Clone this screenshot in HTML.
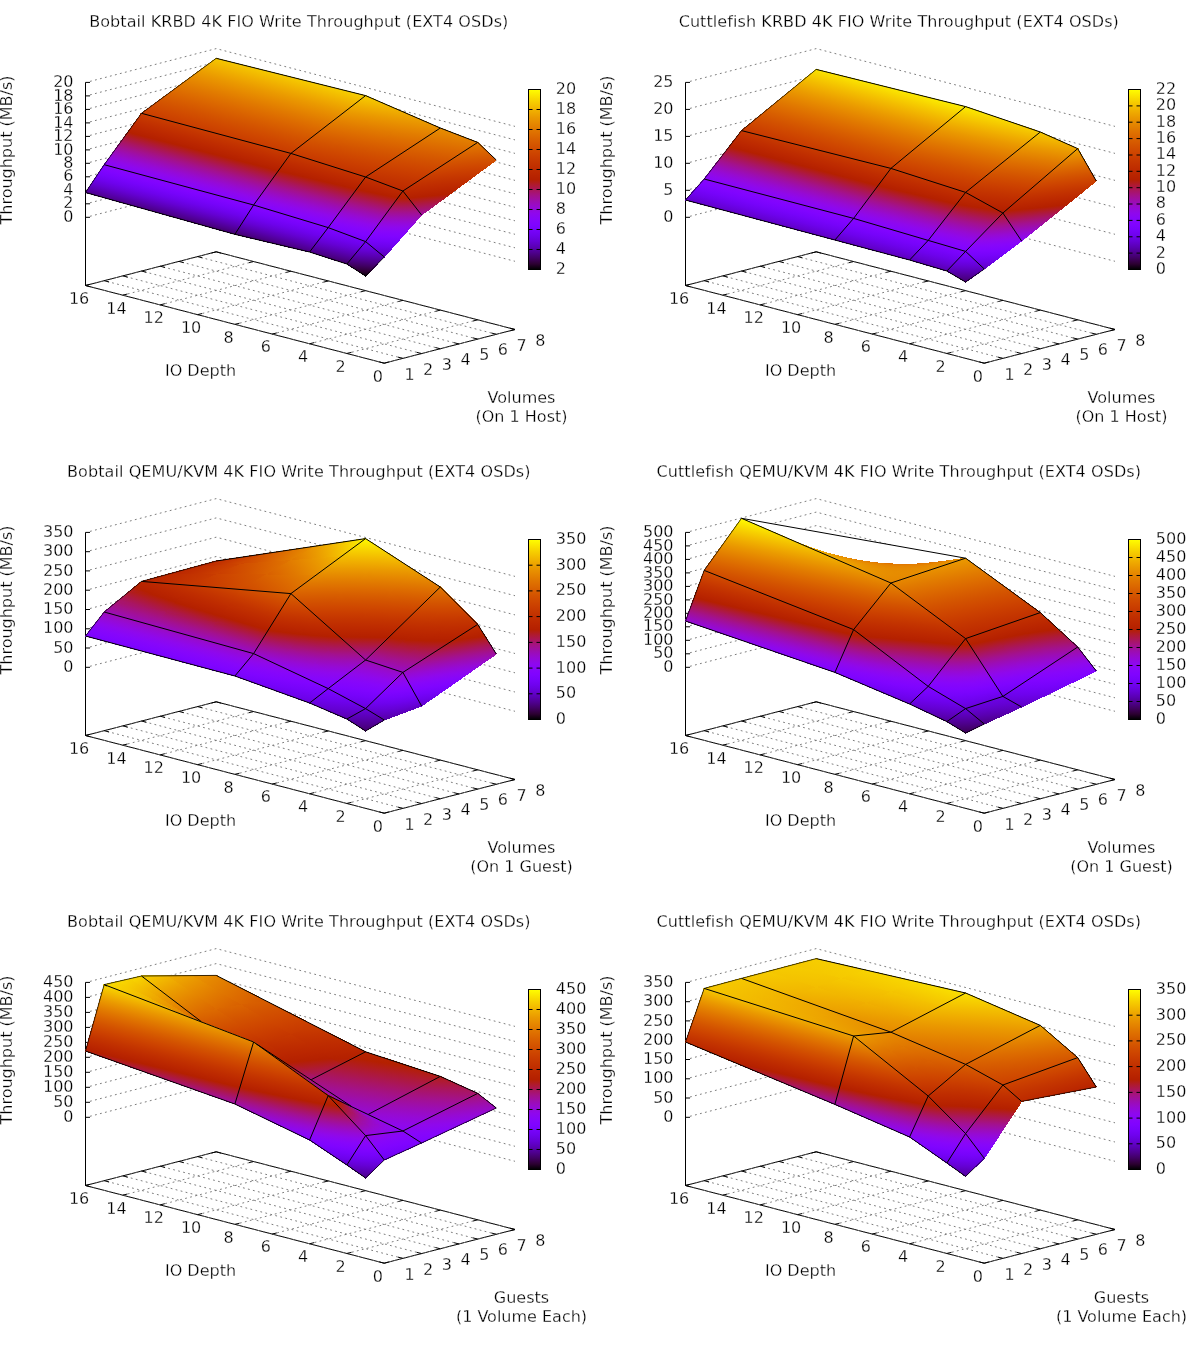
<!DOCTYPE html>
<html><head><meta charset="utf-8"><title>4K FIO Write Throughput</title>
<style>
html,body{margin:0;padding:0;background:#fff}
svg{display:block}
text{font-family:'DejaVu Sans','Liberation Sans',sans-serif;font-size:16px;fill:#000;stroke:#fff;stroke-width:.26px;paint-order:fill stroke}
.t{letter-spacing:.08px}
.s polygon{shape-rendering:crispEdges;stroke-width:1}
.m{fill:none;stroke:#000;stroke-width:1}
.n{stroke-width:.75}
.b{fill:none;stroke:#000;stroke-width:1}
.g{fill:none;stroke:#6e6e6e;stroke-width:.9;stroke-dasharray:1.8 3.35}
</style></head><body>
<svg width="1200" height="1350" viewBox="0 0 1200 1350">
<defs>
<linearGradient id="pal"><stop offset="0" stop-color="#000000"/><stop offset="0.03125" stop-color="#2d0032"/><stop offset="0.0625" stop-color="#400062"/><stop offset="0.09375" stop-color="#4e008e"/><stop offset="0.125" stop-color="#5a00b4"/><stop offset="0.1562" stop-color="#6501d4"/><stop offset="0.1875" stop-color="#6e02ec"/><stop offset="0.2188" stop-color="#7703fa"/><stop offset="0.25" stop-color="#8004ff"/><stop offset="0.2812" stop-color="#8706fa"/><stop offset="0.3125" stop-color="#8f08ec"/><stop offset="0.3438" stop-color="#960ad4"/><stop offset="0.375" stop-color="#9c0db4"/><stop offset="0.4062" stop-color="#a3118e"/><stop offset="0.4375" stop-color="#a91562"/><stop offset="0.4688" stop-color="#af1a32"/><stop offset="0.5" stop-color="#b42000"/><stop offset="0.5312" stop-color="#ba2600"/><stop offset="0.5625" stop-color="#bf2d00"/><stop offset="0.5938" stop-color="#c43500"/><stop offset="0.625" stop-color="#ca3e00"/><stop offset="0.6562" stop-color="#cf4800"/><stop offset="0.6875" stop-color="#d35300"/><stop offset="0.7188" stop-color="#d85f00"/><stop offset="0.75" stop-color="#dd6c00"/><stop offset="0.7812" stop-color="#e17a00"/><stop offset="0.8125" stop-color="#e68900"/><stop offset="0.8438" stop-color="#ea9900"/><stop offset="0.875" stop-color="#efab00"/><stop offset="0.9062" stop-color="#f3be00"/><stop offset="0.9375" stop-color="#f7d200"/><stop offset="0.9688" stop-color="#fbe800"/><stop offset="1" stop-color="#ffff00"/></linearGradient>
<linearGradient id="cbar" href="#pal" x1="0" y1="1" x2="0" y2="0"/>
<linearGradient id="g1" href="#pal" gradientUnits="userSpaceOnUse" x1="173.3" y1="280.1" x2="236.7" y2="43.7"/>
<linearGradient id="g2" href="#pal" gradientUnits="userSpaceOnUse" x1="156.1" y1="274.5" x2="217.7" y2="38.9"/>
<linearGradient id="g3" href="#pal" gradientUnits="userSpaceOnUse" x1="138.5" y1="269" x2="198.4" y2="34.3"/>
<linearGradient id="g4" href="#pal" gradientUnits="userSpaceOnUse" x1="223.7" y1="290.7" x2="286.2" y2="57.4"/>
<linearGradient id="g5" href="#pal" gradientUnits="userSpaceOnUse" x1="206.5" y1="285.1" x2="267.3" y2="52.6"/>
<linearGradient id="g6" href="#pal" gradientUnits="userSpaceOnUse" x1="188.9" y1="279.7" x2="248" y2="48"/>
<linearGradient id="g7" href="#pal" gradientUnits="userSpaceOnUse" x1="274" y1="301.4" x2="335.7" y2="71.1"/>
<linearGradient id="g8" href="#pal" gradientUnits="userSpaceOnUse" x1="256.9" y1="295.9" x2="316.9" y2="66.3"/>
<linearGradient id="g9" href="#pal" gradientUnits="userSpaceOnUse" x1="239.3" y1="290.5" x2="297.7" y2="61.7"/>
<linearGradient id="g10" href="#pal" gradientUnits="userSpaceOnUse" x1="136" y1="222.9" x2="178.7" y2="56.6"/>
<linearGradient id="g11" href="#pal" gradientUnits="userSpaceOnUse" x1="128.5" y1="221" x2="171.1" y2="54.7"/>
<linearGradient id="g12" href="#pal" gradientUnits="userSpaceOnUse" x1="120.9" y1="219" x2="163.5" y2="52.7"/>
<linearGradient id="g13" href="#pal" gradientUnits="userSpaceOnUse" x1="186" y1="235.7" x2="228.6" y2="69.4"/>
<linearGradient id="g14" href="#pal" gradientUnits="userSpaceOnUse" x1="178.4" y1="233.7" x2="221" y2="67.5"/>
<linearGradient id="g15" href="#pal" gradientUnits="userSpaceOnUse" x1="170.9" y1="231.8" x2="213.4" y2="65.6"/>
<linearGradient id="g16" href="#pal" gradientUnits="userSpaceOnUse" x1="235.9" y1="248.4" x2="278.5" y2="82.3"/>
<linearGradient id="g17" href="#pal" gradientUnits="userSpaceOnUse" x1="228.4" y1="246.5" x2="270.9" y2="80.3"/>
<linearGradient id="g18" href="#pal" gradientUnits="userSpaceOnUse" x1="220.8" y1="244.5" x2="263.4" y2="78.4"/>
<linearGradient id="g19" href="#pal" gradientUnits="userSpaceOnUse" x1="115.7" y1="216.1" x2="156.9" y2="55.1"/>
<linearGradient id="g20" href="#pal" gradientUnits="userSpaceOnUse" x1="112.2" y1="215.2" x2="153.1" y2="54.2"/>
<linearGradient id="g21" href="#pal" gradientUnits="userSpaceOnUse" x1="108.6" y1="214.3" x2="149.3" y2="53.3"/>
<linearGradient id="g22" href="#pal" gradientUnits="userSpaceOnUse" x1="165.8" y1="228.7" x2="206.7" y2="68.6"/>
<linearGradient id="g23" href="#pal" gradientUnits="userSpaceOnUse" x1="162.2" y1="227.7" x2="203" y2="67.7"/>
<linearGradient id="g24" href="#pal" gradientUnits="userSpaceOnUse" x1="158.7" y1="226.8" x2="199.2" y2="66.8"/>
<linearGradient id="g25" href="#pal" gradientUnits="userSpaceOnUse" x1="215.8" y1="241.2" x2="256.5" y2="82.1"/>
<linearGradient id="g26" href="#pal" gradientUnits="userSpaceOnUse" x1="212.3" y1="240.3" x2="252.8" y2="81.2"/>
<linearGradient id="g27" href="#pal" gradientUnits="userSpaceOnUse" x1="208.8" y1="239.4" x2="249.1" y2="80.3"/>
<linearGradient id="g28" href="#pal" gradientUnits="userSpaceOnUse" x1="340.2" y1="295.6" x2="369.6" y2="81.4"/>
<linearGradient id="g29" href="#pal" gradientUnits="userSpaceOnUse" x1="313.6" y1="296" x2="349.1" y2="77.4"/>
<linearGradient id="g30" href="#pal" gradientUnits="userSpaceOnUse" x1="287.5" y1="295.6" x2="330.3" y2="72.4"/>
<linearGradient id="g31" href="#pal" gradientUnits="userSpaceOnUse" x1="366.7" y1="304.6" x2="395.3" y2="83.9"/>
<linearGradient id="g32" href="#pal" gradientUnits="userSpaceOnUse" x1="339.5" y1="305.6" x2="374.8" y2="79.7"/>
<linearGradient id="g33" href="#pal" gradientUnits="userSpaceOnUse" x1="312.8" y1="305.8" x2="356" y2="74.3"/>
<linearGradient id="g34" href="#pal" gradientUnits="userSpaceOnUse" x1="393.4" y1="313.9" x2="420.9" y2="85.8"/>
<linearGradient id="g35" href="#pal" gradientUnits="userSpaceOnUse" x1="365.6" y1="315.7" x2="400.4" y2="81.3"/>
<linearGradient id="g36" href="#pal" gradientUnits="userSpaceOnUse" x1="338.1" y1="316.7" x2="381.7" y2="75.6"/>
<linearGradient id="g37" href="#pal" gradientUnits="userSpaceOnUse" x1="275.4" y1="257.6" x2="314.7" y2="91.8"/>
<linearGradient id="g38" href="#pal" gradientUnits="userSpaceOnUse" x1="267.3" y1="255.8" x2="306.9" y2="89.9"/>
<linearGradient id="g39" href="#pal" gradientUnits="userSpaceOnUse" x1="259.3" y1="253.9" x2="299.2" y2="88"/>
<linearGradient id="g40" href="#pal" gradientUnits="userSpaceOnUse" x1="300.7" y1="263.8" x2="340" y2="97.6"/>
<linearGradient id="g41" href="#pal" gradientUnits="userSpaceOnUse" x1="292.6" y1="262" x2="332.2" y2="95.7"/>
<linearGradient id="g42" href="#pal" gradientUnits="userSpaceOnUse" x1="284.6" y1="260.1" x2="324.5" y2="93.8"/>
<linearGradient id="g43" href="#pal" gradientUnits="userSpaceOnUse" x1="326" y1="270" x2="365.4" y2="103.4"/>
<linearGradient id="g44" href="#pal" gradientUnits="userSpaceOnUse" x1="317.9" y1="268.2" x2="357.6" y2="101.5"/>
<linearGradient id="g45" href="#pal" gradientUnits="userSpaceOnUse" x1="309.8" y1="266.3" x2="349.8" y2="99.6"/>
<linearGradient id="g46" href="#pal" gradientUnits="userSpaceOnUse" x1="253.6" y1="250.9" x2="293.3" y2="90.9"/>
<linearGradient id="g47" href="#pal" gradientUnits="userSpaceOnUse" x1="249.7" y1="250.1" x2="290.8" y2="89.9"/>
<linearGradient id="g48" href="#pal" gradientUnits="userSpaceOnUse" x1="246" y1="249.2" x2="288.5" y2="88.9"/>
<linearGradient id="g49" href="#pal" gradientUnits="userSpaceOnUse" x1="278.6" y1="257.9" x2="318.9" y2="94.5"/>
<linearGradient id="g50" href="#pal" gradientUnits="userSpaceOnUse" x1="274.6" y1="257" x2="316.5" y2="93.5"/>
<linearGradient id="g51" href="#pal" gradientUnits="userSpaceOnUse" x1="270.7" y1="256.1" x2="314.2" y2="92.4"/>
<linearGradient id="g52" href="#pal" gradientUnits="userSpaceOnUse" x1="303.6" y1="265" x2="344.7" y2="97.7"/>
<linearGradient id="g53" href="#pal" gradientUnits="userSpaceOnUse" x1="299.4" y1="264.1" x2="342.2" y2="96.6"/>
<linearGradient id="g54" href="#pal" gradientUnits="userSpaceOnUse" x1="295.4" y1="263.1" x2="340" y2="95.4"/>
<linearGradient id="g55" href="#pal" gradientUnits="userSpaceOnUse" x1="408.6" y1="324" x2="441.3" y2="86.1"/>
<linearGradient id="g56" href="#pal" gradientUnits="userSpaceOnUse" x1="385.9" y1="321.4" x2="419.2" y2="82.9"/>
<linearGradient id="g57" href="#pal" gradientUnits="userSpaceOnUse" x1="363.2" y1="318.7" x2="397.3" y2="79.5"/>
<linearGradient id="g58" href="#pal" gradientUnits="userSpaceOnUse" x1="421.5" y1="326.1" x2="454.1" y2="87.8"/>
<linearGradient id="g59" href="#pal" gradientUnits="userSpaceOnUse" x1="398.8" y1="323.5" x2="432.1" y2="84.5"/>
<linearGradient id="g60" href="#pal" gradientUnits="userSpaceOnUse" x1="376.1" y1="320.8" x2="410.2" y2="81.2"/>
<linearGradient id="g61" href="#pal" gradientUnits="userSpaceOnUse" x1="434.4" y1="328.2" x2="467" y2="89.4"/>
<linearGradient id="g62" href="#pal" gradientUnits="userSpaceOnUse" x1="411.7" y1="325.6" x2="444.9" y2="86.2"/>
<linearGradient id="g63" href="#pal" gradientUnits="userSpaceOnUse" x1="389" y1="322.9" x2="423" y2="82.8"/>
<linearGradient id="g64" href="#pal" gradientUnits="userSpaceOnUse" x1="347.4" y1="274.1" x2="382.4" y2="108.1"/>
<linearGradient id="g65" href="#pal" gradientUnits="userSpaceOnUse" x1="338.9" y1="272.3" x2="373.9" y2="106.3"/>
<linearGradient id="g66" href="#pal" gradientUnits="userSpaceOnUse" x1="330.4" y1="270.5" x2="365.4" y2="104.5"/>
<linearGradient id="g67" href="#pal" gradientUnits="userSpaceOnUse" x1="360.2" y1="276.8" x2="395.3" y2="110.8"/>
<linearGradient id="g68" href="#pal" gradientUnits="userSpaceOnUse" x1="351.7" y1="275" x2="386.8" y2="109"/>
<linearGradient id="g69" href="#pal" gradientUnits="userSpaceOnUse" x1="343.2" y1="273.2" x2="378.3" y2="107.2"/>
<linearGradient id="g70" href="#pal" gradientUnits="userSpaceOnUse" x1="373.1" y1="279.5" x2="408.1" y2="113.5"/>
<linearGradient id="g71" href="#pal" gradientUnits="userSpaceOnUse" x1="364.6" y1="277.7" x2="399.6" y2="111.7"/>
<linearGradient id="g72" href="#pal" gradientUnits="userSpaceOnUse" x1="356.1" y1="275.9" x2="391.1" y2="109.9"/>
<linearGradient id="g73" href="#pal" gradientUnits="userSpaceOnUse" x1="323.7" y1="269.9" x2="359.6" y2="100.7"/>
<linearGradient id="g74" href="#pal" gradientUnits="userSpaceOnUse" x1="319.2" y1="269" x2="356.4" y2="99.5"/>
<linearGradient id="g75" href="#pal" gradientUnits="userSpaceOnUse" x1="314.8" y1="268.1" x2="353.4" y2="98.3"/>
<linearGradient id="g76" href="#pal" gradientUnits="userSpaceOnUse" x1="336.5" y1="273" x2="372.5" y2="101.9"/>
<linearGradient id="g77" href="#pal" gradientUnits="userSpaceOnUse" x1="331.9" y1="272.1" x2="369.3" y2="100.7"/>
<linearGradient id="g78" href="#pal" gradientUnits="userSpaceOnUse" x1="327.5" y1="271.2" x2="366.3" y2="99.5"/>
<linearGradient id="g79" href="#pal" gradientUnits="userSpaceOnUse" x1="349.4" y1="276" x2="385.5" y2="103.1"/>
<linearGradient id="g80" href="#pal" gradientUnits="userSpaceOnUse" x1="344.7" y1="275.2" x2="382.3" y2="101.8"/>
<linearGradient id="g81" href="#pal" gradientUnits="userSpaceOnUse" x1="340.2" y1="274.3" x2="379.3" y2="100.5"/>
<linearGradient id="g82" href="#pal" gradientUnits="userSpaceOnUse" x1="477.8" y1="281.4" x2="464.8" y2="106.1"/>
<linearGradient id="g83" href="#pal" gradientUnits="userSpaceOnUse" x1="453.4" y1="279.8" x2="437.9" y2="110"/>
<linearGradient id="g84" href="#pal" gradientUnits="userSpaceOnUse" x1="428.3" y1="279.7" x2="410.9" y2="114.3"/>
<linearGradient id="g85" href="#pal" gradientUnits="userSpaceOnUse" x1="482.5" y1="280.2" x2="471" y2="106"/>
<linearGradient id="g86" href="#pal" gradientUnits="userSpaceOnUse" x1="458.1" y1="278.8" x2="444" y2="109.8"/>
<linearGradient id="g87" href="#pal" gradientUnits="userSpaceOnUse" x1="433" y1="278.7" x2="416.9" y2="114.1"/>
<linearGradient id="g88" href="#pal" gradientUnits="userSpaceOnUse" x1="487.4" y1="279.1" x2="477.2" y2="106"/>
<linearGradient id="g89" href="#pal" gradientUnits="userSpaceOnUse" x1="463" y1="277.9" x2="450.2" y2="109.7"/>
<linearGradient id="g90" href="#pal" gradientUnits="userSpaceOnUse" x1="437.8" y1="277.9" x2="423" y2="113.9"/>
<linearGradient id="g91" href="#pal" gradientUnits="userSpaceOnUse" x1="398.8" y1="274.4" x2="401" y2="121.7"/>
<linearGradient id="g92" href="#pal" gradientUnits="userSpaceOnUse" x1="385.3" y1="275.1" x2="391.1" y2="120"/>
<linearGradient id="g93" href="#pal" gradientUnits="userSpaceOnUse" x1="372.4" y1="275.3" x2="382.5" y2="117.5"/>
<linearGradient id="g94" href="#pal" gradientUnits="userSpaceOnUse" x1="405.7" y1="275" x2="406.5" y2="121"/>
<linearGradient id="g95" href="#pal" gradientUnits="userSpaceOnUse" x1="392.2" y1="275.8" x2="396.6" y2="119.1"/>
<linearGradient id="g96" href="#pal" gradientUnits="userSpaceOnUse" x1="379.3" y1="276.1" x2="388" y2="116.5"/>
<linearGradient id="g97" href="#pal" gradientUnits="userSpaceOnUse" x1="412.6" y1="275.5" x2="411.8" y2="120.2"/>
<linearGradient id="g98" href="#pal" gradientUnits="userSpaceOnUse" x1="399.1" y1="276.4" x2="401.8" y2="118.1"/>
<linearGradient id="g99" href="#pal" gradientUnits="userSpaceOnUse" x1="386" y1="276.9" x2="393.3" y2="115.1"/>
<linearGradient id="g100" href="#pal" gradientUnits="userSpaceOnUse" x1="363.7" y1="276" x2="374.9" y2="111.8"/>
<linearGradient id="g101" href="#pal" gradientUnits="userSpaceOnUse" x1="357.6" y1="275.8" x2="371.4" y2="110.1"/>
<linearGradient id="g102" href="#pal" gradientUnits="userSpaceOnUse" x1="351.8" y1="275.4" x2="368.3" y2="108.1"/>
<linearGradient id="g103" href="#pal" gradientUnits="userSpaceOnUse" x1="370.4" y1="276.7" x2="380.4" y2="110.5"/>
<linearGradient id="g104" href="#pal" gradientUnits="userSpaceOnUse" x1="364.3" y1="276.5" x2="376.9" y2="108.6"/>
<linearGradient id="g105" href="#pal" gradientUnits="userSpaceOnUse" x1="358.5" y1="276.2" x2="373.9" y2="106.4"/>
<linearGradient id="g106" href="#pal" gradientUnits="userSpaceOnUse" x1="377" y1="277.4" x2="385.6" y2="108.9"/>
<linearGradient id="g107" href="#pal" gradientUnits="userSpaceOnUse" x1="370.9" y1="277.2" x2="382.2" y2="106.8"/>
<linearGradient id="g108" href="#pal" gradientUnits="userSpaceOnUse" x1="365.1" y1="276.9" x2="379.3" y2="104.4"/>
<linearGradient id="g109" href="#pal" gradientUnits="userSpaceOnUse" x1="176.2" y1="280" x2="234.2" y2="65.4"/>
<linearGradient id="g110" href="#pal" gradientUnits="userSpaceOnUse" x1="158.4" y1="275" x2="216.1" y2="60.6"/>
<linearGradient id="g111" href="#pal" gradientUnits="userSpaceOnUse" x1="140.5" y1="270.1" x2="197.9" y2="55.7"/>
<linearGradient id="g112" href="#pal" gradientUnits="userSpaceOnUse" x1="225.9" y1="292.9" x2="283.7" y2="78.8"/>
<linearGradient id="g113" href="#pal" gradientUnits="userSpaceOnUse" x1="208.1" y1="288" x2="265.6" y2="74"/>
<linearGradient id="g114" href="#pal" gradientUnits="userSpaceOnUse" x1="190.2" y1="283" x2="247.4" y2="69.2"/>
<linearGradient id="g115" href="#pal" gradientUnits="userSpaceOnUse" x1="275.6" y1="305.9" x2="333.3" y2="92.3"/>
<linearGradient id="g116" href="#pal" gradientUnits="userSpaceOnUse" x1="257.8" y1="300.9" x2="315.2" y2="87.4"/>
<linearGradient id="g117" href="#pal" gradientUnits="userSpaceOnUse" x1="239.9" y1="296" x2="297" y2="82.6"/>
<linearGradient id="g118" href="#pal" gradientUnits="userSpaceOnUse" x1="135.9" y1="237.4" x2="179.7" y2="71"/>
<linearGradient id="g119" href="#pal" gradientUnits="userSpaceOnUse" x1="128.4" y1="235.4" x2="171.8" y2="69"/>
<linearGradient id="g120" href="#pal" gradientUnits="userSpaceOnUse" x1="120.8" y1="233.4" x2="163.9" y2="67"/>
<linearGradient id="g121" href="#pal" gradientUnits="userSpaceOnUse" x1="185.7" y1="250.1" x2="229.3" y2="84.4"/>
<linearGradient id="g122" href="#pal" gradientUnits="userSpaceOnUse" x1="178.2" y1="248" x2="221.5" y2="82.4"/>
<linearGradient id="g123" href="#pal" gradientUnits="userSpaceOnUse" x1="170.7" y1="246" x2="213.6" y2="80.4"/>
<linearGradient id="g124" href="#pal" gradientUnits="userSpaceOnUse" x1="235.5" y1="262.7" x2="278.9" y2="97.8"/>
<linearGradient id="g125" href="#pal" gradientUnits="userSpaceOnUse" x1="228.1" y1="260.7" x2="271.1" y2="95.8"/>
<linearGradient id="g126" href="#pal" gradientUnits="userSpaceOnUse" x1="220.6" y1="258.7" x2="263.3" y2="93.8"/>
<linearGradient id="g127" href="#pal" gradientUnits="userSpaceOnUse" x1="114.2" y1="234.9" x2="159.8" y2="57.7"/>
<linearGradient id="g128" href="#pal" gradientUnits="userSpaceOnUse" x1="110" y1="233.8" x2="155.6" y2="56.6"/>
<linearGradient id="g129" href="#pal" gradientUnits="userSpaceOnUse" x1="105.9" y1="232.7" x2="151.3" y2="55.6"/>
<linearGradient id="g130" href="#pal" gradientUnits="userSpaceOnUse" x1="164.1" y1="247.5" x2="209.6" y2="71.1"/>
<linearGradient id="g131" href="#pal" gradientUnits="userSpaceOnUse" x1="160" y1="246.5" x2="205.3" y2="70.1"/>
<linearGradient id="g132" href="#pal" gradientUnits="userSpaceOnUse" x1="155.9" y1="245.4" x2="201.1" y2="69"/>
<linearGradient id="g133" href="#pal" gradientUnits="userSpaceOnUse" x1="214" y1="260.2" x2="259.3" y2="84.6"/>
<linearGradient id="g134" href="#pal" gradientUnits="userSpaceOnUse" x1="209.9" y1="259.1" x2="255.1" y2="83.5"/>
<linearGradient id="g135" href="#pal" gradientUnits="userSpaceOnUse" x1="205.8" y1="258.1" x2="250.8" y2="82.5"/>
<linearGradient id="g136" href="#pal" gradientUnits="userSpaceOnUse" x1="328.5" y1="308.5" x2="369.4" y2="102.1"/>
<linearGradient id="g137" href="#pal" gradientUnits="userSpaceOnUse" x1="307.6" y1="304.9" x2="349.6" y2="98"/>
<linearGradient id="g138" href="#pal" gradientUnits="userSpaceOnUse" x1="287" y1="301.2" x2="330" y2="93.8"/>
<linearGradient id="g139" href="#pal" gradientUnits="userSpaceOnUse" x1="354" y1="314.4" x2="394.9" y2="107.1"/>
<linearGradient id="g140" href="#pal" gradientUnits="userSpaceOnUse" x1="333" y1="310.8" x2="375.1" y2="103"/>
<linearGradient id="g141" href="#pal" gradientUnits="userSpaceOnUse" x1="312.4" y1="307.2" x2="355.5" y2="98.7"/>
<linearGradient id="g142" href="#pal" gradientUnits="userSpaceOnUse" x1="379.5" y1="320.3" x2="420.5" y2="112"/>
<linearGradient id="g143" href="#pal" gradientUnits="userSpaceOnUse" x1="358.5" y1="316.7" x2="400.6" y2="107.9"/>
<linearGradient id="g144" href="#pal" gradientUnits="userSpaceOnUse" x1="337.8" y1="313.1" x2="381" y2="103.6"/>
<linearGradient id="g145" href="#pal" gradientUnits="userSpaceOnUse" x1="275.8" y1="271.8" x2="314.3" y2="107.6"/>
<linearGradient id="g146" href="#pal" gradientUnits="userSpaceOnUse" x1="267.4" y1="270" x2="306.5" y2="105.6"/>
<linearGradient id="g147" href="#pal" gradientUnits="userSpaceOnUse" x1="259.1" y1="268.1" x2="298.9" y2="103.6"/>
<linearGradient id="g148" href="#pal" gradientUnits="userSpaceOnUse" x1="301.1" y1="278.2" x2="339.7" y2="113.1"/>
<linearGradient id="g149" href="#pal" gradientUnits="userSpaceOnUse" x1="292.6" y1="276.4" x2="331.9" y2="111.1"/>
<linearGradient id="g150" href="#pal" gradientUnits="userSpaceOnUse" x1="284.2" y1="274.5" x2="324.2" y2="109.1"/>
<linearGradient id="g151" href="#pal" gradientUnits="userSpaceOnUse" x1="326.3" y1="284.6" x2="365.1" y2="118.6"/>
<linearGradient id="g152" href="#pal" gradientUnits="userSpaceOnUse" x1="317.8" y1="282.8" x2="357.2" y2="116.6"/>
<linearGradient id="g153" href="#pal" gradientUnits="userSpaceOnUse" x1="309.4" y1="280.9" x2="349.6" y2="114.6"/>
<linearGradient id="g154" href="#pal" gradientUnits="userSpaceOnUse" x1="252.2" y1="269.7" x2="294.9" y2="93.9"/>
<linearGradient id="g155" href="#pal" gradientUnits="userSpaceOnUse" x1="247.7" y1="268.8" x2="291.4" y2="92.6"/>
<linearGradient id="g156" href="#pal" gradientUnits="userSpaceOnUse" x1="243.4" y1="267.7" x2="288" y2="91.4"/>
<linearGradient id="g157" href="#pal" gradientUnits="userSpaceOnUse" x1="277.2" y1="276.5" x2="320.5" y2="98"/>
<linearGradient id="g158" href="#pal" gradientUnits="userSpaceOnUse" x1="272.7" y1="275.5" x2="317" y2="96.7"/>
<linearGradient id="g159" href="#pal" gradientUnits="userSpaceOnUse" x1="268.3" y1="274.5" x2="313.6" y2="95.4"/>
<linearGradient id="g160" href="#pal" gradientUnits="userSpaceOnUse" x1="302.2" y1="283.3" x2="346.1" y2="101.9"/>
<linearGradient id="g161" href="#pal" gradientUnits="userSpaceOnUse" x1="297.7" y1="282.3" x2="342.6" y2="100.6"/>
<linearGradient id="g162" href="#pal" gradientUnits="userSpaceOnUse" x1="293.2" y1="281.3" x2="339.2" y2="99.3"/>
<linearGradient id="g163" href="#pal" gradientUnits="userSpaceOnUse" x1="413.4" y1="313.4" x2="437.5" y2="116.9"/>
<linearGradient id="g164" href="#pal" gradientUnits="userSpaceOnUse" x1="394.1" y1="308.6" x2="414.5" y2="114.9"/>
<linearGradient id="g165" href="#pal" gradientUnits="userSpaceOnUse" x1="373.6" y1="304.6" x2="390.8" y2="113.5"/>
<linearGradient id="g166" href="#pal" gradientUnits="userSpaceOnUse" x1="426.1" y1="313.4" x2="450.5" y2="118.8"/>
<linearGradient id="g167" href="#pal" gradientUnits="userSpaceOnUse" x1="406.7" y1="308.7" x2="427.6" y2="116.8"/>
<linearGradient id="g168" href="#pal" gradientUnits="userSpaceOnUse" x1="386.2" y1="304.8" x2="403.9" y2="115.4"/>
<linearGradient id="g169" href="#pal" gradientUnits="userSpaceOnUse" x1="438.8" y1="313.5" x2="463.6" y2="120.8"/>
<linearGradient id="g170" href="#pal" gradientUnits="userSpaceOnUse" x1="419.4" y1="308.9" x2="440.7" y2="118.7"/>
<linearGradient id="g171" href="#pal" gradientUnits="userSpaceOnUse" x1="398.9" y1="305.1" x2="417.1" y2="117.3"/>
<linearGradient id="g172" href="#pal" gradientUnits="userSpaceOnUse" x1="352.5" y1="287.9" x2="378.1" y2="123.3"/>
<linearGradient id="g173" href="#pal" gradientUnits="userSpaceOnUse" x1="340.5" y1="287.1" x2="371.5" y2="120.6"/>
<linearGradient id="g174" href="#pal" gradientUnits="userSpaceOnUse" x1="329.3" y1="286" x2="366.6" y2="117.7"/>
<linearGradient id="g175" href="#pal" gradientUnits="userSpaceOnUse" x1="365.9" y1="291.9" x2="390.8" y2="123.3"/>
<linearGradient id="g176" href="#pal" gradientUnits="userSpaceOnUse" x1="353.5" y1="291.3" x2="384.3" y2="120.3"/>
<linearGradient id="g177" href="#pal" gradientUnits="userSpaceOnUse" x1="341.9" y1="290.3" x2="379.8" y2="117"/>
<linearGradient id="g178" href="#pal" gradientUnits="userSpaceOnUse" x1="379.4" y1="295.9" x2="403.5" y2="122.7"/>
<linearGradient id="g179" href="#pal" gradientUnits="userSpaceOnUse" x1="366.6" y1="295.7" x2="397.1" y2="119.3"/>
<linearGradient id="g180" href="#pal" gradientUnits="userSpaceOnUse" x1="354.4" y1="294.9" x2="392.9" y2="115.5"/>
<linearGradient id="g181" href="#pal" gradientUnits="userSpaceOnUse" x1="321.2" y1="288.2" x2="364.8" y2="105.3"/>
<linearGradient id="g182" href="#pal" gradientUnits="userSpaceOnUse" x1="316.7" y1="287.1" x2="360.4" y2="104.3"/>
<linearGradient id="g183" href="#pal" gradientUnits="userSpaceOnUse" x1="312.3" y1="286.1" x2="356" y2="103.2"/>
<linearGradient id="g184" href="#pal" gradientUnits="userSpaceOnUse" x1="333.8" y1="291.2" x2="377.4" y2="108.4"/>
<linearGradient id="g185" href="#pal" gradientUnits="userSpaceOnUse" x1="329.4" y1="290.1" x2="373" y2="107.3"/>
<linearGradient id="g186" href="#pal" gradientUnits="userSpaceOnUse" x1="324.9" y1="289.1" x2="368.6" y2="106.2"/>
<linearGradient id="g187" href="#pal" gradientUnits="userSpaceOnUse" x1="346.4" y1="294.2" x2="390" y2="111.4"/>
<linearGradient id="g188" href="#pal" gradientUnits="userSpaceOnUse" x1="342" y1="293.1" x2="385.6" y2="110.3"/>
<linearGradient id="g189" href="#pal" gradientUnits="userSpaceOnUse" x1="337.5" y1="292.1" x2="381.2" y2="109.3"/>
<linearGradient id="g190" href="#pal" gradientUnits="userSpaceOnUse" x1="480.3" y1="277.6" x2="464.7" y2="130.2"/>
<linearGradient id="g191" href="#pal" gradientUnits="userSpaceOnUse" x1="453" y1="281.3" x2="438.1" y2="132.6"/>
<linearGradient id="g192" href="#pal" gradientUnits="userSpaceOnUse" x1="425.8" y1="284.8" x2="411.7" y2="134.5"/>
<linearGradient id="g193" href="#pal" gradientUnits="userSpaceOnUse" x1="485.8" y1="277.1" x2="469.5" y2="129.6"/>
<linearGradient id="g194" href="#pal" gradientUnits="userSpaceOnUse" x1="458.5" y1="280.9" x2="443" y2="132"/>
<linearGradient id="g195" href="#pal" gradientUnits="userSpaceOnUse" x1="431.3" y1="284.4" x2="416.7" y2="133.9"/>
<linearGradient id="g196" href="#pal" gradientUnits="userSpaceOnUse" x1="491.1" y1="276.7" x2="474.3" y2="129"/>
<linearGradient id="g197" href="#pal" gradientUnits="userSpaceOnUse" x1="463.9" y1="280.5" x2="447.8" y2="131.3"/>
<linearGradient id="g198" href="#pal" gradientUnits="userSpaceOnUse" x1="436.8" y1="284" x2="421.5" y2="133.2"/>
<linearGradient id="g199" href="#pal" gradientUnits="userSpaceOnUse" x1="403.5" y1="286.8" x2="394.7" y2="135.7"/>
<linearGradient id="g200" href="#pal" gradientUnits="userSpaceOnUse" x1="389.3" y1="288.9" x2="383.7" y2="133.9"/>
<linearGradient id="g201" href="#pal" gradientUnits="userSpaceOnUse" x1="375.3" y1="290.6" x2="373.9" y2="130.9"/>
<linearGradient id="g202" href="#pal" gradientUnits="userSpaceOnUse" x1="410.1" y1="286.9" x2="398.8" y2="134.5"/>
<linearGradient id="g203" href="#pal" gradientUnits="userSpaceOnUse" x1="396" y1="289.2" x2="387.7" y2="132.4"/>
<linearGradient id="g204" href="#pal" gradientUnits="userSpaceOnUse" x1="382.1" y1="291.1" x2="377.9" y2="128.9"/>
<linearGradient id="g205" href="#pal" gradientUnits="userSpaceOnUse" x1="416.5" y1="286.9" x2="402.2" y2="133.1"/>
<linearGradient id="g206" href="#pal" gradientUnits="userSpaceOnUse" x1="402.6" y1="289.4" x2="391.1" y2="130.6"/>
<linearGradient id="g207" href="#pal" gradientUnits="userSpaceOnUse" x1="388.8" y1="291.5" x2="381.1" y2="126.5"/>
<linearGradient id="g208" href="#pal" gradientUnits="userSpaceOnUse" x1="364.8" y1="291.5" x2="368.4" y2="127.6"/>
<linearGradient id="g209" href="#pal" gradientUnits="userSpaceOnUse" x1="358" y1="292.1" x2="366.1" y2="124.2"/>
<linearGradient id="g210" href="#pal" gradientUnits="userSpaceOnUse" x1="351.3" y1="292.4" x2="365.2" y2="120"/>
<linearGradient id="g211" href="#pal" gradientUnits="userSpaceOnUse" x1="371.8" y1="292.4" x2="371.7" y2="124.2"/>
<linearGradient id="g212" href="#pal" gradientUnits="userSpaceOnUse" x1="364.9" y1="293.2" x2="369.5" y2="119.8"/>
<linearGradient id="g213" href="#pal" gradientUnits="userSpaceOnUse" x1="358.2" y1="293.7" x2="368.8" y2="114.5"/>
<linearGradient id="g214" href="#pal" gradientUnits="userSpaceOnUse" x1="378.7" y1="293.2" x2="373.9" y2="119.9"/>
<linearGradient id="g215" href="#pal" gradientUnits="userSpaceOnUse" x1="371.8" y1="294.1" x2="371.6" y2="114.3"/>
<linearGradient id="g216" href="#pal" gradientUnits="userSpaceOnUse" x1="365" y1="294.8" x2="371.2" y2="107.1"/>
<linearGradient id="g217" href="#pal" gradientUnits="userSpaceOnUse" x1="193.1" y1="40.8" x2="251.9" y2="157.9"/>
<linearGradient id="g218" href="#pal" gradientUnits="userSpaceOnUse" x1="138.4" y1="7.5" x2="249.6" y2="199.4"/>
<linearGradient id="g219" href="#pal" gradientUnits="userSpaceOnUse" x1="33.7" y1="-56.6" x2="287.9" y2="268.6"/>
<linearGradient id="g220" href="#pal" gradientUnits="userSpaceOnUse" x1="100.8" y1="-9.7" x2="340.2" y2="146.3"/>
<linearGradient id="g221" href="#pal" gradientUnits="userSpaceOnUse" x1="-51.4" y1="50" x2="386.4" y2="148.5"/>
<linearGradient id="g222" href="#pal" gradientUnits="userSpaceOnUse" x1="-130.2" y1="257" x2="421" y2="63.8"/>
<linearGradient id="g223" href="#pal" gradientUnits="userSpaceOnUse" x1="13.4" y1="167.2" x2="371.5" y2="91.4"/>
<linearGradient id="g224" href="#pal" gradientUnits="userSpaceOnUse" x1="36.4" y1="290.4" x2="367.9" y2="75"/>
<linearGradient id="g225" href="#pal" gradientUnits="userSpaceOnUse" x1="100.4" y1="346.8" x2="343.9" y2="55"/>
<linearGradient id="g226" href="#pal" gradientUnits="userSpaceOnUse" x1="113.4" y1="258.3" x2="201.6" y2="34.1"/>
<linearGradient id="g227" href="#pal" gradientUnits="userSpaceOnUse" x1="113.9" y1="255.1" x2="186.4" y2="32.5"/>
<linearGradient id="g228" href="#pal" gradientUnits="userSpaceOnUse" x1="111.4" y1="251.5" x2="170.8" y2="31.8"/>
<linearGradient id="g229" href="#pal" gradientUnits="userSpaceOnUse" x1="169.8" y1="259.4" x2="238.6" y2="63.7"/>
<linearGradient id="g230" href="#pal" gradientUnits="userSpaceOnUse" x1="167.8" y1="257.1" x2="227.7" y2="61.8"/>
<linearGradient id="g231" href="#pal" gradientUnits="userSpaceOnUse" x1="163.8" y1="254.6" x2="215.9" y2="60.2"/>
<linearGradient id="g232" href="#pal" gradientUnits="userSpaceOnUse" x1="221.9" y1="265.6" x2="281.3" y2="85.6"/>
<linearGradient id="g233" href="#pal" gradientUnits="userSpaceOnUse" x1="219.3" y1="263.8" x2="272.6" y2="83.8"/>
<linearGradient id="g234" href="#pal" gradientUnits="userSpaceOnUse" x1="215.1" y1="261.8" x2="263" y2="82"/>
<linearGradient id="g235" href="#pal" gradientUnits="userSpaceOnUse" x1="109.3" y1="239.2" x2="157.3" y2="48.4"/>
<linearGradient id="g236" href="#pal" gradientUnits="userSpaceOnUse" x1="105.2" y1="238.2" x2="153.6" y2="47.4"/>
<linearGradient id="g237" href="#pal" gradientUnits="userSpaceOnUse" x1="101.1" y1="237.2" x2="149.9" y2="46.3"/>
<linearGradient id="g238" href="#pal" gradientUnits="userSpaceOnUse" x1="159.2" y1="252.4" x2="207.7" y2="59.8"/>
<linearGradient id="g239" href="#pal" gradientUnits="userSpaceOnUse" x1="155.1" y1="251.4" x2="203.9" y2="58.8"/>
<linearGradient id="g240" href="#pal" gradientUnits="userSpaceOnUse" x1="151" y1="250.4" x2="200.2" y2="57.7"/>
<linearGradient id="g241" href="#pal" gradientUnits="userSpaceOnUse" x1="209.1" y1="265.7" x2="258.1" y2="71.1"/>
<linearGradient id="g242" href="#pal" gradientUnits="userSpaceOnUse" x1="205" y1="264.7" x2="254.3" y2="70.1"/>
<linearGradient id="g243" href="#pal" gradientUnits="userSpaceOnUse" x1="200.8" y1="263.7" x2="250.5" y2="69"/>
<linearGradient id="g244" href="#pal" gradientUnits="userSpaceOnUse" x1="360.7" y1="295.7" x2="366.1" y2="87.2"/>
<linearGradient id="g245" href="#pal" gradientUnits="userSpaceOnUse" x1="340.1" y1="290.6" x2="340.9" y2="87.7"/>
<linearGradient id="g246" href="#pal" gradientUnits="userSpaceOnUse" x1="318" y1="286.9" x2="314.9" y2="89"/>
<linearGradient id="g247" href="#pal" gradientUnits="userSpaceOnUse" x1="383.1" y1="291.4" x2="392" y2="88.9"/>
<linearGradient id="g248" href="#pal" gradientUnits="userSpaceOnUse" x1="362.5" y1="287.1" x2="366.8" y2="89.2"/>
<linearGradient id="g249" href="#pal" gradientUnits="userSpaceOnUse" x1="340.3" y1="284" x2="341" y2="90.3"/>
<linearGradient id="g250" href="#pal" gradientUnits="userSpaceOnUse" x1="406.6" y1="288.6" x2="418.4" y2="91.4"/>
<linearGradient id="g251" href="#pal" gradientUnits="userSpaceOnUse" x1="385.9" y1="284.9" x2="393.3" y2="91.4"/>
<linearGradient id="g252" href="#pal" gradientUnits="userSpaceOnUse" x1="363.8" y1="282.2" x2="367.5" y2="92.3"/>
<linearGradient id="g253" href="#pal" gradientUnits="userSpaceOnUse" x1="286.9" y1="269.7" x2="303.6" y2="97.1"/>
<linearGradient id="g254" href="#pal" gradientUnits="userSpaceOnUse" x1="273.5" y1="269.8" x2="295.7" y2="95"/>
<linearGradient id="g255" href="#pal" gradientUnits="userSpaceOnUse" x1="261" y1="269.4" x2="289.8" y2="92.5"/>
<linearGradient id="g256" href="#pal" gradientUnits="userSpaceOnUse" x1="315.9" y1="276.4" x2="327.9" y2="95.7"/>
<linearGradient id="g257" href="#pal" gradientUnits="userSpaceOnUse" x1="301.8" y1="277.3" x2="320.2" y2="92.8"/>
<linearGradient id="g258" href="#pal" gradientUnits="userSpaceOnUse" x1="288.1" y1="277.6" x2="314.7" y2="89.2"/>
<linearGradient id="g259" href="#pal" gradientUnits="userSpaceOnUse" x1="345.2" y1="282.8" x2="349.4" y2="90.7"/>
<linearGradient id="g260" href="#pal" gradientUnits="userSpaceOnUse" x1="330.5" y1="285" x2="342" y2="86.1"/>
<linearGradient id="g261" href="#pal" gradientUnits="userSpaceOnUse" x1="315.8" y1="286.6" x2="337.5" y2="79.9"/>
<linearGradient id="g262" href="#pal" gradientUnits="userSpaceOnUse" x1="252.6" y1="274.4" x2="285.3" y2="79.2"/>
<linearGradient id="g263" href="#pal" gradientUnits="userSpaceOnUse" x1="246.8" y1="273.9" x2="282.6" y2="77.5"/>
<linearGradient id="g264" href="#pal" gradientUnits="userSpaceOnUse" x1="241.3" y1="273.3" x2="280.4" y2="75.7"/>
<linearGradient id="g265" href="#pal" gradientUnits="userSpaceOnUse" x1="279" y1="281.7" x2="310.5" y2="75.8"/>
<linearGradient id="g266" href="#pal" gradientUnits="userSpaceOnUse" x1="272.9" y1="281.4" x2="308.1" y2="73.6"/>
<linearGradient id="g267" href="#pal" gradientUnits="userSpaceOnUse" x1="267" y1="281" x2="306.3" y2="71.2"/>
<linearGradient id="g268" href="#pal" gradientUnits="userSpaceOnUse" x1="305.5" y1="289.3" x2="334.9" y2="68.6"/>
<linearGradient id="g269" href="#pal" gradientUnits="userSpaceOnUse" x1="299.1" y1="289.3" x2="333.1" y2="65.5"/>
<linearGradient id="g270" href="#pal" gradientUnits="userSpaceOnUse" x1="292.8" y1="289.1" x2="332" y2="62.2"/>
<linearGradient id="g271" href="#pal" gradientUnits="userSpaceOnUse" x1="433.2" y1="283.3" x2="434.5" y2="94.7"/>
<linearGradient id="g272" href="#pal" gradientUnits="userSpaceOnUse" x1="402.4" y1="289" x2="414.5" y2="90"/>
<linearGradient id="g273" href="#pal" gradientUnits="userSpaceOnUse" x1="370.9" y1="293.3" x2="401.5" y2="81.2"/>
<linearGradient id="g274" href="#pal" gradientUnits="userSpaceOnUse" x1="448.6" y1="286.5" x2="445.3" y2="93"/>
<linearGradient id="g275" href="#pal" gradientUnits="userSpaceOnUse" x1="417.5" y1="293.9" x2="425.4" y2="87.1"/>
<linearGradient id="g276" href="#pal" gradientUnits="userSpaceOnUse" x1="384.8" y1="300.6" x2="413.2" y2="75.7"/>
<linearGradient id="g277" href="#pal" gradientUnits="userSpaceOnUse" x1="464.2" y1="289.6" x2="455" y2="90.3"/>
<linearGradient id="g278" href="#pal" gradientUnits="userSpaceOnUse" x1="433.1" y1="299.1" x2="435.1" y2="82.7"/>
<linearGradient id="g279" href="#pal" gradientUnits="userSpaceOnUse" x1="399.2" y1="309.3" x2="423.9" y2="67.1"/>
<linearGradient id="g280" href="#pal" gradientUnits="userSpaceOnUse" x1="351.1" y1="299.6" x2="392.3" y2="64.2"/>
<linearGradient id="g281" href="#pal" gradientUnits="userSpaceOnUse" x1="343.9" y1="295.7" x2="374.5" y2="67.4"/>
<linearGradient id="g282" href="#pal" gradientUnits="userSpaceOnUse" x1="335.1" y1="292.6" x2="357.3" y2="70.8"/>
<linearGradient id="g283" href="#pal" gradientUnits="userSpaceOnUse" x1="364" y1="298.3" x2="405.2" y2="73.4"/>
<linearGradient id="g284" href="#pal" gradientUnits="userSpaceOnUse" x1="356.5" y1="294.9" x2="388.3" y2="75.5"/>
<linearGradient id="g285" href="#pal" gradientUnits="userSpaceOnUse" x1="347.6" y1="292.2" x2="371.8" y2="78"/>
<linearGradient id="g286" href="#pal" gradientUnits="userSpaceOnUse" x1="376.9" y1="297.8" x2="417.9" y2="81.6"/>
<linearGradient id="g287" href="#pal" gradientUnits="userSpaceOnUse" x1="369.3" y1="294.8" x2="401.9" y2="82.9"/>
<linearGradient id="g288" href="#pal" gradientUnits="userSpaceOnUse" x1="360.3" y1="292.3" x2="386" y2="84.6"/>
<linearGradient id="g289" href="#pal" gradientUnits="userSpaceOnUse" x1="327.5" y1="293.3" x2="345.5" y2="64.8"/>
<linearGradient id="g290" href="#pal" gradientUnits="userSpaceOnUse" x1="320.8" y1="293.7" x2="343.1" y2="61"/>
<linearGradient id="g291" href="#pal" gradientUnits="userSpaceOnUse" x1="314.2" y1="293.9" x2="341.5" y2="56.9"/>
<linearGradient id="g292" href="#pal" gradientUnits="userSpaceOnUse" x1="341.1" y1="296.4" x2="355.3" y2="57.1"/>
<linearGradient id="g293" href="#pal" gradientUnits="userSpaceOnUse" x1="334.3" y1="297" x2="353.2" y2="52.3"/>
<linearGradient id="g294" href="#pal" gradientUnits="userSpaceOnUse" x1="327.6" y1="297.4" x2="352" y2="47"/>
<linearGradient id="g295" href="#pal" gradientUnits="userSpaceOnUse" x1="354.8" y1="299.4" x2="363.6" y2="46.9"/>
<linearGradient id="g296" href="#pal" gradientUnits="userSpaceOnUse" x1="347.9" y1="300.2" x2="361.9" y2="40.7"/>
<linearGradient id="g297" href="#pal" gradientUnits="userSpaceOnUse" x1="341.1" y1="301" x2="361.1" y2="33.6"/>
<linearGradient id="g298" href="#pal" gradientUnits="userSpaceOnUse" x1="480.6" y1="274" x2="456.3" y2="102.7"/>
<linearGradient id="g299" href="#pal" gradientUnits="userSpaceOnUse" x1="454.2" y1="277" x2="429.3" y2="107.5"/>
<linearGradient id="g300" href="#pal" gradientUnits="userSpaceOnUse" x1="427.6" y1="280.4" x2="402.3" y2="112.4"/>
<linearGradient id="g301" href="#pal" gradientUnits="userSpaceOnUse" x1="485" y1="273.2" x2="461.4" y2="102.1"/>
<linearGradient id="g302" href="#pal" gradientUnits="userSpaceOnUse" x1="458.5" y1="276.3" x2="434.3" y2="106.9"/>
<linearGradient id="g303" href="#pal" gradientUnits="userSpaceOnUse" x1="431.9" y1="279.6" x2="407.3" y2="111.9"/>
<linearGradient id="g304" href="#pal" gradientUnits="userSpaceOnUse" x1="489.5" y1="272.5" x2="466.6" y2="101.6"/>
<linearGradient id="g305" href="#pal" gradientUnits="userSpaceOnUse" x1="462.9" y1="275.6" x2="439.4" y2="106.4"/>
<linearGradient id="g306" href="#pal" gradientUnits="userSpaceOnUse" x1="436.3" y1="278.9" x2="412.3" y2="111.3"/>
<linearGradient id="g307" href="#pal" gradientUnits="userSpaceOnUse" x1="404.6" y1="283.3" x2="388.4" y2="114.5"/>
<linearGradient id="g308" href="#pal" gradientUnits="userSpaceOnUse" x1="389.8" y1="286.9" x2="379.8" y2="108.3"/>
<linearGradient id="g309" href="#pal" gradientUnits="userSpaceOnUse" x1="374.5" y1="290.4" x2="376.7" y2="96.8"/>
<linearGradient id="g310" href="#pal" gradientUnits="userSpaceOnUse" x1="411.5" y1="283.4" x2="388.2" y2="112.3"/>
<linearGradient id="g311" href="#pal" gradientUnits="userSpaceOnUse" x1="397.2" y1="287.6" x2="378.6" y2="104.1"/>
<linearGradient id="g312" href="#pal" gradientUnits="userSpaceOnUse" x1="382.4" y1="292.3" x2="374.4" y2="87.5"/>
<linearGradient id="g313" href="#pal" gradientUnits="userSpaceOnUse" x1="417.8" y1="283.1" x2="385.6" y2="109.9"/>
<linearGradient id="g314" href="#pal" gradientUnits="userSpaceOnUse" x1="404.5" y1="287.9" x2="374" y2="99.2"/>
<linearGradient id="g315" href="#pal" gradientUnits="userSpaceOnUse" x1="390.7" y1="294.1" x2="365.7" y2="74.9"/>
<linearGradient id="g316" href="#pal" gradientUnits="userSpaceOnUse" x1="366.3" y1="297.7" x2="361.6" y2="56.9"/>
<linearGradient id="g317" href="#pal" gradientUnits="userSpaceOnUse" x1="360.1" y1="297.6" x2="354.6" y2="58.5"/>
<linearGradient id="g318" href="#pal" gradientUnits="userSpaceOnUse" x1="353.9" y1="297.6" x2="347.5" y2="60.2"/>
<linearGradient id="g319" href="#pal" gradientUnits="userSpaceOnUse" x1="372.3" y1="297.4" x2="368.7" y2="58.2"/>
<linearGradient id="g320" href="#pal" gradientUnits="userSpaceOnUse" x1="366.1" y1="297.3" x2="361.7" y2="59.8"/>
<linearGradient id="g321" href="#pal" gradientUnits="userSpaceOnUse" x1="359.9" y1="297.2" x2="354.6" y2="61.4"/>
<linearGradient id="g322" href="#pal" gradientUnits="userSpaceOnUse" x1="378.3" y1="297.1" x2="375.8" y2="59.6"/>
<linearGradient id="g323" href="#pal" gradientUnits="userSpaceOnUse" x1="372.1" y1="297" x2="368.8" y2="61.1"/>
<linearGradient id="g324" href="#pal" gradientUnits="userSpaceOnUse" x1="365.9" y1="297" x2="361.7" y2="62.6"/>
<linearGradient id="g325" href="#pal" gradientUnits="userSpaceOnUse" x1="215.4" y1="163" x2="225.5" y2="79.7"/>
<linearGradient id="g326" href="#pal" gradientUnits="userSpaceOnUse" x1="206.8" y1="160.8" x2="218" y2="79.9"/>
<linearGradient id="g327" href="#pal" gradientUnits="userSpaceOnUse" x1="198.1" y1="158.2" x2="210.3" y2="80"/>
<linearGradient id="g328" href="#pal" gradientUnits="userSpaceOnUse" x1="189.4" y1="155.1" x2="202.5" y2="79.9"/>
<linearGradient id="g329" href="#pal" gradientUnits="userSpaceOnUse" x1="180.5" y1="151.4" x2="194.6" y2="79.5"/>
<linearGradient id="g330" href="#pal" gradientUnits="userSpaceOnUse" x1="171.6" y1="147.2" x2="186.6" y2="78.8"/>
<linearGradient id="g331" href="#pal" gradientUnits="userSpaceOnUse" x1="162.6" y1="142.2" x2="178.5" y2="77.9"/>
<linearGradient id="g332" href="#pal" gradientUnits="userSpaceOnUse" x1="153.7" y1="136.4" x2="170.2" y2="76.5"/>
<linearGradient id="g333" href="#pal" gradientUnits="userSpaceOnUse" x1="144.9" y1="129.7" x2="161.8" y2="74.7"/>
<linearGradient id="g334" href="#pal" gradientUnits="userSpaceOnUse" x1="136.4" y1="122" x2="153.4" y2="72.4"/>
<linearGradient id="g335" href="#pal" gradientUnits="userSpaceOnUse" x1="230.6" y1="162.7" x2="239.3" y2="83.6"/>
<linearGradient id="g336" href="#pal" gradientUnits="userSpaceOnUse" x1="222.2" y1="160.3" x2="231.8" y2="84"/>
<linearGradient id="g337" href="#pal" gradientUnits="userSpaceOnUse" x1="213.7" y1="157.5" x2="224.3" y2="84.3"/>
<linearGradient id="g338" href="#pal" gradientUnits="userSpaceOnUse" x1="205" y1="154.1" x2="216.6" y2="84.4"/>
<linearGradient id="g339" href="#pal" gradientUnits="userSpaceOnUse" x1="196.4" y1="150.1" x2="208.8" y2="84.2"/>
<linearGradient id="g340" href="#pal" gradientUnits="userSpaceOnUse" x1="187.7" y1="145.4" x2="200.9" y2="83.8"/>
<linearGradient id="g341" href="#pal" gradientUnits="userSpaceOnUse" x1="179.1" y1="139.9" x2="192.9" y2="83.1"/>
<linearGradient id="g342" href="#pal" gradientUnits="userSpaceOnUse" x1="170.6" y1="133.5" x2="184.8" y2="81.9"/>
<linearGradient id="g343" href="#pal" gradientUnits="userSpaceOnUse" x1="162.3" y1="126.1" x2="176.7" y2="80.3"/>
<linearGradient id="g344" href="#pal" gradientUnits="userSpaceOnUse" x1="154.5" y1="117.5" x2="168.5" y2="78.2"/>
<linearGradient id="g345" href="#pal" gradientUnits="userSpaceOnUse" x1="246.1" y1="161.6" x2="253.1" y2="87.5"/>
<linearGradient id="g346" href="#pal" gradientUnits="userSpaceOnUse" x1="237.8" y1="158.9" x2="245.7" y2="88.2"/>
<linearGradient id="g347" href="#pal" gradientUnits="userSpaceOnUse" x1="229.4" y1="155.8" x2="238.3" y2="88.7"/>
<linearGradient id="g348" href="#pal" gradientUnits="userSpaceOnUse" x1="220.9" y1="152" x2="230.7" y2="89.1"/>
<linearGradient id="g349" href="#pal" gradientUnits="userSpaceOnUse" x1="212.5" y1="147.5" x2="223" y2="89.2"/>
<linearGradient id="g350" href="#pal" gradientUnits="userSpaceOnUse" x1="204.1" y1="142.3" x2="215.2" y2="89.1"/>
<linearGradient id="g351" href="#pal" gradientUnits="userSpaceOnUse" x1="195.9" y1="136.1" x2="207.3" y2="88.6"/>
<linearGradient id="g352" href="#pal" gradientUnits="userSpaceOnUse" x1="187.9" y1="128.9" x2="199.4" y2="87.8"/>
<linearGradient id="g353" href="#pal" gradientUnits="userSpaceOnUse" x1="180.4" y1="120.7" x2="191.4" y2="86.4"/>
<linearGradient id="g354" href="#pal" gradientUnits="userSpaceOnUse" x1="173.3" y1="111.9" x2="183.3" y2="84.5"/>
<linearGradient id="g355" href="#pal" gradientUnits="userSpaceOnUse" x1="261.8" y1="159.4" x2="267" y2="91.5"/>
<linearGradient id="g356" href="#pal" gradientUnits="userSpaceOnUse" x1="253.6" y1="156.4" x2="259.7" y2="92.5"/>
<linearGradient id="g357" href="#pal" gradientUnits="userSpaceOnUse" x1="245.3" y1="152.8" x2="252.3" y2="93.4"/>
<linearGradient id="g358" href="#pal" gradientUnits="userSpaceOnUse" x1="237.1" y1="148.4" x2="244.8" y2="94"/>
<linearGradient id="g359" href="#pal" gradientUnits="userSpaceOnUse" x1="228.9" y1="143.3" x2="237.2" y2="94.5"/>
<linearGradient id="g360" href="#pal" gradientUnits="userSpaceOnUse" x1="220.9" y1="137.3" x2="229.5" y2="94.7"/>
<linearGradient id="g361" href="#pal" gradientUnits="userSpaceOnUse" x1="213.2" y1="130.4" x2="221.7" y2="94.6"/>
<linearGradient id="g362" href="#pal" gradientUnits="userSpaceOnUse" x1="205.8" y1="122.8" x2="213.8" y2="93.9"/>
<linearGradient id="g363" href="#pal" gradientUnits="userSpaceOnUse" x1="198.2" y1="116.8" x2="206" y2="92.5"/>
<linearGradient id="g364" href="#pal" gradientUnits="userSpaceOnUse" x1="181.1" y1="151.9" x2="199.1" y2="86.7"/>
<linearGradient id="g365" href="#pal" gradientUnits="userSpaceOnUse" x1="277.7" y1="155.7" x2="281" y2="95.6"/>
<linearGradient id="g366" href="#pal" gradientUnits="userSpaceOnUse" x1="269.6" y1="152.2" x2="273.7" y2="97"/>
<linearGradient id="g367" href="#pal" gradientUnits="userSpaceOnUse" x1="261.5" y1="147.9" x2="266.3" y2="98.2"/>
<linearGradient id="g368" href="#pal" gradientUnits="userSpaceOnUse" x1="253.5" y1="142.9" x2="258.9" y2="99.3"/>
<linearGradient id="g369" href="#pal" gradientUnits="userSpaceOnUse" x1="245.6" y1="137" x2="251.3" y2="100.1"/>
<linearGradient id="g370" href="#pal" gradientUnits="userSpaceOnUse" x1="238" y1="130.6" x2="243.7" y2="100.6"/>
<linearGradient id="g371" href="#pal" gradientUnits="userSpaceOnUse" x1="230.3" y1="125.6" x2="236" y2="100.2"/>
<linearGradient id="g372" href="#pal" gradientUnits="userSpaceOnUse" x1="215.1" y1="158.6" x2="229.9" y2="91.9"/>
<linearGradient id="g373" href="#pal" gradientUnits="userSpaceOnUse" x1="233.7" y1="66.4" x2="217.8" y2="106.1"/>
<linearGradient id="g374" href="#pal" gradientUnits="userSpaceOnUse" x1="230.6" y1="60" x2="210.4" y2="103"/>
<linearGradient id="g375" href="#pal" gradientUnits="userSpaceOnUse" x1="293.8" y1="150" x2="295.1" y2="99.8"/>
<linearGradient id="g376" href="#pal" gradientUnits="userSpaceOnUse" x1="285.8" y1="145.8" x2="287.9" y2="101.5"/>
<linearGradient id="g377" href="#pal" gradientUnits="userSpaceOnUse" x1="277.8" y1="140.8" x2="280.5" y2="103.2"/>
<linearGradient id="g378" href="#pal" gradientUnits="userSpaceOnUse" x1="270" y1="135.4" x2="273.1" y2="104.6"/>
<linearGradient id="g379" href="#pal" gradientUnits="userSpaceOnUse" x1="262.1" y1="131.3" x2="265.7" y2="105.1"/>
<linearGradient id="g380" href="#pal" gradientUnits="userSpaceOnUse" x1="248.5" y1="163.2" x2="259.8" y2="95.2"/>
<linearGradient id="g381" href="#pal" gradientUnits="userSpaceOnUse" x1="258.4" y1="73.6" x2="247.8" y2="117.1"/>
<linearGradient id="g382" href="#pal" gradientUnits="userSpaceOnUse" x1="254.8" y1="67.5" x2="239.8" y2="115.4"/>
<linearGradient id="g383" href="#pal" gradientUnits="userSpaceOnUse" x1="258" y1="49" x2="231" y2="115.6"/>
<linearGradient id="g384" href="#pal" gradientUnits="userSpaceOnUse" x1="270" y1="25.1" x2="221.6" y2="115.4"/>
<linearGradient id="g385" href="#pal" gradientUnits="userSpaceOnUse" x1="309.9" y1="141.7" x2="309.5" y2="103.9"/>
<linearGradient id="g386" href="#pal" gradientUnits="userSpaceOnUse" x1="301.8" y1="137.1" x2="302.3" y2="106"/>
<linearGradient id="g387" href="#pal" gradientUnits="userSpaceOnUse" x1="293.8" y1="133.8" x2="295" y2="107.2"/>
<linearGradient id="g388" href="#pal" gradientUnits="userSpaceOnUse" x1="281.4" y1="165.6" x2="289.1" y2="96.9"/>
<linearGradient id="g389" href="#pal" gradientUnits="userSpaceOnUse" x1="283" y1="77.8" x2="278.8" y2="123.5"/>
<linearGradient id="g390" href="#pal" gradientUnits="userSpaceOnUse" x1="278.5" y1="72.1" x2="270.6" y2="123.4"/>
<linearGradient id="g391" href="#pal" gradientUnits="userSpaceOnUse" x1="278.2" y1="52.4" x2="261.6" y2="126.2"/>
<linearGradient id="g392" href="#pal" gradientUnits="userSpaceOnUse" x1="285.4" y1="24.5" x2="251.5" y2="129.8"/>
<linearGradient id="g393" href="#pal" gradientUnits="userSpaceOnUse" x1="306.9" y1="-10.9" x2="239.4" y2="133.4"/>
<linearGradient id="g394" href="#pal" gradientUnits="userSpaceOnUse" x1="354.7" y1="-48.2" x2="224.7" y2="135.7"/>
<linearGradient id="g395" href="#pal" gradientUnits="userSpaceOnUse" x1="325.5" y1="133.3" x2="324.2" y2="106.7"/>
<linearGradient id="g396" href="#pal" gradientUnits="userSpaceOnUse" x1="314.2" y1="166.1" x2="318" y2="96.9"/>
<linearGradient id="g397" href="#pal" gradientUnits="userSpaceOnUse" x1="307.4" y1="79.1" x2="310.3" y2="125"/>
<linearGradient id="g398" href="#pal" gradientUnits="userSpaceOnUse" x1="301.9" y1="73.8" x2="302.2" y2="126.3"/>
<linearGradient id="g399" href="#pal" gradientUnits="userSpaceOnUse" x1="297.4" y1="53.9" x2="293.9" y2="131.3"/>
<linearGradient id="g400" href="#pal" gradientUnits="userSpaceOnUse" x1="297.3" y1="23.3" x2="284.7" y2="138.2"/>
<linearGradient id="g401" href="#pal" gradientUnits="userSpaceOnUse" x1="307.7" y1="-21.6" x2="273.3" y2="147.3"/>
<linearGradient id="g402" href="#pal" gradientUnits="userSpaceOnUse" x1="344.4" y1="-85.4" x2="256.9" y2="158.9"/>
<linearGradient id="g403" href="#pal" gradientUnits="userSpaceOnUse" x1="447.2" y1="-159.1" x2="229" y2="170.3"/>
<linearGradient id="g404" href="#pal" gradientUnits="userSpaceOnUse" x1="664" y1="-146.5" x2="184.3" y2="163.9"/>
<linearGradient id="g405" href="#pal" gradientUnits="userSpaceOnUse" x1="332.1" y1="77.4" x2="341.5" y2="121.5"/>
<linearGradient id="g406" href="#pal" gradientUnits="userSpaceOnUse" x1="325.4" y1="72.8" x2="333.8" y2="123.9"/>
<linearGradient id="g407" href="#pal" gradientUnits="userSpaceOnUse" x1="316.4" y1="53.9" x2="326.7" y2="130"/>
<linearGradient id="g408" href="#pal" gradientUnits="userSpaceOnUse" x1="307.6" y1="23.6" x2="319.5" y2="138.6"/>
<linearGradient id="g409" href="#pal" gradientUnits="userSpaceOnUse" x1="301.2" y1="-24.3" x2="311.6" y2="150.9"/>
<linearGradient id="g410" href="#pal" gradientUnits="userSpaceOnUse" x1="304.4" y1="-105.4" x2="301.6" y2="170.2"/>
<linearGradient id="g411" href="#pal" gradientUnits="userSpaceOnUse" x1="349.8" y1="-259.3" x2="282.2" y2="204.6"/>
<linearGradient id="g412" href="#pal" gradientUnits="userSpaceOnUse" x1="647.2" y1="-548.8" x2="208.7" y2="266.2"/>
<linearGradient id="g413" href="#pal" gradientUnits="userSpaceOnUse" x1="1507.2" y1="49" x2="21.9" y2="136.7"/>
<linearGradient id="g414" href="#pal" gradientUnits="userSpaceOnUse" x1="864.7" y1="639.1" x2="152.5" y2="18.3"/>
<linearGradient id="g415" href="#pal" gradientUnits="userSpaceOnUse" x1="336.1" y1="52.2" x2="358.3" y2="122.6"/>
<linearGradient id="g416" href="#pal" gradientUnits="userSpaceOnUse" x1="319.4" y1="25.4" x2="352.9" y2="131"/>
<linearGradient id="g417" href="#pal" gradientUnits="userSpaceOnUse" x1="297.2" y1="-16.5" x2="348.6" y2="142.6"/>
<linearGradient id="g418" href="#pal" gradientUnits="userSpaceOnUse" x1="263.3" y1="-86.6" x2="346.9" y2="160.6"/>
<linearGradient id="g419" href="#pal" gradientUnits="userSpaceOnUse" x1="197.9" y1="-223.2" x2="352.2" y2="193.2"/>
<linearGradient id="g420" href="#pal" gradientUnits="userSpaceOnUse" x1="-13.2" y1="-585.7" x2="389.8" y2="276"/>
<linearGradient id="g421" href="#pal" gradientUnits="userSpaceOnUse" x1="-3977.5" y1="-823.9" x2="1259.3" y2="332.3"/>
<linearGradient id="g422" href="#pal" gradientUnits="userSpaceOnUse" x1="351.2" y1="1299.2" x2="291.2" y2="-137.2"/>
<linearGradient id="g423" href="#pal" gradientUnits="userSpaceOnUse" x1="390" y1="740.4" x2="273.3" y2="-11"/>
<linearGradient id="g424" href="#pal" gradientUnits="userSpaceOnUse" x1="370.7" y1="564.7" x2="268.3" y2="30.4"/>
<linearGradient id="g425" href="#pal" gradientUnits="userSpaceOnUse" x1="128" y1="254.7" x2="163.2" y2="71.9"/>
<linearGradient id="g426" href="#pal" gradientUnits="userSpaceOnUse" x1="118.5" y1="253.2" x2="154.6" y2="70.2"/>
<linearGradient id="g427" href="#pal" gradientUnits="userSpaceOnUse" x1="109.1" y1="251.6" x2="146.1" y2="68.4"/>
<linearGradient id="g428" href="#pal" gradientUnits="userSpaceOnUse" x1="180" y1="266.7" x2="215.2" y2="81.6"/>
<linearGradient id="g429" href="#pal" gradientUnits="userSpaceOnUse" x1="170.4" y1="265.1" x2="206.4" y2="79.8"/>
<linearGradient id="g430" href="#pal" gradientUnits="userSpaceOnUse" x1="160.8" y1="263.6" x2="197.8" y2="78"/>
<linearGradient id="g431" href="#pal" gradientUnits="userSpaceOnUse" x1="232" y1="278.5" x2="267.1" y2="90.9"/>
<linearGradient id="g432" href="#pal" gradientUnits="userSpaceOnUse" x1="222.2" y1="277" x2="258.2" y2="89.1"/>
<linearGradient id="g433" href="#pal" gradientUnits="userSpaceOnUse" x1="212.6" y1="275.4" x2="249.5" y2="87.3"/>
<linearGradient id="g434" href="#pal" gradientUnits="userSpaceOnUse" x1="104.2" y1="231.5" x2="140.3" y2="77.1"/>
<linearGradient id="g435" href="#pal" gradientUnits="userSpaceOnUse" x1="101.7" y1="230.9" x2="138.3" y2="76.6"/>
<linearGradient id="g436" href="#pal" gradientUnits="userSpaceOnUse" x1="99.3" y1="230.4" x2="136.4" y2="76.2"/>
<linearGradient id="g437" href="#pal" gradientUnits="userSpaceOnUse" x1="155.6" y1="244.4" x2="191.9" y2="88.5"/>
<linearGradient id="g438" href="#pal" gradientUnits="userSpaceOnUse" x1="152.9" y1="243.8" x2="189.7" y2="87.9"/>
<linearGradient id="g439" href="#pal" gradientUnits="userSpaceOnUse" x1="150.3" y1="243.2" x2="187.6" y2="87.4"/>
<linearGradient id="g440" href="#pal" gradientUnits="userSpaceOnUse" x1="207" y1="257.3" x2="243.4" y2="99.5"/>
<linearGradient id="g441" href="#pal" gradientUnits="userSpaceOnUse" x1="204.1" y1="256.7" x2="241.1" y2="98.9"/>
<linearGradient id="g442" href="#pal" gradientUnits="userSpaceOnUse" x1="201.3" y1="256.1" x2="238.9" y2="98.3"/>
<linearGradient id="g443" href="#pal" gradientUnits="userSpaceOnUse" x1="403.2" y1="323.7" x2="356" y2="69.8"/>
<linearGradient id="g444" href="#pal" gradientUnits="userSpaceOnUse" x1="377.6" y1="327.4" x2="330.5" y2="74.8"/>
<linearGradient id="g445" href="#pal" gradientUnits="userSpaceOnUse" x1="351.9" y1="331.3" x2="304.9" y2="79.8"/>
<linearGradient id="g446" href="#pal" gradientUnits="userSpaceOnUse" x1="423.1" y1="319.2" x2="377.2" y2="66.1"/>
<linearGradient id="g447" href="#pal" gradientUnits="userSpaceOnUse" x1="397.5" y1="323" x2="351.6" y2="71.2"/>
<linearGradient id="g448" href="#pal" gradientUnits="userSpaceOnUse" x1="371.8" y1="326.9" x2="326" y2="76.2"/>
<linearGradient id="g449" href="#pal" gradientUnits="userSpaceOnUse" x1="443.2" y1="314.9" x2="398.6" y2="62.6"/>
<linearGradient id="g450" href="#pal" gradientUnits="userSpaceOnUse" x1="417.6" y1="318.7" x2="372.9" y2="67.7"/>
<linearGradient id="g451" href="#pal" gradientUnits="userSpaceOnUse" x1="392" y1="322.6" x2="347.3" y2="72.7"/>
<linearGradient id="g452" href="#pal" gradientUnits="userSpaceOnUse" x1="285.5" y1="279.3" x2="301.8" y2="98.6"/>
<linearGradient id="g453" href="#pal" gradientUnits="userSpaceOnUse" x1="274.7" y1="278.2" x2="290.7" y2="97.7"/>
<linearGradient id="g454" href="#pal" gradientUnits="userSpaceOnUse" x1="263.8" y1="277.2" x2="279.6" y2="96.8"/>
<linearGradient id="g455" href="#pal" gradientUnits="userSpaceOnUse" x1="311.8" y1="281.4" x2="328.2" y2="101.1"/>
<linearGradient id="g456" href="#pal" gradientUnits="userSpaceOnUse" x1="301" y1="280.3" x2="317.1" y2="100.2"/>
<linearGradient id="g457" href="#pal" gradientUnits="userSpaceOnUse" x1="290.1" y1="279.3" x2="306.1" y2="99.3"/>
<linearGradient id="g458" href="#pal" gradientUnits="userSpaceOnUse" x1="338" y1="283.6" x2="354.6" y2="103.7"/>
<linearGradient id="g459" href="#pal" gradientUnits="userSpaceOnUse" x1="327.2" y1="282.6" x2="343.6" y2="102.8"/>
<linearGradient id="g460" href="#pal" gradientUnits="userSpaceOnUse" x1="316.4" y1="281.5" x2="332.5" y2="101.9"/>
<linearGradient id="g461" href="#pal" gradientUnits="userSpaceOnUse" x1="251.5" y1="267.3" x2="277.1" y2="105.6"/>
<linearGradient id="g462" href="#pal" gradientUnits="userSpaceOnUse" x1="246.1" y1="266.8" x2="275.4" y2="104.8"/>
<linearGradient id="g463" href="#pal" gradientUnits="userSpaceOnUse" x1="241.2" y1="266.2" x2="274.4" y2="103.9"/>
<linearGradient id="g464" href="#pal" gradientUnits="userSpaceOnUse" x1="279.5" y1="274.6" x2="302.3" y2="104.5"/>
<linearGradient id="g465" href="#pal" gradientUnits="userSpaceOnUse" x1="273.4" y1="274.4" x2="300.7" y2="103.1"/>
<linearGradient id="g466" href="#pal" gradientUnits="userSpaceOnUse" x1="267.6" y1="274" x2="300.2" y2="101.6"/>
<linearGradient id="g467" href="#pal" gradientUnits="userSpaceOnUse" x1="307.9" y1="282.1" x2="325" y2="98.2"/>
<linearGradient id="g468" href="#pal" gradientUnits="userSpaceOnUse" x1="300.9" y1="282.4" x2="324.2" y2="95.4"/>
<linearGradient id="g469" href="#pal" gradientUnits="userSpaceOnUse" x1="294.2" y1="282.4" x2="324.9" y2="92.2"/>
<linearGradient id="g470" href="#pal" gradientUnits="userSpaceOnUse" x1="453.8" y1="284.7" x2="417.6" y2="79.9"/>
<linearGradient id="g471" href="#pal" gradientUnits="userSpaceOnUse" x1="428.1" y1="281.7" x2="391.6" y2="91.6"/>
<linearGradient id="g472" href="#pal" gradientUnits="userSpaceOnUse" x1="402.2" y1="281.7" x2="365.8" y2="101.7"/>
<linearGradient id="g473" href="#pal" gradientUnits="userSpaceOnUse" x1="459" y1="280.7" x2="432.6" y2="80.8"/>
<linearGradient id="g474" href="#pal" gradientUnits="userSpaceOnUse" x1="433.9" y1="278.8" x2="405.2" y2="91.4"/>
<linearGradient id="g475" href="#pal" gradientUnits="userSpaceOnUse" x1="408.2" y1="279.5" x2="378.1" y2="101"/>
<linearGradient id="g476" href="#pal" gradientUnits="userSpaceOnUse" x1="466.5" y1="277.5" x2="447.8" y2="82.2"/>
<linearGradient id="g477" href="#pal" gradientUnits="userSpaceOnUse" x1="441.6" y1="276.4" x2="419.3" y2="91.8"/>
<linearGradient id="g478" href="#pal" gradientUnits="userSpaceOnUse" x1="415.9" y1="277.5" x2="391.2" y2="100.6"/>
<linearGradient id="g479" href="#pal" gradientUnits="userSpaceOnUse" x1="368.1" y1="279.5" x2="362.4" y2="110.1"/>
<linearGradient id="g480" href="#pal" gradientUnits="userSpaceOnUse" x1="352.6" y1="282.4" x2="354.2" y2="106.3"/>
<linearGradient id="g481" href="#pal" gradientUnits="userSpaceOnUse" x1="337.1" y1="284.7" x2="350" y2="100.1"/>
<linearGradient id="g482" href="#pal" gradientUnits="userSpaceOnUse" x1="383.2" y1="280.9" x2="367.8" y2="106.2"/>
<linearGradient id="g483" href="#pal" gradientUnits="userSpaceOnUse" x1="368.2" y1="285.1" x2="359.1" y2="100"/>
<linearGradient id="g484" href="#pal" gradientUnits="userSpaceOnUse" x1="352.5" y1="289.3" x2="355.2" y2="89.1"/>
<linearGradient id="g485" href="#pal" gradientUnits="userSpaceOnUse" x1="397.5" y1="281.3" x2="367.2" y2="100.9"/>
<linearGradient id="g486" href="#pal" gradientUnits="userSpaceOnUse" x1="383.8" y1="286.9" x2="356.3" y2="90.6"/>
<linearGradient id="g487" href="#pal" gradientUnits="userSpaceOnUse" x1="369.4" y1="294.2" x2="349.2" y2="69.3"/>
<linearGradient id="g488" href="#pal" gradientUnits="userSpaceOnUse" x1="327.2" y1="289.2" x2="345.8" y2="83"/>
<linearGradient id="g489" href="#pal" gradientUnits="userSpaceOnUse" x1="320.8" y1="289.2" x2="342.9" y2="80.4"/>
<linearGradient id="g490" href="#pal" gradientUnits="userSpaceOnUse" x1="314.6" y1="289.1" x2="340.6" y2="77.6"/>
<linearGradient id="g491" href="#pal" gradientUnits="userSpaceOnUse" x1="340.7" y1="291.8" x2="356.6" y2="78.3"/>
<linearGradient id="g492" href="#pal" gradientUnits="userSpaceOnUse" x1="334.2" y1="292" x2="353.9" y2="75.1"/>
<linearGradient id="g493" href="#pal" gradientUnits="userSpaceOnUse" x1="327.9" y1="292" x2="351.9" y2="71.6"/>
<linearGradient id="g494" href="#pal" gradientUnits="userSpaceOnUse" x1="354.2" y1="294.3" x2="366.5" y2="72"/>
<linearGradient id="g495" href="#pal" gradientUnits="userSpaceOnUse" x1="347.6" y1="294.6" x2="364" y2="68"/>
<linearGradient id="g496" href="#pal" gradientUnits="userSpaceOnUse" x1="341.2" y1="294.7" x2="362.3" y2="63.6"/>
<linearGradient id="g497" href="#pal" gradientUnits="userSpaceOnUse" x1="475.3" y1="273.7" x2="455.2" y2="86.6"/>
<linearGradient id="g498" href="#pal" gradientUnits="userSpaceOnUse" x1="447.5" y1="280.2" x2="432.8" y2="79.8"/>
<linearGradient id="g499" href="#pal" gradientUnits="userSpaceOnUse" x1="419.4" y1="286.4" x2="415.1" y2="65.5"/>
<linearGradient id="g500" href="#pal" gradientUnits="userSpaceOnUse" x1="481.8" y1="273.7" x2="458" y2="84.8"/>
<linearGradient id="g501" href="#pal" gradientUnits="userSpaceOnUse" x1="454.3" y1="280.7" x2="435.3" y2="76.9"/>
<linearGradient id="g502" href="#pal" gradientUnits="userSpaceOnUse" x1="426.5" y1="287.6" x2="417" y2="60.1"/>
<linearGradient id="g503" href="#pal" gradientUnits="userSpaceOnUse" x1="488.1" y1="273.5" x2="460.3" y2="82.8"/>
<linearGradient id="g504" href="#pal" gradientUnits="userSpaceOnUse" x1="461.1" y1="280.9" x2="436.9" y2="73.7"/>
<linearGradient id="g505" href="#pal" gradientUnits="userSpaceOnUse" x1="433.7" y1="288.6" x2="417.7" y2="53.9"/>
<linearGradient id="g506" href="#pal" gradientUnits="userSpaceOnUse" x1="407.2" y1="299" x2="363.6" y2="12.8"/>
<linearGradient id="g507" href="#pal" gradientUnits="userSpaceOnUse" x1="394.5" y1="296.7" x2="350.5" y2="36.9"/>
<linearGradient id="g508" href="#pal" gradientUnits="userSpaceOnUse" x1="381.6" y1="296" x2="337.8" y2="55.1"/>
<linearGradient id="g509" href="#pal" gradientUnits="userSpaceOnUse" x1="411" y1="296.5" x2="379.1" y2="21.2"/>
<linearGradient id="g510" href="#pal" gradientUnits="userSpaceOnUse" x1="398.5" y1="294.8" x2="363.8" y2="42.2"/>
<linearGradient id="g511" href="#pal" gradientUnits="userSpaceOnUse" x1="385.8" y1="294.4" x2="349.7" y2="58.5"/>
<linearGradient id="g512" href="#pal" gradientUnits="userSpaceOnUse" x1="415.4" y1="294.5" x2="392.7" y2="29.1"/>
<linearGradient id="g513" href="#pal" gradientUnits="userSpaceOnUse" x1="403.1" y1="293.2" x2="376.2" y2="47.3"/>
<linearGradient id="g514" href="#pal" gradientUnits="userSpaceOnUse" x1="390.5" y1="293.1" x2="361" y2="61.9"/>
<linearGradient id="g515" href="#pal" gradientUnits="userSpaceOnUse" x1="366.6" y1="292.6" x2="359.4" y2="83"/>
<linearGradient id="g516" href="#pal" gradientUnits="userSpaceOnUse" x1="359.8" y1="293.6" x2="356.4" y2="77.6"/>
<linearGradient id="g517" href="#pal" gradientUnits="userSpaceOnUse" x1="353" y1="294.5" x2="354.4" y2="71.1"/>
<linearGradient id="g518" href="#pal" gradientUnits="userSpaceOnUse" x1="373.3" y1="293.1" x2="360.7" y2="77.7"/>
<linearGradient id="g519" href="#pal" gradientUnits="userSpaceOnUse" x1="366.5" y1="294.2" x2="357.5" y2="71.2"/>
<linearGradient id="g520" href="#pal" gradientUnits="userSpaceOnUse" x1="359.7" y1="295.2" x2="355.4" y2="63.1"/>
<linearGradient id="g521" href="#pal" gradientUnits="userSpaceOnUse" x1="379.8" y1="293.3" x2="360.4" y2="71.6"/>
<linearGradient id="g522" href="#pal" gradientUnits="userSpaceOnUse" x1="373.1" y1="294.6" x2="356.8" y2="63.6"/>
<linearGradient id="g523" href="#pal" gradientUnits="userSpaceOnUse" x1="366.4" y1="295.8" x2="354.4" y2="53.5"/>
<linearGradient id="g524" href="#pal" gradientUnits="userSpaceOnUse" x1="468.2" y1="377.6" x2="157.4" y2="3.5"/>
<linearGradient id="g525" href="#pal" gradientUnits="userSpaceOnUse" x1="365" y1="350.7" x2="163.8" y2="27.3"/>
<linearGradient id="g526" href="#pal" gradientUnits="userSpaceOnUse" x1="303.5" y1="331" x2="153.7" y2="46"/>
<linearGradient id="g527" href="#pal" gradientUnits="userSpaceOnUse" x1="333.3" y1="344.6" x2="250.5" y2="0.8"/>
<linearGradient id="g528" href="#pal" gradientUnits="userSpaceOnUse" x1="301.9" y1="320" x2="228.9" y2="23"/>
<linearGradient id="g529" href="#pal" gradientUnits="userSpaceOnUse" x1="272.6" y1="306.3" x2="206.3" y2="39.6"/>
<linearGradient id="g530" href="#pal" gradientUnits="userSpaceOnUse" x1="338.3" y1="300.7" x2="320.2" y2="18.7"/>
<linearGradient id="g531" href="#pal" gradientUnits="userSpaceOnUse" x1="316.1" y1="290.3" x2="291.8" y2="31.6"/>
<linearGradient id="g532" href="#pal" gradientUnits="userSpaceOnUse" x1="292.2" y1="284.3" x2="264.3" y2="43"/>
<linearGradient id="g533" href="#pal" gradientUnits="userSpaceOnUse" x1="317.3" y1="343.9" x2="134.7" y2="54.4"/>
<linearGradient id="g534" href="#pal" gradientUnits="userSpaceOnUse" x1="400.4" y1="408" x2="115.3" y2="54.3"/>
<linearGradient id="g535" href="#pal" gradientUnits="userSpaceOnUse" x1="663" y1="506.3" x2="84.5" y2="54.6"/>
<linearGradient id="g536" href="#pal" gradientUnits="userSpaceOnUse" x1="434.2" y1="175.6" x2="113" y2="109.9"/>
<linearGradient id="g537" href="#pal" gradientUnits="userSpaceOnUse" x1="189.5" y1="281.2" x2="199.9" y2="76.1"/>
<linearGradient id="g538" href="#pal" gradientUnits="userSpaceOnUse" x1="164.5" y1="183.2" x2="188.9" y2="104.2"/>
<linearGradient id="g539" href="#pal" gradientUnits="userSpaceOnUse" x1="245.6" y1="194.7" x2="272.1" y2="138.5"/>
<linearGradient id="g540" href="#pal" gradientUnits="userSpaceOnUse" x1="230.9" y1="192.8" x2="256" y2="130.1"/>
<linearGradient id="g541" href="#pal" gradientUnits="userSpaceOnUse" x1="216.7" y1="192.8" x2="240.2" y2="123.1"/>
<linearGradient id="g542" href="#pal" gradientUnits="userSpaceOnUse" x1="95.7" y1="230" x2="131.3" y2="83"/>
<linearGradient id="g543" href="#pal" gradientUnits="userSpaceOnUse" x1="94.7" y1="229.8" x2="130.5" y2="82.8"/>
<linearGradient id="g544" href="#pal" gradientUnits="userSpaceOnUse" x1="93.7" y1="229.6" x2="129.7" y2="82.7"/>
<linearGradient id="g545" href="#pal" gradientUnits="userSpaceOnUse" x1="147" y1="242.9" x2="182.7" y2="95.4"/>
<linearGradient id="g546" href="#pal" gradientUnits="userSpaceOnUse" x1="145.9" y1="242.6" x2="181.7" y2="95.1"/>
<linearGradient id="g547" href="#pal" gradientUnits="userSpaceOnUse" x1="144.8" y1="242.3" x2="180.9" y2="94.9"/>
<linearGradient id="g548" href="#pal" gradientUnits="userSpaceOnUse" x1="198.4" y1="255.7" x2="234" y2="107.7"/>
<linearGradient id="g549" href="#pal" gradientUnits="userSpaceOnUse" x1="197.1" y1="255.4" x2="233" y2="107.4"/>
<linearGradient id="g550" href="#pal" gradientUnits="userSpaceOnUse" x1="195.9" y1="255.1" x2="232" y2="107.2"/>
<linearGradient id="g551" href="#pal" gradientUnits="userSpaceOnUse" x1="340.9" y1="330.6" x2="390.9" y2="-10.4"/>
<linearGradient id="g552" href="#pal" gradientUnits="userSpaceOnUse" x1="319.6" y1="326.1" x2="367" y2="-12.2"/>
<linearGradient id="g553" href="#pal" gradientUnits="userSpaceOnUse" x1="297.9" y1="321.8" x2="342.8" y2="-13.7"/>
<linearGradient id="g554" href="#pal" gradientUnits="userSpaceOnUse" x1="366.5" y1="332.6" x2="416.6" y2="-4.8"/>
<linearGradient id="g555" href="#pal" gradientUnits="userSpaceOnUse" x1="345.1" y1="328.2" x2="392.6" y2="-6.7"/>
<linearGradient id="g556" href="#pal" gradientUnits="userSpaceOnUse" x1="323.4" y1="324" x2="368.5" y2="-8.3"/>
<linearGradient id="g557" href="#pal" gradientUnits="userSpaceOnUse" x1="392" y1="334.8" x2="442.2" y2="0.8"/>
<linearGradient id="g558" href="#pal" gradientUnits="userSpaceOnUse" x1="370.6" y1="330.4" x2="418.3" y2="-1.1"/>
<linearGradient id="g559" href="#pal" gradientUnits="userSpaceOnUse" x1="348.9" y1="326.2" x2="394.2" y2="-2.8"/>
<linearGradient id="g560" href="#pal" gradientUnits="userSpaceOnUse" x1="286.8" y1="219.5" x2="310.2" y2="145.9"/>
<linearGradient id="g561" href="#pal" gradientUnits="userSpaceOnUse" x1="270.4" y1="210.5" x2="295.4" y2="144.3"/>
<linearGradient id="g562" href="#pal" gradientUnits="userSpaceOnUse" x1="254.1" y1="198.5" x2="279.9" y2="141.1"/>
<linearGradient id="g563" href="#pal" gradientUnits="userSpaceOnUse" x1="313.6" y1="223" x2="334" y2="160.7"/>
<linearGradient id="g564" href="#pal" gradientUnits="userSpaceOnUse" x1="298.5" y1="213.4" x2="319.7" y2="160.6"/>
<linearGradient id="g565" href="#pal" gradientUnits="userSpaceOnUse" x1="284" y1="201.2" x2="304.8" y2="158.8"/>
<linearGradient id="g566" href="#pal" gradientUnits="userSpaceOnUse" x1="340.7" y1="225.6" x2="356.8" y2="178.4"/>
<linearGradient id="g567" href="#pal" gradientUnits="userSpaceOnUse" x1="326.6" y1="218" x2="343.3" y2="177.9"/>
<linearGradient id="g568" href="#pal" gradientUnits="userSpaceOnUse" x1="307.6" y1="247.5" x2="333.5" y2="145.7"/>
<linearGradient id="g569" href="#pal" gradientUnits="userSpaceOnUse" x1="242.3" y1="266.1" x2="271.6" y2="115.9"/>
<linearGradient id="g570" href="#pal" gradientUnits="userSpaceOnUse" x1="239.1" y1="265.6" x2="270" y2="115.6"/>
<linearGradient id="g571" href="#pal" gradientUnits="userSpaceOnUse" x1="236.3" y1="265.1" x2="268.9" y2="115.2"/>
<linearGradient id="g572" href="#pal" gradientUnits="userSpaceOnUse" x1="269.8" y1="273" x2="298.6" y2="120.3"/>
<linearGradient id="g573" href="#pal" gradientUnits="userSpaceOnUse" x1="266.1" y1="272.4" x2="296.7" y2="119.8"/>
<linearGradient id="g574" href="#pal" gradientUnits="userSpaceOnUse" x1="262.8" y1="271.9" x2="295.3" y2="119.4"/>
<linearGradient id="g575" href="#pal" gradientUnits="userSpaceOnUse" x1="297.3" y1="279.8" x2="325.4" y2="124"/>
<linearGradient id="g576" href="#pal" gradientUnits="userSpaceOnUse" x1="293.2" y1="279.2" x2="323.2" y2="123.4"/>
<linearGradient id="g577" href="#pal" gradientUnits="userSpaceOnUse" x1="289.4" y1="278.6" x2="321.6" y2="122.9"/>
<linearGradient id="g578" href="#pal" gradientUnits="userSpaceOnUse" x1="428.1" y1="316.3" x2="441.4" y2="27.4"/>
<linearGradient id="g579" href="#pal" gradientUnits="userSpaceOnUse" x1="402.4" y1="317.3" x2="419.2" y2="23.1"/>
<linearGradient id="g580" href="#pal" gradientUnits="userSpaceOnUse" x1="376.9" y1="318" x2="397.7" y2="18"/>
<linearGradient id="g581" href="#pal" gradientUnits="userSpaceOnUse" x1="441.2" y1="318.1" x2="453.5" y2="26.3"/>
<linearGradient id="g582" href="#pal" gradientUnits="userSpaceOnUse" x1="415.5" y1="319.3" x2="431.3" y2="21.9"/>
<linearGradient id="g583" href="#pal" gradientUnits="userSpaceOnUse" x1="390" y1="320" x2="409.8" y2="16.7"/>
<linearGradient id="g584" href="#pal" gradientUnits="userSpaceOnUse" x1="454.3" y1="319.9" x2="465.5" y2="25.1"/>
<linearGradient id="g585" href="#pal" gradientUnits="userSpaceOnUse" x1="428.6" y1="321.1" x2="443.4" y2="20.5"/>
<linearGradient id="g586" href="#pal" gradientUnits="userSpaceOnUse" x1="403" y1="322" x2="421.9" y2="15.1"/>
<linearGradient id="g587" href="#pal" gradientUnits="userSpaceOnUse" x1="418.4" y1="183.1" x2="272.1" y2="273.3"/>
<linearGradient id="g588" href="#pal" gradientUnits="userSpaceOnUse" x1="415.2" y1="183.6" x2="269.1" y2="246.4"/>
<linearGradient id="g589" href="#pal" gradientUnits="userSpaceOnUse" x1="443.5" y1="221.6" x2="232.9" y2="187.5"/>
<linearGradient id="g590" href="#pal" gradientUnits="userSpaceOnUse" x1="441.6" y1="178.1" x2="253.3" y2="308.5"/>
<linearGradient id="g591" href="#pal" gradientUnits="userSpaceOnUse" x1="479.9" y1="246.6" x2="179.5" y2="175.4"/>
<linearGradient id="g592" href="#pal" gradientUnits="userSpaceOnUse" x1="436.7" y1="290.4" x2="239.4" y2="116.8"/>
<linearGradient id="g593" href="#pal" gradientUnits="userSpaceOnUse" x1="546.7" y1="298.1" x2="48.8" y2="76.4"/>
<linearGradient id="g594" href="#pal" gradientUnits="userSpaceOnUse" x1="441.1" y1="318.1" x2="253.6" y2="52.3"/>
<linearGradient id="g595" href="#pal" gradientUnits="userSpaceOnUse" x1="406.4" y1="308.8" x2="292.8" y2="86.1"/>
<linearGradient id="g596" href="#pal" gradientUnits="userSpaceOnUse" x1="322.4" y1="284.3" x2="341.3" y2="126.1"/>
<linearGradient id="g597" href="#pal" gradientUnits="userSpaceOnUse" x1="316.7" y1="283.9" x2="338.7" y2="125.2"/>
<linearGradient id="g598" href="#pal" gradientUnits="userSpaceOnUse" x1="311.5" y1="283.5" x2="337" y2="124.3"/>
<linearGradient id="g599" href="#pal" gradientUnits="userSpaceOnUse" x1="337" y1="287.2" x2="353.8" y2="125.7"/>
<linearGradient id="g600" href="#pal" gradientUnits="userSpaceOnUse" x1="331" y1="287" x2="351.2" y2="124.7"/>
<linearGradient id="g601" href="#pal" gradientUnits="userSpaceOnUse" x1="325.4" y1="286.6" x2="349.5" y2="123.5"/>
<linearGradient id="g602" href="#pal" gradientUnits="userSpaceOnUse" x1="351.5" y1="290" x2="365.5" y2="124.5"/>
<linearGradient id="g603" href="#pal" gradientUnits="userSpaceOnUse" x1="345.2" y1="289.9" x2="363" y2="123.1"/>
<linearGradient id="g604" href="#pal" gradientUnits="userSpaceOnUse" x1="339.3" y1="289.6" x2="361.5" y2="121.5"/>
<linearGradient id="g605" href="#pal" gradientUnits="userSpaceOnUse" x1="476.5" y1="292.5" x2="455.9" y2="64.7"/>
<linearGradient id="g606" href="#pal" gradientUnits="userSpaceOnUse" x1="449.9" y1="297.2" x2="431.5" y2="62.7"/>
<linearGradient id="g607" href="#pal" gradientUnits="userSpaceOnUse" x1="423.4" y1="301.6" x2="407.5" y2="59.4"/>
<linearGradient id="g608" href="#pal" gradientUnits="userSpaceOnUse" x1="482.7" y1="292.4" x2="460.8" y2="63.4"/>
<linearGradient id="g609" href="#pal" gradientUnits="userSpaceOnUse" x1="456.3" y1="297.2" x2="436.3" y2="61.2"/>
<linearGradient id="g610" href="#pal" gradientUnits="userSpaceOnUse" x1="429.8" y1="301.7" x2="412.3" y2="57.8"/>
<linearGradient id="g611" href="#pal" gradientUnits="userSpaceOnUse" x1="489" y1="292.4" x2="465.6" y2="62"/>
<linearGradient id="g612" href="#pal" gradientUnits="userSpaceOnUse" x1="462.6" y1="297.2" x2="441" y2="59.7"/>
<linearGradient id="g613" href="#pal" gradientUnits="userSpaceOnUse" x1="436.2" y1="301.8" x2="417" y2="56"/>
<linearGradient id="g614" href="#pal" gradientUnits="userSpaceOnUse" x1="426.8" y1="311.1" x2="334" y2="46"/>
<linearGradient id="g615" href="#pal" gradientUnits="userSpaceOnUse" x1="408.3" y1="301.9" x2="337.9" y2="81.6"/>
<linearGradient id="g616" href="#pal" gradientUnits="userSpaceOnUse" x1="393.2" y1="298.7" x2="333.2" y2="101.5"/>
<linearGradient id="g617" href="#pal" gradientUnits="userSpaceOnUse" x1="421.3" y1="306.2" x2="364.5" y2="54.3"/>
<linearGradient id="g618" href="#pal" gradientUnits="userSpaceOnUse" x1="407" y1="299.4" x2="356.4" y2="84.1"/>
<linearGradient id="g619" href="#pal" gradientUnits="userSpaceOnUse" x1="393.4" y1="297.1" x2="346.5" y2="101.9"/>
<linearGradient id="g620" href="#pal" gradientUnits="userSpaceOnUse" x1="420.6" y1="301.8" x2="386.6" y2="63.8"/>
<linearGradient id="g621" href="#pal" gradientUnits="userSpaceOnUse" x1="408.2" y1="297" x2="372.1" y2="87.7"/>
<linearGradient id="g622" href="#pal" gradientUnits="userSpaceOnUse" x1="395.3" y1="295.5" x2="358.9" y2="103.2"/>
<linearGradient id="g623" href="#pal" gradientUnits="userSpaceOnUse" x1="364" y1="291.1" x2="369.6" y2="124.1"/>
<linearGradient id="g624" href="#pal" gradientUnits="userSpaceOnUse" x1="356.9" y1="291.6" x2="367.7" y2="121.8"/>
<linearGradient id="g625" href="#pal" gradientUnits="userSpaceOnUse" x1="350.2" y1="291.7" x2="367.6" y2="118.9"/>
<linearGradient id="g626" href="#pal" gradientUnits="userSpaceOnUse" x1="371.4" y1="292.2" x2="373.1" y2="121.7"/>
<linearGradient id="g627" href="#pal" gradientUnits="userSpaceOnUse" x1="364.2" y1="292.9" x2="371.3" y2="118.5"/>
<linearGradient id="g628" href="#pal" gradientUnits="userSpaceOnUse" x1="357.3" y1="293.2" x2="371.5" y2="114.6"/>
<linearGradient id="g629" href="#pal" gradientUnits="userSpaceOnUse" x1="378.7" y1="293" x2="375.3" y2="118.5"/>
<linearGradient id="g630" href="#pal" gradientUnits="userSpaceOnUse" x1="371.5" y1="294" x2="373.6" y2="114.2"/>
<linearGradient id="g631" href="#pal" gradientUnits="userSpaceOnUse" x1="364.4" y1="294.7" x2="374.2" y2="108.7"/>
<linearGradient id="g632" href="#pal" gradientUnits="userSpaceOnUse" x1="-243.6" y1="1439.2" x2="265.8" y2="-39.6"/>
<linearGradient id="g633" href="#pal" gradientUnits="userSpaceOnUse" x1="159.9" y1="918.4" x2="207.7" y2="0.5"/>
<linearGradient id="g634" href="#pal" gradientUnits="userSpaceOnUse" x1="208.9" y1="685.8" x2="175.9" y2="23"/>
<linearGradient id="g635" href="#pal" gradientUnits="userSpaceOnUse" x1="113.1" y1="651" x2="290.9" y2="37.9"/>
<linearGradient id="g636" href="#pal" gradientUnits="userSpaceOnUse" x1="180.5" y1="562.8" x2="261.3" y2="41"/>
<linearGradient id="g637" href="#pal" gradientUnits="userSpaceOnUse" x1="199.7" y1="498.9" x2="232.6" y2="45.9"/>
<linearGradient id="g638" href="#pal" gradientUnits="userSpaceOnUse" x1="218.4" y1="487.7" x2="336.1" y2="65.1"/>
<linearGradient id="g639" href="#pal" gradientUnits="userSpaceOnUse" x1="237.6" y1="451.9" x2="311.3" y2="63.3"/>
<linearGradient id="g640" href="#pal" gradientUnits="userSpaceOnUse" x1="240" y1="422.6" x2="285.2" y2="63.7"/>
<linearGradient id="g641" href="#pal" gradientUnits="userSpaceOnUse" x1="471.4" y1="924.6" x2="127.5" y2="0.9"/>
<linearGradient id="g642" href="#pal" gradientUnits="userSpaceOnUse" x1="538" y1="1073.9" x2="107.5" y2="-9.4"/>
<linearGradient id="g643" href="#pal" gradientUnits="userSpaceOnUse" x1="658.7" y1="1293.9" x2="82.4" y2="-26.4"/>
<linearGradient id="g644" href="#pal" gradientUnits="userSpaceOnUse" x1="1401.6" y1="694" x2="32.7" y2="19"/>
<linearGradient id="g645" href="#pal" gradientUnits="userSpaceOnUse" x1="1732" y1="394.3" x2="-17.1" y2="68.8"/>
<linearGradient id="g646" href="#pal" gradientUnits="userSpaceOnUse" x1="1844.3" y1="-191.9" x2="-32.5" y2="150.8"/>
<linearGradient id="g647" href="#pal" gradientUnits="userSpaceOnUse" x1="965.3" y1="-296.6" x2="121.6" y2="206.5"/>
<linearGradient id="g648" href="#pal" gradientUnits="userSpaceOnUse" x1="806.3" y1="-373.9" x2="147.2" y2="215.1"/>
<linearGradient id="g649" href="#pal" gradientUnits="userSpaceOnUse" x1="655.4" y1="-391.6" x2="166.4" y2="211.8"/>
<linearGradient id="g650" href="#pal" gradientUnits="userSpaceOnUse" x1="94.6" y1="233" x2="131.7" y2="82.5"/>
<linearGradient id="g651" href="#pal" gradientUnits="userSpaceOnUse" x1="93.7" y1="232.7" x2="129.9" y2="82"/>
<linearGradient id="g652" href="#pal" gradientUnits="userSpaceOnUse" x1="92.5" y1="232.4" x2="127.9" y2="81.6"/>
<linearGradient id="g653" href="#pal" gradientUnits="userSpaceOnUse" x1="145.7" y1="243.8" x2="182.4" y2="95.4"/>
<linearGradient id="g654" href="#pal" gradientUnits="userSpaceOnUse" x1="145.1" y1="243.6" x2="181.1" y2="95"/>
<linearGradient id="g655" href="#pal" gradientUnits="userSpaceOnUse" x1="144.2" y1="243.4" x2="179.5" y2="94.7"/>
<linearGradient id="g656" href="#pal" gradientUnits="userSpaceOnUse" x1="196.7" y1="255" x2="233.2" y2="108.3"/>
<linearGradient id="g657" href="#pal" gradientUnits="userSpaceOnUse" x1="196.4" y1="254.9" x2="232.2" y2="108.1"/>
<linearGradient id="g658" href="#pal" gradientUnits="userSpaceOnUse" x1="195.9" y1="254.8" x2="231.1" y2="107.8"/>
<linearGradient id="g659" href="#pal" gradientUnits="userSpaceOnUse" x1="350.6" y1="374.3" x2="367" y2="81.1"/>
<linearGradient id="g660" href="#pal" gradientUnits="userSpaceOnUse" x1="326.3" y1="373.2" x2="342.9" y2="79.7"/>
<linearGradient id="g661" href="#pal" gradientUnits="userSpaceOnUse" x1="302" y1="372.1" x2="318.8" y2="78.3"/>
<linearGradient id="g662" href="#pal" gradientUnits="userSpaceOnUse" x1="376.1" y1="376.1" x2="392.4" y2="82.5"/>
<linearGradient id="g663" href="#pal" gradientUnits="userSpaceOnUse" x1="351.8" y1="375" x2="368.3" y2="81.1"/>
<linearGradient id="g664" href="#pal" gradientUnits="userSpaceOnUse" x1="327.5" y1="373.9" x2="344.2" y2="79.7"/>
<linearGradient id="g665" href="#pal" gradientUnits="userSpaceOnUse" x1="401.6" y1="377.8" x2="417.8" y2="83.9"/>
<linearGradient id="g666" href="#pal" gradientUnits="userSpaceOnUse" x1="377.3" y1="376.7" x2="393.7" y2="82.5"/>
<linearGradient id="g667" href="#pal" gradientUnits="userSpaceOnUse" x1="353" y1="375.6" x2="369.6" y2="81.1"/>
<linearGradient id="g668" href="#pal" gradientUnits="userSpaceOnUse" x1="389.7" y1="465.7" x2="273.6" y2="56"/>
<linearGradient id="g669" href="#pal" gradientUnits="userSpaceOnUse" x1="354.4" y1="391.4" x2="267.3" y2="79.6"/>
<linearGradient id="g670" href="#pal" gradientUnits="userSpaceOnUse" x1="330.8" y1="356.7" x2="257.9" y2="92.7"/>
<linearGradient id="g671" href="#pal" gradientUnits="userSpaceOnUse" x1="322.4" y1="365.7" x2="321.9" y2="81.5"/>
<linearGradient id="g672" href="#pal" gradientUnits="userSpaceOnUse" x1="320" y1="342.7" x2="305.8" y2="90.1"/>
<linearGradient id="g673" href="#pal" gradientUnits="userSpaceOnUse" x1="312.3" y1="328.2" x2="291.1" y2="97.1"/>
<linearGradient id="g674" href="#pal" gradientUnits="userSpaceOnUse" x1="332.4" y1="328.1" x2="352.8" y2="96.8"/>
<linearGradient id="g675" href="#pal" gradientUnits="userSpaceOnUse" x1="329.1" y1="318.5" x2="337.1" y2="100.2"/>
<linearGradient id="g676" href="#pal" gradientUnits="userSpaceOnUse" x1="322.2" y1="311.6" x2="321.9" y2="103.7"/>
<linearGradient id="g677" href="#pal" gradientUnits="userSpaceOnUse" x1="242" y1="265.4" x2="270.5" y2="116.8"/>
<linearGradient id="g678" href="#pal" gradientUnits="userSpaceOnUse" x1="238.6" y1="264.9" x2="269.4" y2="116.6"/>
<linearGradient id="g679" href="#pal" gradientUnits="userSpaceOnUse" x1="235.8" y1="264.4" x2="269" y2="116.4"/>
<linearGradient id="g680" href="#pal" gradientUnits="userSpaceOnUse" x1="270.1" y1="272.9" x2="297.6" y2="120.9"/>
<linearGradient id="g681" href="#pal" gradientUnits="userSpaceOnUse" x1="265.9" y1="272.3" x2="296.1" y2="120.5"/>
<linearGradient id="g682" href="#pal" gradientUnits="userSpaceOnUse" x1="262.2" y1="271.7" x2="295.3" y2="120.1"/>
<linearGradient id="g683" href="#pal" gradientUnits="userSpaceOnUse" x1="298.2" y1="280.4" x2="324.3" y2="123.8"/>
<linearGradient id="g684" href="#pal" gradientUnits="userSpaceOnUse" x1="293.1" y1="279.9" x2="322.5" y2="123.1"/>
<linearGradient id="g685" href="#pal" gradientUnits="userSpaceOnUse" x1="288.6" y1="279.3" x2="321.5" y2="122.6"/>
<linearGradient id="g686" href="#pal" gradientUnits="userSpaceOnUse" x1="452.4" y1="316.8" x2="429.9" y2="95.7"/>
<linearGradient id="g687" href="#pal" gradientUnits="userSpaceOnUse" x1="423.3" y1="330.3" x2="404.9" y2="95.1"/>
<linearGradient id="g688" href="#pal" gradientUnits="userSpaceOnUse" x1="392.8" y1="346" x2="381" y2="92"/>
<linearGradient id="g689" href="#pal" gradientUnits="userSpaceOnUse" x1="468.4" y1="319.3" x2="439.7" y2="93.5"/>
<linearGradient id="g690" href="#pal" gradientUnits="userSpaceOnUse" x1="440.3" y1="334.5" x2="414.7" y2="92.3"/>
<linearGradient id="g691" href="#pal" gradientUnits="userSpaceOnUse" x1="410.7" y1="352.9" x2="390.5" y2="88.2"/>
<linearGradient id="g692" href="#pal" gradientUnits="userSpaceOnUse" x1="484.7" y1="321.6" x2="448.6" y2="90.6"/>
<linearGradient id="g693" href="#pal" gradientUnits="userSpaceOnUse" x1="457.8" y1="338.6" x2="423.3" y2="88.8"/>
<linearGradient id="g694" href="#pal" gradientUnits="userSpaceOnUse" x1="429.8" y1="360" x2="398.7" y2="83.2"/>
<linearGradient id="g695" href="#pal" gradientUnits="userSpaceOnUse" x1="355.4" y1="308.9" x2="370.5" y2="107.8"/>
<linearGradient id="g696" href="#pal" gradientUnits="userSpaceOnUse" x1="349.3" y1="303.4" x2="355.6" y2="109.9"/>
<linearGradient id="g697" href="#pal" gradientUnits="userSpaceOnUse" x1="340.7" y1="299.5" x2="340.7" y2="112.5"/>
<linearGradient id="g698" href="#pal" gradientUnits="userSpaceOnUse" x1="365.9" y1="304" x2="384.9" y2="112.2"/>
<linearGradient id="g699" href="#pal" gradientUnits="userSpaceOnUse" x1="359.5" y1="299.9" x2="370.3" y2="113.5"/>
<linearGradient id="g700" href="#pal" gradientUnits="userSpaceOnUse" x1="350.8" y1="296.9" x2="355.6" y2="115.2"/>
<linearGradient id="g701" href="#pal" gradientUnits="userSpaceOnUse" x1="377.4" y1="300.9" x2="399" y2="116.4"/>
<linearGradient id="g702" href="#pal" gradientUnits="userSpaceOnUse" x1="370.7" y1="297.7" x2="384.9" y2="117"/>
<linearGradient id="g703" href="#pal" gradientUnits="userSpaceOnUse" x1="362" y1="295.3" x2="370.4" y2="118.2"/>
<linearGradient id="g704" href="#pal" gradientUnits="userSpaceOnUse" x1="322.3" y1="285.3" x2="341.2" y2="125.1"/>
<linearGradient id="g705" href="#pal" gradientUnits="userSpaceOnUse" x1="316.7" y1="285" x2="338.2" y2="124.2"/>
<linearGradient id="g706" href="#pal" gradientUnits="userSpaceOnUse" x1="311.4" y1="284.6" x2="335.8" y2="123.3"/>
<linearGradient id="g707" href="#pal" gradientUnits="userSpaceOnUse" x1="336.7" y1="288.1" x2="353.9" y2="125"/>
<linearGradient id="g708" href="#pal" gradientUnits="userSpaceOnUse" x1="330.8" y1="287.9" x2="350.8" y2="124"/>
<linearGradient id="g709" href="#pal" gradientUnits="userSpaceOnUse" x1="325.2" y1="287.5" x2="348.4" y2="122.9"/>
<linearGradient id="g710" href="#pal" gradientUnits="userSpaceOnUse" x1="351" y1="290.8" x2="366" y2="124.2"/>
<linearGradient id="g711" href="#pal" gradientUnits="userSpaceOnUse" x1="344.9" y1="290.6" x2="363" y2="123"/>
<linearGradient id="g712" href="#pal" gradientUnits="userSpaceOnUse" x1="339.1" y1="290.3" x2="360.6" y2="121.6"/>
<linearGradient id="g713" href="#pal" gradientUnits="userSpaceOnUse" x1="495.1" y1="285.4" x2="454.4" y2="105.3"/>
<linearGradient id="g714" href="#pal" gradientUnits="userSpaceOnUse" x1="470.5" y1="298.8" x2="428.5" y2="106.8"/>
<linearGradient id="g715" href="#pal" gradientUnits="userSpaceOnUse" x1="446" y1="316.1" x2="402.3" y2="105.5"/>
<linearGradient id="g716" href="#pal" gradientUnits="userSpaceOnUse" x1="501.7" y1="284.8" x2="456.7" y2="104.2"/>
<linearGradient id="g717" href="#pal" gradientUnits="userSpaceOnUse" x1="478.2" y1="298.7" x2="430.6" y2="105.4"/>
<linearGradient id="g718" href="#pal" gradientUnits="userSpaceOnUse" x1="455.6" y1="316.9" x2="403.8" y2="103.4"/>
<linearGradient id="g719" href="#pal" gradientUnits="userSpaceOnUse" x1="508" y1="284.2" x2="458.4" y2="103.1"/>
<linearGradient id="g720" href="#pal" gradientUnits="userSpaceOnUse" x1="485.8" y1="298.3" x2="431.8" y2="103.9"/>
<linearGradient id="g721" href="#pal" gradientUnits="userSpaceOnUse" x1="465.4" y1="317.3" x2="404.1" y2="101.3"/>
<linearGradient id="g722" href="#pal" gradientUnits="userSpaceOnUse" x1="394.1" y1="295.5" x2="404.1" y2="121.8"/>
<linearGradient id="g723" href="#pal" gradientUnits="userSpaceOnUse" x1="384.7" y1="293.6" x2="390.3" y2="122.6"/>
<linearGradient id="g724" href="#pal" gradientUnits="userSpaceOnUse" x1="374.2" y1="292.3" x2="376.2" y2="123.7"/>
<linearGradient id="g725" href="#pal" gradientUnits="userSpaceOnUse" x1="400" y1="294.9" x2="411.2" y2="123"/>
<linearGradient id="g726" href="#pal" gradientUnits="userSpaceOnUse" x1="390.6" y1="293.2" x2="397.6" y2="123.6"/>
<linearGradient id="g727" href="#pal" gradientUnits="userSpaceOnUse" x1="380" y1="291.9" x2="383.4" y2="124.6"/>
<linearGradient id="g728" href="#pal" gradientUnits="userSpaceOnUse" x1="405.9" y1="294.5" x2="418.4" y2="124.2"/>
<linearGradient id="g729" href="#pal" gradientUnits="userSpaceOnUse" x1="396.6" y1="292.9" x2="404.8" y2="124.7"/>
<linearGradient id="g730" href="#pal" gradientUnits="userSpaceOnUse" x1="386" y1="291.8" x2="390.8" y2="125.6"/>
<linearGradient id="g731" href="#pal" gradientUnits="userSpaceOnUse" x1="364.1" y1="291.5" x2="369.2" y2="124.8"/>
<linearGradient id="g732" href="#pal" gradientUnits="userSpaceOnUse" x1="356.9" y1="292" x2="367.1" y2="122.5"/>
<linearGradient id="g733" href="#pal" gradientUnits="userSpaceOnUse" x1="350.1" y1="292.2" x2="366.7" y2="119.7"/>
<linearGradient id="g734" href="#pal" gradientUnits="userSpaceOnUse" x1="371.5" y1="292.6" x2="372.7" y2="122.4"/>
<linearGradient id="g735" href="#pal" gradientUnits="userSpaceOnUse" x1="364.3" y1="293.3" x2="370.7" y2="119.4"/>
<linearGradient id="g736" href="#pal" gradientUnits="userSpaceOnUse" x1="357.3" y1="293.8" x2="370.6" y2="115.6"/>
<linearGradient id="g737" href="#pal" gradientUnits="userSpaceOnUse" x1="378.8" y1="293.4" x2="375" y2="119.4"/>
<linearGradient id="g738" href="#pal" gradientUnits="userSpaceOnUse" x1="371.6" y1="294.4" x2="373.1" y2="115.3"/>
<linearGradient id="g739" href="#pal" gradientUnits="userSpaceOnUse" x1="364.4" y1="295.2" x2="373.3" y2="109.9"/>
</defs>
<rect width="1200" height="1350" fill="#fff"/>
<svg x="0" y="0" width="600" height="450" viewBox="0 0 600 450">
<text x="298.8" y="26.5" text-anchor="middle" class="t">Bobtail KRBD 4K FIO Write Throughput (EXT4 OSDs)</text>
<text transform="translate(11.6,150) rotate(-90)" text-anchor="middle">Throughput (MB/s)</text>
<path d="M384.2 363.2L85.5 285.5L216.2 251.8L515 329.5Z" class="b"/>
<path d="M384.2 363.2L515 329.5M346.9 353.5L477.7 319.8M309.6 343.8L440.3 310.1M272.2 334.1L403 300.3M234.9 324.4L365.6 290.6M197.5 314.7L328.3 280.9M160.2 304.9L290.9 271.2M122.8 295.2L253.6 261.5M85.5 285.5L216.2 251.8M384.2 363.2L85.5 285.5M402.9 358.4L104.2 280.7M421.6 353.6L122.9 275.9M440.3 348.8L141.5 271M459 344L160.2 266.2M477.6 339.1L178.9 261.4M496.3 334.3L197.6 256.6M515 329.5L216.2 251.8M90 216.3L216.2 183.6L515 261.3M90 202.8L216.2 170.1L515 247.8M90 189.3L216.2 156.6L515 234.3M90 175.8L216.2 143.1L515 220.8M90 162.3L216.2 129.6L515 207.3M90 148.8L216.2 116.1L515 193.8M90 135.4L216.2 102.6L515 180.4M90 121.9L216.2 89.1L515 166.9M90 108.4L216.2 75.6L515 153.4M90 94.9L216.2 62.1L515 139.9M90 81.4L216.2 48.6L515 126.4" class="g"/>
<text x="73.5" y="221.9" text-anchor="end">0</text>
<text x="73.5" y="208.4" text-anchor="end">2</text>
<text x="73.5" y="194.9" text-anchor="end">4</text>
<text x="73.5" y="181.4" text-anchor="end">6</text>
<text x="73.5" y="167.9" text-anchor="end">8</text>
<text x="73.5" y="154.5" text-anchor="end">10</text>
<text x="73.5" y="141" text-anchor="end">12</text>
<text x="73.5" y="127.5" text-anchor="end">14</text>
<text x="73.5" y="114" text-anchor="end">16</text>
<text x="73.5" y="100.5" text-anchor="end">18</text>
<text x="73.5" y="87" text-anchor="end">20</text>
<text x="377.9" y="381.6" text-anchor="middle">0</text>
<text x="340.5" y="371.8" text-anchor="middle">2</text>
<text x="303.2" y="362.1" text-anchor="middle">4</text>
<text x="265.8" y="352.4" text-anchor="middle">6</text>
<text x="228.5" y="342.7" text-anchor="middle">8</text>
<text x="191.1" y="333" text-anchor="middle">10</text>
<text x="153.8" y="323.2" text-anchor="middle">12</text>
<text x="116.4" y="313.5" text-anchor="middle">14</text>
<text x="79.1" y="303.8" text-anchor="middle">16</text>
<text x="409.6" y="379.6" text-anchor="middle">1</text>
<text x="428.2" y="374.7" text-anchor="middle">2</text>
<text x="446.9" y="369.9" text-anchor="middle">3</text>
<text x="465.6" y="365.1" text-anchor="middle">4</text>
<text x="484.3" y="360.3" text-anchor="middle">5</text>
<text x="502.9" y="355.4" text-anchor="middle">6</text>
<text x="521.6" y="350.6" text-anchor="middle">7</text>
<text x="540.3" y="345.8" text-anchor="middle">8</text>
<path d="M85.5 285.5V82.4M85.5 217.3h4.5M85.5 203.8h4.5M85.5 190.3h4.5M85.5 176.8h4.5M85.5 163.3h4.5M85.5 149.9h4.5M85.5 136.4h4.5M85.5 122.9h4.5M85.5 109.4h4.5M85.5 95.9h4.5M85.5 82.4h4.5M384.2 363.2l4.6 -1.2M515 329.5l-4.6 1.2M346.9 353.5l4.6 -1.2M477.7 319.8l-4.6 1.2M309.6 343.8l4.6 -1.2M440.3 310.1l-4.6 1.2M272.2 334.1l4.6 -1.2M403 300.3l-4.6 1.2M234.9 324.4l4.6 -1.2M365.6 290.6l-4.6 1.2M197.5 314.7l4.6 -1.2M328.3 280.9l-4.6 1.2M160.2 304.9l4.6 -1.2M290.9 271.2l-4.6 1.2M122.8 295.2l4.6 -1.2M253.6 261.5l-4.6 1.2M85.5 285.5l4.6 -1.2M216.2 251.8l-4.6 1.2M384.2 363.2l-4.9 -1.3M85.5 285.5l4.9 1.3M402.9 358.4l-4.9 -1.3M104.2 280.7l4.9 1.3M421.6 353.6l-4.9 -1.3M122.9 275.9l4.9 1.3M440.3 348.8l-4.9 -1.3M141.5 271l4.9 1.3M459 344l-4.9 -1.3M160.2 266.2l4.9 1.3M477.6 339.1l-4.9 -1.3M178.9 261.4l4.9 1.3M496.3 334.3l-4.9 -1.3M197.6 256.6l4.9 1.3M515 329.5l-4.9 -1.3M216.2 251.8l4.9 1.3" class="b"/>
<g class="s">
<polygon points="191.3,76.6 216.2,58.3 266,70.7 241.1,89.4" fill="url(#g1)" stroke="url(#g1)"/>
<polygon points="166.4,95 191.3,76.6 241.1,89.4 216.2,108" fill="url(#g2)" stroke="url(#g2)"/>
<polygon points="141.5,113.3 166.4,95 216.2,108 191.3,126.7" fill="url(#g3)" stroke="url(#g3)"/>
<polygon points="241.1,89.4 266,70.7 315.8,83.2 290.9,102.1" fill="url(#g4)" stroke="url(#g4)"/>
<polygon points="216.2,108 241.1,89.4 290.9,102.1 266,121.1" fill="url(#g5)" stroke="url(#g5)"/>
<polygon points="191.3,126.7 216.2,108 266,121.1 241.1,140" fill="url(#g6)" stroke="url(#g6)"/>
<polygon points="290.9,102.1 315.8,83.2 365.6,95.6 340.7,114.9" fill="url(#g7)" stroke="url(#g7)"/>
<polygon points="266,121.1 290.9,102.1 340.7,114.9 315.8,134.1" fill="url(#g8)" stroke="url(#g8)"/>
<polygon points="241.1,140 266,121.1 315.8,134.1 290.9,153.4" fill="url(#g9)" stroke="url(#g9)"/>
<polygon points="129.1,130.4 141.5,113.3 191.3,126.7 178.9,143.8" fill="url(#g10)" stroke="url(#g10)"/>
<polygon points="116.6,147.6 129.1,130.4 178.9,143.8 166.4,161" fill="url(#g11)" stroke="url(#g11)"/>
<polygon points="104.2,164.7 116.6,147.6 166.4,161 154,178.1" fill="url(#g12)" stroke="url(#g12)"/>
<polygon points="178.9,143.8 191.3,126.7 241.1,140 228.7,157.2" fill="url(#g13)" stroke="url(#g13)"/>
<polygon points="166.4,161 178.9,143.8 228.7,157.2 216.2,174.4" fill="url(#g14)" stroke="url(#g14)"/>
<polygon points="154,178.1 166.4,161 216.2,174.4 203.8,191.6" fill="url(#g15)" stroke="url(#g15)"/>
<polygon points="228.7,157.2 241.1,140 290.9,153.4 278.5,170.6" fill="url(#g16)" stroke="url(#g16)"/>
<polygon points="216.2,174.4 228.7,157.2 278.5,170.6 266,187.8" fill="url(#g17)" stroke="url(#g17)"/>
<polygon points="203.8,191.6 216.2,174.4 266,187.8 253.6,205" fill="url(#g18)" stroke="url(#g18)"/>
<polygon points="98,174 104.2,164.7 154,178.1 147.7,187.6" fill="url(#g19)" stroke="url(#g19)"/>
<polygon points="91.7,183.2 98,174 147.7,187.6 141.5,197" fill="url(#g20)" stroke="url(#g20)"/>
<polygon points="85.5,192.5 91.7,183.2 141.5,197 135.3,206.4" fill="url(#g21)" stroke="url(#g21)"/>
<polygon points="147.7,187.6 154,178.1 203.8,191.6 197.5,201.2" fill="url(#g22)" stroke="url(#g22)"/>
<polygon points="141.5,197 147.7,187.6 197.5,201.2 191.3,210.8" fill="url(#g23)" stroke="url(#g23)"/>
<polygon points="135.3,206.4 141.5,197 191.3,210.8 185.1,220.4" fill="url(#g24)" stroke="url(#g24)"/>
<polygon points="197.5,201.2 203.8,191.6 253.6,205 247.3,214.8" fill="url(#g25)" stroke="url(#g25)"/>
<polygon points="191.3,210.8 197.5,201.2 247.3,214.8 241.1,224.5" fill="url(#g26)" stroke="url(#g26)"/>
<polygon points="185.1,220.4 191.3,210.8 241.1,224.5 234.9,234.3" fill="url(#g27)" stroke="url(#g27)"/>
<polygon points="340.7,114.9 365.6,95.6 390.5,106.4 365.6,124.7" fill="url(#g28)" stroke="url(#g28)"/>
<polygon points="315.8,134.1 340.7,114.9 365.6,124.7 340.7,143" fill="url(#g29)" stroke="url(#g29)"/>
<polygon points="290.9,153.4 315.8,134.1 340.7,143 315.8,161.3" fill="url(#g30)" stroke="url(#g30)"/>
<polygon points="365.6,124.7 390.5,106.4 415.4,117.2 390.5,134.5" fill="url(#g31)" stroke="url(#g31)"/>
<polygon points="340.7,143 365.6,124.7 390.5,134.5 365.6,151.8" fill="url(#g32)" stroke="url(#g32)"/>
<polygon points="315.8,161.3 340.7,143 365.6,151.8 340.7,169.1" fill="url(#g33)" stroke="url(#g33)"/>
<polygon points="390.5,134.5 415.4,117.2 440.3,128 415.4,144.3" fill="url(#g34)" stroke="url(#g34)"/>
<polygon points="365.6,151.8 390.5,134.5 415.4,144.3 390.5,160.7" fill="url(#g35)" stroke="url(#g35)"/>
<polygon points="340.7,169.1 365.6,151.8 390.5,160.7 365.6,177" fill="url(#g36)" stroke="url(#g36)"/>
<polygon points="278.5,170.6 290.9,153.4 315.8,161.3 303.4,178.4" fill="url(#g37)" stroke="url(#g37)"/>
<polygon points="266,187.8 278.5,170.6 303.4,178.4 290.9,195.4" fill="url(#g38)" stroke="url(#g38)"/>
<polygon points="253.6,205 266,187.8 290.9,195.4 278.4,212.5" fill="url(#g39)" stroke="url(#g39)"/>
<polygon points="303.4,178.4 315.8,161.3 340.7,169.1 328.2,186.1" fill="url(#g40)" stroke="url(#g40)"/>
<polygon points="290.9,195.4 303.4,178.4 328.2,186.1 315.8,203.1" fill="url(#g41)" stroke="url(#g41)"/>
<polygon points="278.4,212.5 290.9,195.4 315.8,203.1 303.3,220.1" fill="url(#g42)" stroke="url(#g42)"/>
<polygon points="328.2,186.1 340.7,169.1 365.6,177 353.1,193.9" fill="url(#g43)" stroke="url(#g43)"/>
<polygon points="315.8,203.1 328.2,186.1 353.1,193.9 340.7,210.7" fill="url(#g44)" stroke="url(#g44)"/>
<polygon points="303.3,220.1 315.8,203.1 340.7,210.7 328.2,227.6" fill="url(#g45)" stroke="url(#g45)"/>
<polygon points="247.3,214.8 253.6,205 278.4,212.5 272.2,221.8" fill="url(#g46)" stroke="url(#g46)"/>
<polygon points="241.1,224.5 247.3,214.8 272.2,221.8 266,231" fill="url(#g47)" stroke="url(#g47)"/>
<polygon points="234.9,234.3 241.1,224.5 266,231 259.8,240.2" fill="url(#g48)" stroke="url(#g48)"/>
<polygon points="272.2,221.8 278.4,212.5 303.3,220.1 297.1,228.7" fill="url(#g49)" stroke="url(#g49)"/>
<polygon points="266,231 272.2,221.8 297.1,228.7 290.9,237.4" fill="url(#g50)" stroke="url(#g50)"/>
<polygon points="259.8,240.2 266,231 290.9,237.4 284.7,246.1" fill="url(#g51)" stroke="url(#g51)"/>
<polygon points="297.1,228.7 303.3,220.1 328.2,227.6 322,235.7" fill="url(#g52)" stroke="url(#g52)"/>
<polygon points="290.9,237.4 297.1,228.7 322,235.7 315.8,243.9" fill="url(#g53)" stroke="url(#g53)"/>
<polygon points="284.7,246.1 290.9,237.4 315.8,243.9 309.6,252" fill="url(#g54)" stroke="url(#g54)"/>
<polygon points="415.4,144.3 440.3,128 452.8,132.8 427.9,149.1" fill="url(#g55)" stroke="url(#g55)"/>
<polygon points="390.5,160.7 415.4,144.3 427.9,149.1 403,165.4" fill="url(#g56)" stroke="url(#g56)"/>
<polygon points="365.6,177 390.5,160.7 403,165.4 378,181.7" fill="url(#g57)" stroke="url(#g57)"/>
<polygon points="427.9,149.1 452.8,132.8 465.2,137.6 440.3,153.8" fill="url(#g58)" stroke="url(#g58)"/>
<polygon points="403,165.4 427.9,149.1 440.3,153.8 415.4,170.1" fill="url(#g59)" stroke="url(#g59)"/>
<polygon points="378,181.7 403,165.4 415.4,170.1 390.5,186.3" fill="url(#g60)" stroke="url(#g60)"/>
<polygon points="440.3,153.8 465.2,137.6 477.7,142.4 452.8,158.6" fill="url(#g61)" stroke="url(#g61)"/>
<polygon points="415.4,170.1 440.3,153.8 452.8,158.6 427.8,174.8" fill="url(#g62)" stroke="url(#g62)"/>
<polygon points="390.5,186.3 415.4,170.1 427.8,174.8 402.9,191" fill="url(#g63)" stroke="url(#g63)"/>
<polygon points="353.1,193.9 365.6,177 378,181.7 365.6,198.5" fill="url(#g64)" stroke="url(#g64)"/>
<polygon points="340.7,210.7 353.1,193.9 365.6,198.5 353.1,215.4" fill="url(#g65)" stroke="url(#g65)"/>
<polygon points="328.2,227.6 340.7,210.7 353.1,215.4 340.7,232.3" fill="url(#g66)" stroke="url(#g66)"/>
<polygon points="365.6,198.5 378,181.7 390.5,186.3 378,203.2" fill="url(#g67)" stroke="url(#g67)"/>
<polygon points="353.1,215.4 365.6,198.5 378,203.2 365.6,220.1" fill="url(#g68)" stroke="url(#g68)"/>
<polygon points="340.7,232.3 353.1,215.4 365.6,220.1 353.1,236.9" fill="url(#g69)" stroke="url(#g69)"/>
<polygon points="378,203.2 390.5,186.3 402.9,191 390.5,207.9" fill="url(#g70)" stroke="url(#g70)"/>
<polygon points="365.6,220.1 378,203.2 390.5,207.9 378,224.7" fill="url(#g71)" stroke="url(#g71)"/>
<polygon points="353.1,236.9 365.6,220.1 378,224.7 365.6,241.6" fill="url(#g72)" stroke="url(#g72)"/>
<polygon points="322,235.7 328.2,227.6 340.7,232.3 334.5,240.2" fill="url(#g73)" stroke="url(#g73)"/>
<polygon points="315.8,243.9 322,235.7 334.5,240.2 328.2,248.1" fill="url(#g74)" stroke="url(#g74)"/>
<polygon points="309.6,252 315.8,243.9 328.2,248.1 322,256" fill="url(#g75)" stroke="url(#g75)"/>
<polygon points="334.5,240.2 340.7,232.3 353.1,236.9 346.9,244.6" fill="url(#g76)" stroke="url(#g76)"/>
<polygon points="328.2,248.1 334.5,240.2 346.9,244.6 340.7,252.3" fill="url(#g77)" stroke="url(#g77)"/>
<polygon points="322,256 328.2,248.1 340.7,252.3 334.5,260" fill="url(#g78)" stroke="url(#g78)"/>
<polygon points="346.9,244.6 353.1,236.9 365.6,241.6 359.4,249.1" fill="url(#g79)" stroke="url(#g79)"/>
<polygon points="340.7,252.3 346.9,244.6 359.4,249.1 353.1,256.5" fill="url(#g80)" stroke="url(#g80)"/>
<polygon points="334.5,260 340.7,252.3 353.1,256.5 346.9,264" fill="url(#g81)" stroke="url(#g81)"/>
<polygon points="452.8,158.6 477.7,142.4 483.9,148.3 459,165.2" fill="url(#g82)" stroke="url(#g82)"/>
<polygon points="427.8,174.8 452.8,158.6 459,165.2 434.1,182.1" fill="url(#g83)" stroke="url(#g83)"/>
<polygon points="402.9,191 427.8,174.8 434.1,182.1 409.2,199" fill="url(#g84)" stroke="url(#g84)"/>
<polygon points="459,165.2 483.9,148.3 490.1,154.1 465.2,171.8" fill="url(#g85)" stroke="url(#g85)"/>
<polygon points="434.1,182.1 459,165.2 465.2,171.8 440.3,189.4" fill="url(#g86)" stroke="url(#g86)"/>
<polygon points="409.2,199 434.1,182.1 440.3,189.4 415.4,207" fill="url(#g87)" stroke="url(#g87)"/>
<polygon points="465.2,171.8 490.1,154.1 496.3,160 471.4,178.3" fill="url(#g88)" stroke="url(#g88)"/>
<polygon points="440.3,189.4 465.2,171.8 471.4,178.3 446.5,196.7" fill="url(#g89)" stroke="url(#g89)"/>
<polygon points="415.4,207 440.3,189.4 446.5,196.7 421.6,215" fill="url(#g90)" stroke="url(#g90)"/>
<polygon points="390.5,207.9 402.9,191 409.2,199 396.7,214.9" fill="url(#g91)" stroke="url(#g91)"/>
<polygon points="378,224.7 390.5,207.9 396.7,214.9 384.3,230.8" fill="url(#g92)" stroke="url(#g92)"/>
<polygon points="365.6,241.6 378,224.7 384.3,230.8 371.8,246.7" fill="url(#g93)" stroke="url(#g93)"/>
<polygon points="396.7,214.9 409.2,199 415.4,207 402.9,222" fill="url(#g94)" stroke="url(#g94)"/>
<polygon points="384.3,230.8 396.7,214.9 402.9,222 390.5,236.9" fill="url(#g95)" stroke="url(#g95)"/>
<polygon points="371.8,246.7 384.3,230.8 390.5,236.9 378,251.9" fill="url(#g96)" stroke="url(#g96)"/>
<polygon points="402.9,222 415.4,207 421.6,215 409.2,229" fill="url(#g97)" stroke="url(#g97)"/>
<polygon points="390.5,236.9 402.9,222 409.2,229 396.7,243" fill="url(#g98)" stroke="url(#g98)"/>
<polygon points="378,251.9 390.5,236.9 396.7,243 384.3,257" fill="url(#g99)" stroke="url(#g99)"/>
<polygon points="359.4,249.1 365.6,241.6 371.8,246.7 365.6,253.8" fill="url(#g100)" stroke="url(#g100)"/>
<polygon points="353.1,256.5 359.4,249.1 365.6,253.8 359.4,260.9" fill="url(#g101)" stroke="url(#g101)"/>
<polygon points="346.9,264 353.1,256.5 359.4,260.9 353.1,268" fill="url(#g102)" stroke="url(#g102)"/>
<polygon points="365.6,253.8 371.8,246.7 378,251.9 371.8,258.6" fill="url(#g103)" stroke="url(#g103)"/>
<polygon points="359.4,260.9 365.6,253.8 371.8,258.6 365.6,265.3" fill="url(#g104)" stroke="url(#g104)"/>
<polygon points="353.1,268 359.4,260.9 365.6,265.3 359.4,272" fill="url(#g105)" stroke="url(#g105)"/>
<polygon points="371.8,258.6 378,251.9 384.3,257 378,263.3" fill="url(#g106)" stroke="url(#g106)"/>
<polygon points="365.6,265.3 371.8,258.6 378,263.3 371.8,269.7" fill="url(#g107)" stroke="url(#g107)"/>
<polygon points="359.4,272 365.6,265.3 371.8,269.7 365.6,276" fill="url(#g108)" stroke="url(#g108)"/>
<path d="M85.5 192.5L104.2 164.7M104.2 164.7L141.5 113.3M141.5 113.3L216.2 58.3M384.3 257L365.6 276" class="m n"/>
<path d="M253.6 205L104.2 164.7M234.9 234.3L253.6 205M234.9 234.3L85.5 192.5M290.9 153.4L141.5 113.3M253.6 205L290.9 153.4M216.2 58.3L365.6 95.6M290.9 153.4L365.6 95.6M328.2 227.6L253.6 205M309.6 252L328.2 227.6M309.6 252L234.9 234.3M365.6 177L290.9 153.4M328.2 227.6L365.6 177M365.6 95.6L440.3 128M365.6 177L440.3 128M365.6 241.6L328.2 227.6M346.9 264L365.6 241.6M346.9 264L309.6 252M402.9 191L365.6 177M365.6 241.6L402.9 191M440.3 128L477.7 142.4M402.9 191L477.7 142.4M384.3 257L365.6 241.6M365.6 276L346.9 264M421.6 215L402.9 191M477.7 142.4L496.3 160" class="m"/>
</g>
<rect x="528.5" y="89.5" width="12.0" height="180.0" fill="url(#cbar)"/>
<text x="555.8" y="273.9">2</text>
<text x="555.8" y="253.9">4</text>
<text x="555.8" y="233.9">6</text>
<text x="555.8" y="213.9">8</text>
<text x="555.8" y="193.9">10</text>
<text x="555.8" y="173.9">12</text>
<text x="555.8" y="153.9">14</text>
<text x="555.8" y="133.9">16</text>
<text x="555.8" y="113.9">18</text>
<text x="555.8" y="93.9">20</text>
<path d="M528.5 249.5h4M540.5 249.5h-4M528.5 229.5h4M540.5 229.5h-4M528.5 209.5h4M540.5 209.5h-4M528.5 189.5h4M540.5 189.5h-4M528.5 169.5h4M540.5 169.5h-4M528.5 149.5h4M540.5 149.5h-4M528.5 129.5h4M540.5 129.5h-4M528.5 109.5h4M540.5 109.5h-4" class="b"/>
<rect x="528.5" y="89.5" width="12.0" height="180.0" class="b"/>
<text x="200.5" y="376" text-anchor="middle">IO Depth</text>
<text x="521.5" y="403" text-anchor="middle">Volumes</text>
<text x="521.5" y="421.5" text-anchor="middle">(On 1 Host)</text>
</svg>
<svg x="600" y="0" width="600" height="450" viewBox="0 0 600 450">
<text x="298.8" y="26.5" text-anchor="middle" class="t">Cuttlefish KRBD 4K FIO Write Throughput (EXT4 OSDs)</text>
<text transform="translate(11.6,150) rotate(-90)" text-anchor="middle">Throughput (MB/s)</text>
<path d="M384.2 363.2L85.5 285.5L216.2 251.8L515 329.5Z" class="b"/>
<path d="M384.2 363.2L515 329.5M346.9 353.5L477.7 319.8M309.6 343.8L440.3 310.1M272.2 334.1L403 300.3M234.9 324.4L365.6 290.6M197.5 314.7L328.3 280.9M160.2 304.9L290.9 271.2M122.8 295.2L253.6 261.5M85.5 285.5L216.2 251.8M384.2 363.2L85.5 285.5M402.9 358.4L104.2 280.7M421.6 353.6L122.9 275.9M440.3 348.8L141.5 271M459 344L160.2 266.2M477.6 339.1L178.9 261.4M496.3 334.3L197.6 256.6M515 329.5L216.2 251.8M90 216.3L216.2 183.6L515 261.3M90 189.3L216.2 156.6L515 234.3M90 162.3L216.2 129.6L515 207.3M90 135.4L216.2 102.6L515 180.4M90 108.4L216.2 75.6L515 153.4M90 81.4L216.2 48.6L515 126.4" class="g"/>
<text x="73.5" y="221.9" text-anchor="end">0</text>
<text x="73.5" y="194.9" text-anchor="end">5</text>
<text x="73.5" y="167.9" text-anchor="end">10</text>
<text x="73.5" y="141" text-anchor="end">15</text>
<text x="73.5" y="114" text-anchor="end">20</text>
<text x="73.5" y="87" text-anchor="end">25</text>
<text x="377.9" y="381.6" text-anchor="middle">0</text>
<text x="340.5" y="371.8" text-anchor="middle">2</text>
<text x="303.2" y="362.1" text-anchor="middle">4</text>
<text x="265.8" y="352.4" text-anchor="middle">6</text>
<text x="228.5" y="342.7" text-anchor="middle">8</text>
<text x="191.1" y="333" text-anchor="middle">10</text>
<text x="153.8" y="323.2" text-anchor="middle">12</text>
<text x="116.4" y="313.5" text-anchor="middle">14</text>
<text x="79.1" y="303.8" text-anchor="middle">16</text>
<text x="409.6" y="379.6" text-anchor="middle">1</text>
<text x="428.2" y="374.7" text-anchor="middle">2</text>
<text x="446.9" y="369.9" text-anchor="middle">3</text>
<text x="465.6" y="365.1" text-anchor="middle">4</text>
<text x="484.3" y="360.3" text-anchor="middle">5</text>
<text x="502.9" y="355.4" text-anchor="middle">6</text>
<text x="521.6" y="350.6" text-anchor="middle">7</text>
<text x="540.3" y="345.8" text-anchor="middle">8</text>
<path d="M85.5 285.5V82.4M85.5 217.3h4.5M85.5 190.3h4.5M85.5 163.3h4.5M85.5 136.4h4.5M85.5 109.4h4.5M85.5 82.4h4.5M384.2 363.2l4.6 -1.2M515 329.5l-4.6 1.2M346.9 353.5l4.6 -1.2M477.7 319.8l-4.6 1.2M309.6 343.8l4.6 -1.2M440.3 310.1l-4.6 1.2M272.2 334.1l4.6 -1.2M403 300.3l-4.6 1.2M234.9 324.4l4.6 -1.2M365.6 290.6l-4.6 1.2M197.5 314.7l4.6 -1.2M328.3 280.9l-4.6 1.2M160.2 304.9l4.6 -1.2M290.9 271.2l-4.6 1.2M122.8 295.2l4.6 -1.2M253.6 261.5l-4.6 1.2M85.5 285.5l4.6 -1.2M216.2 251.8l-4.6 1.2M384.2 363.2l-4.9 -1.3M85.5 285.5l4.9 1.3M402.9 358.4l-4.9 -1.3M104.2 280.7l4.9 1.3M421.6 353.6l-4.9 -1.3M122.9 275.9l4.9 1.3M440.3 348.8l-4.9 -1.3M141.5 271l4.9 1.3M459 344l-4.9 -1.3M160.2 266.2l4.9 1.3M477.6 339.1l-4.9 -1.3M178.9 261.4l4.9 1.3M496.3 334.3l-4.9 -1.3M197.6 256.6l4.9 1.3M515 329.5l-4.9 -1.3M216.2 251.8l4.9 1.3" class="b"/>
<g class="s">
<polygon points="191.3,89.8 216.2,69.4 266,81.8 241.1,102.3" fill="url(#g109)" stroke="url(#g109)"/>
<polygon points="166.4,110.2 191.3,89.8 241.1,102.3 216.2,122.7" fill="url(#g110)" stroke="url(#g110)"/>
<polygon points="141.5,130.6 166.4,110.2 216.2,122.7 191.3,143.2" fill="url(#g111)" stroke="url(#g111)"/>
<polygon points="241.1,102.3 266,81.8 315.8,94.2 290.9,114.7" fill="url(#g112)" stroke="url(#g112)"/>
<polygon points="216.2,122.7 241.1,102.3 290.9,114.7 266,135.3" fill="url(#g113)" stroke="url(#g113)"/>
<polygon points="191.3,143.2 216.2,122.7 266,135.3 241.1,155.8" fill="url(#g114)" stroke="url(#g114)"/>
<polygon points="290.9,114.7 315.8,94.2 365.6,106.6 340.7,127.2" fill="url(#g115)" stroke="url(#g115)"/>
<polygon points="266,135.3 290.9,114.7 340.7,127.2 315.8,147.8" fill="url(#g116)" stroke="url(#g116)"/>
<polygon points="241.1,155.8 266,135.3 315.8,147.8 290.9,168.4" fill="url(#g117)" stroke="url(#g117)"/>
<polygon points="129.1,146.7 141.5,130.6 191.3,143.2 178.9,159.5" fill="url(#g118)" stroke="url(#g118)"/>
<polygon points="116.6,162.9 129.1,146.7 178.9,159.5 166.4,175.8" fill="url(#g119)" stroke="url(#g119)"/>
<polygon points="104.2,179 116.6,162.9 166.4,175.8 154,192.1" fill="url(#g120)" stroke="url(#g120)"/>
<polygon points="178.9,159.5 191.3,143.2 241.1,155.8 228.7,172.3" fill="url(#g121)" stroke="url(#g121)"/>
<polygon points="166.4,175.8 178.9,159.5 228.7,172.3 216.2,188.8" fill="url(#g122)" stroke="url(#g122)"/>
<polygon points="154,192.1 166.4,175.8 216.2,188.8 203.8,205.3" fill="url(#g123)" stroke="url(#g123)"/>
<polygon points="228.7,172.3 241.1,155.8 290.9,168.4 278.5,185.1" fill="url(#g124)" stroke="url(#g124)"/>
<polygon points="216.2,188.8 228.7,172.3 278.5,185.1 266,201.7" fill="url(#g125)" stroke="url(#g125)"/>
<polygon points="203.8,205.3 216.2,188.8 266,201.7 253.6,218.4" fill="url(#g126)" stroke="url(#g126)"/>
<polygon points="98,186 104.2,179 154,192.1 147.7,199.2" fill="url(#g127)" stroke="url(#g127)"/>
<polygon points="91.7,193 98,186 147.7,199.2 141.5,206.3" fill="url(#g128)" stroke="url(#g128)"/>
<polygon points="85.5,200 91.7,193 141.5,206.3 135.3,213.3" fill="url(#g129)" stroke="url(#g129)"/>
<polygon points="147.7,199.2 154,192.1 203.8,205.3 197.5,212.4" fill="url(#g130)" stroke="url(#g130)"/>
<polygon points="141.5,206.3 147.7,199.2 197.5,212.4 191.3,219.5" fill="url(#g131)" stroke="url(#g131)"/>
<polygon points="135.3,213.3 141.5,206.3 191.3,219.5 185.1,226.7" fill="url(#g132)" stroke="url(#g132)"/>
<polygon points="197.5,212.4 203.8,205.3 253.6,218.4 247.3,225.6" fill="url(#g133)" stroke="url(#g133)"/>
<polygon points="191.3,219.5 197.5,212.4 247.3,225.6 241.1,232.8" fill="url(#g134)" stroke="url(#g134)"/>
<polygon points="185.1,226.7 191.3,219.5 241.1,232.8 234.9,240" fill="url(#g135)" stroke="url(#g135)"/>
<polygon points="340.7,127.2 365.6,106.6 390.5,115.1 365.6,135.5" fill="url(#g136)" stroke="url(#g136)"/>
<polygon points="315.8,147.8 340.7,127.2 365.6,135.5 340.7,156" fill="url(#g137)" stroke="url(#g137)"/>
<polygon points="290.9,168.4 315.8,147.8 340.7,156 315.8,176.4" fill="url(#g138)" stroke="url(#g138)"/>
<polygon points="365.6,135.5 390.5,115.1 415.4,123.5 390.5,143.8" fill="url(#g139)" stroke="url(#g139)"/>
<polygon points="340.7,156 365.6,135.5 390.5,143.8 365.6,164.1" fill="url(#g140)" stroke="url(#g140)"/>
<polygon points="315.8,176.4 340.7,156 365.6,164.1 340.7,184.4" fill="url(#g141)" stroke="url(#g141)"/>
<polygon points="390.5,143.8 415.4,123.5 440.3,132 415.4,152.1" fill="url(#g142)" stroke="url(#g142)"/>
<polygon points="365.6,164.1 390.5,143.8 415.4,152.1 390.5,172.3" fill="url(#g143)" stroke="url(#g143)"/>
<polygon points="340.7,184.4 365.6,164.1 390.5,172.3 365.6,192.4" fill="url(#g144)" stroke="url(#g144)"/>
<polygon points="278.5,185.1 290.9,168.4 315.8,176.4 303.4,192.8" fill="url(#g145)" stroke="url(#g145)"/>
<polygon points="266,201.7 278.5,185.1 303.4,192.8 290.9,209.3" fill="url(#g146)" stroke="url(#g146)"/>
<polygon points="253.6,218.4 266,201.7 290.9,209.3 278.4,225.7" fill="url(#g147)" stroke="url(#g147)"/>
<polygon points="303.4,192.8 315.8,176.4 340.7,184.4 328.2,200.6" fill="url(#g148)" stroke="url(#g148)"/>
<polygon points="290.9,209.3 303.4,192.8 328.2,200.6 315.8,216.8" fill="url(#g149)" stroke="url(#g149)"/>
<polygon points="278.4,225.7 290.9,209.3 315.8,216.8 303.3,233.1" fill="url(#g150)" stroke="url(#g150)"/>
<polygon points="328.2,200.6 340.7,184.4 365.6,192.4 353.1,208.4" fill="url(#g151)" stroke="url(#g151)"/>
<polygon points="315.8,216.8 328.2,200.6 353.1,208.4 340.7,224.4" fill="url(#g152)" stroke="url(#g152)"/>
<polygon points="303.3,233.1 315.8,216.8 340.7,224.4 328.2,240.4" fill="url(#g153)" stroke="url(#g153)"/>
<polygon points="247.3,225.6 253.6,218.4 278.4,225.7 272.2,232.7" fill="url(#g154)" stroke="url(#g154)"/>
<polygon points="241.1,232.8 247.3,225.6 272.2,232.7 266,239.7" fill="url(#g155)" stroke="url(#g155)"/>
<polygon points="234.9,240 241.1,232.8 266,239.7 259.8,246.7" fill="url(#g156)" stroke="url(#g156)"/>
<polygon points="272.2,232.7 278.4,225.7 303.3,233.1 297.1,239.8" fill="url(#g157)" stroke="url(#g157)"/>
<polygon points="266,239.7 272.2,232.7 297.1,239.8 290.9,246.6" fill="url(#g158)" stroke="url(#g158)"/>
<polygon points="259.8,246.7 266,239.7 290.9,246.6 284.7,253.3" fill="url(#g159)" stroke="url(#g159)"/>
<polygon points="297.1,239.8 303.3,233.1 328.2,240.4 322,246.9" fill="url(#g160)" stroke="url(#g160)"/>
<polygon points="290.9,246.6 297.1,239.8 322,246.9 315.8,253.5" fill="url(#g161)" stroke="url(#g161)"/>
<polygon points="284.7,253.3 290.9,246.6 315.8,253.5 309.6,260" fill="url(#g162)" stroke="url(#g162)"/>
<polygon points="415.4,152.1 440.3,132 452.8,137.5 427.9,158.1" fill="url(#g163)" stroke="url(#g163)"/>
<polygon points="390.5,172.3 415.4,152.1 427.9,158.1 403,178.7" fill="url(#g164)" stroke="url(#g164)"/>
<polygon points="365.6,192.4 390.5,172.3 403,178.7 378,199.3" fill="url(#g165)" stroke="url(#g165)"/>
<polygon points="427.9,158.1 452.8,137.5 465.2,143.1 440.3,164.1" fill="url(#g166)" stroke="url(#g166)"/>
<polygon points="403,178.7 427.9,158.1 440.3,164.1 415.4,185.1" fill="url(#g167)" stroke="url(#g167)"/>
<polygon points="378,199.3 403,178.7 415.4,185.1 390.5,206.1" fill="url(#g168)" stroke="url(#g168)"/>
<polygon points="440.3,164.1 465.2,143.1 477.7,148.6 452.8,170.1" fill="url(#g169)" stroke="url(#g169)"/>
<polygon points="415.4,185.1 440.3,164.1 452.8,170.1 427.8,191.5" fill="url(#g170)" stroke="url(#g170)"/>
<polygon points="390.5,206.1 415.4,185.1 427.8,191.5 402.9,213" fill="url(#g171)" stroke="url(#g171)"/>
<polygon points="353.1,208.4 365.6,192.4 378,199.3 365.6,214.2" fill="url(#g172)" stroke="url(#g172)"/>
<polygon points="340.7,224.4 353.1,208.4 365.6,214.2 353.1,229.1" fill="url(#g173)" stroke="url(#g173)"/>
<polygon points="328.2,240.4 340.7,224.4 353.1,229.1 340.7,244.1" fill="url(#g174)" stroke="url(#g174)"/>
<polygon points="365.6,214.2 378,199.3 390.5,206.1 378,220" fill="url(#g175)" stroke="url(#g175)"/>
<polygon points="353.1,229.1 365.6,214.2 378,220 365.6,233.9" fill="url(#g176)" stroke="url(#g176)"/>
<polygon points="340.7,244.1 353.1,229.1 365.6,233.9 353.1,247.7" fill="url(#g177)" stroke="url(#g177)"/>
<polygon points="378,220 390.5,206.1 402.9,213 390.5,225.8" fill="url(#g178)" stroke="url(#g178)"/>
<polygon points="365.6,233.9 378,220 390.5,225.8 378,238.6" fill="url(#g179)" stroke="url(#g179)"/>
<polygon points="353.1,247.7 365.6,233.9 378,238.6 365.6,251.4" fill="url(#g180)" stroke="url(#g180)"/>
<polygon points="322,246.9 328.2,240.4 340.7,244.1 334.5,250.6" fill="url(#g181)" stroke="url(#g181)"/>
<polygon points="315.8,253.5 322,246.9 334.5,250.6 328.2,257.1" fill="url(#g182)" stroke="url(#g182)"/>
<polygon points="309.6,260 315.8,253.5 328.2,257.1 322,263.7" fill="url(#g183)" stroke="url(#g183)"/>
<polygon points="334.5,250.6 340.7,244.1 353.1,247.7 346.9,254.3" fill="url(#g184)" stroke="url(#g184)"/>
<polygon points="328.2,257.1 334.5,250.6 346.9,254.3 340.7,260.8" fill="url(#g185)" stroke="url(#g185)"/>
<polygon points="322,263.7 328.2,257.1 340.7,260.8 334.5,267.3" fill="url(#g186)" stroke="url(#g186)"/>
<polygon points="346.9,254.3 353.1,247.7 365.6,251.4 359.4,257.9" fill="url(#g187)" stroke="url(#g187)"/>
<polygon points="340.7,260.8 346.9,254.3 359.4,257.9 353.1,264.5" fill="url(#g188)" stroke="url(#g188)"/>
<polygon points="334.5,267.3 340.7,260.8 353.1,264.5 346.9,271" fill="url(#g189)" stroke="url(#g189)"/>
<polygon points="452.8,170.1 477.7,148.6 483.9,159.4 459,180.4" fill="url(#g190)" stroke="url(#g190)"/>
<polygon points="427.8,191.5 452.8,170.1 459,180.4 434.1,201.4" fill="url(#g191)" stroke="url(#g191)"/>
<polygon points="402.9,213 427.8,191.5 434.1,201.4 409.2,222.3" fill="url(#g192)" stroke="url(#g192)"/>
<polygon points="459,180.4 483.9,159.4 490.1,170.2 465.2,190.7" fill="url(#g193)" stroke="url(#g193)"/>
<polygon points="434.1,201.4 459,180.4 465.2,190.7 440.3,211.2" fill="url(#g194)" stroke="url(#g194)"/>
<polygon points="409.2,222.3 434.1,201.4 440.3,211.2 415.4,231.7" fill="url(#g195)" stroke="url(#g195)"/>
<polygon points="465.2,190.7 490.1,170.2 496.3,181 471.4,201" fill="url(#g196)" stroke="url(#g196)"/>
<polygon points="440.3,211.2 465.2,190.7 471.4,201 446.5,221" fill="url(#g197)" stroke="url(#g197)"/>
<polygon points="415.4,231.7 440.3,211.2 446.5,221 421.6,241" fill="url(#g198)" stroke="url(#g198)"/>
<polygon points="390.5,225.8 402.9,213 409.2,222.3 396.7,234" fill="url(#g199)" stroke="url(#g199)"/>
<polygon points="378,238.6 390.5,225.8 396.7,234 384.3,245.6" fill="url(#g200)" stroke="url(#g200)"/>
<polygon points="365.6,251.4 378,238.6 384.3,245.6 371.8,257.3" fill="url(#g201)" stroke="url(#g201)"/>
<polygon points="396.7,234 409.2,222.3 415.4,231.7 402.9,242.2" fill="url(#g202)" stroke="url(#g202)"/>
<polygon points="384.3,245.6 396.7,234 402.9,242.2 390.5,252.6" fill="url(#g203)" stroke="url(#g203)"/>
<polygon points="371.8,257.3 384.3,245.6 390.5,252.6 378,263.1" fill="url(#g204)" stroke="url(#g204)"/>
<polygon points="402.9,242.2 415.4,231.7 421.6,241 409.2,250.3" fill="url(#g205)" stroke="url(#g205)"/>
<polygon points="390.5,252.6 402.9,242.2 409.2,250.3 396.7,259.7" fill="url(#g206)" stroke="url(#g206)"/>
<polygon points="378,263.1 390.5,252.6 396.7,259.7 384.3,269" fill="url(#g207)" stroke="url(#g207)"/>
<polygon points="359.4,257.9 365.6,251.4 371.8,257.3 365.6,263.1" fill="url(#g208)" stroke="url(#g208)"/>
<polygon points="353.1,264.5 359.4,257.9 365.6,263.1 359.4,268.9" fill="url(#g209)" stroke="url(#g209)"/>
<polygon points="346.9,271 353.1,264.5 359.4,268.9 353.1,274.7" fill="url(#g210)" stroke="url(#g210)"/>
<polygon points="365.6,263.1 371.8,257.3 378,263.1 371.8,268.2" fill="url(#g211)" stroke="url(#g211)"/>
<polygon points="359.4,268.9 365.6,263.1 371.8,268.2 365.6,273.3" fill="url(#g212)" stroke="url(#g212)"/>
<polygon points="353.1,274.7 359.4,268.9 365.6,273.3 359.4,278.3" fill="url(#g213)" stroke="url(#g213)"/>
<polygon points="371.8,268.2 378,263.1 384.3,269 378,273.3" fill="url(#g214)" stroke="url(#g214)"/>
<polygon points="365.6,273.3 371.8,268.2 378,273.3 371.8,277.7" fill="url(#g215)" stroke="url(#g215)"/>
<polygon points="359.4,278.3 365.6,273.3 371.8,277.7 365.6,282" fill="url(#g216)" stroke="url(#g216)"/>
<path d="M85.5 200L104.2 179M104.2 179L141.5 130.6M141.5 130.6L216.2 69.4M384.3 269L365.6 282" class="m n"/>
<path d="M253.6 218.4L104.2 179M234.9 240L253.6 218.4M234.9 240L85.5 200M290.9 168.4L141.5 130.6M253.6 218.4L290.9 168.4M216.2 69.4L365.6 106.6M290.9 168.4L365.6 106.6M328.2 240.4L253.6 218.4M309.6 260L328.2 240.4M309.6 260L234.9 240M365.6 192.4L290.9 168.4M328.2 240.4L365.6 192.4M365.6 106.6L440.3 132M365.6 192.4L440.3 132M365.6 251.4L328.2 240.4M346.9 271L365.6 251.4M346.9 271L309.6 260M402.9 213L365.6 192.4M365.6 251.4L402.9 213M440.3 132L477.7 148.6M402.9 213L477.7 148.6M384.3 269L365.6 251.4M365.6 282L346.9 271M421.6 241L402.9 213M477.7 148.6L496.3 181" class="m"/>
</g>
<rect x="528.5" y="89.5" width="12.0" height="180.0" fill="url(#cbar)"/>
<text x="555.8" y="273.9">0</text>
<text x="555.8" y="257.5">2</text>
<text x="555.8" y="241.2">4</text>
<text x="555.8" y="224.8">6</text>
<text x="555.8" y="208.4">8</text>
<text x="555.8" y="192.1">10</text>
<text x="555.8" y="175.7">12</text>
<text x="555.8" y="159.4">14</text>
<text x="555.8" y="143">16</text>
<text x="555.8" y="126.6">18</text>
<text x="555.8" y="110.3">20</text>
<text x="555.8" y="93.9">22</text>
<path d="M528.5 253.1h4M540.5 253.1h-4M528.5 236.8h4M540.5 236.8h-4M528.5 220.4h4M540.5 220.4h-4M528.5 204h4M540.5 204h-4M528.5 187.7h4M540.5 187.7h-4M528.5 171.3h4M540.5 171.3h-4M528.5 155h4M540.5 155h-4M528.5 138.6h4M540.5 138.6h-4M528.5 122.2h4M540.5 122.2h-4M528.5 105.9h4M540.5 105.9h-4" class="b"/>
<rect x="528.5" y="89.5" width="12.0" height="180.0" class="b"/>
<text x="200.5" y="376" text-anchor="middle">IO Depth</text>
<text x="521.5" y="403" text-anchor="middle">Volumes</text>
<text x="521.5" y="421.5" text-anchor="middle">(On 1 Host)</text>
</svg>
<svg x="0" y="450" width="600" height="450" viewBox="0 0 600 450">
<text x="298.8" y="26.5" text-anchor="middle" class="t">Bobtail QEMU/KVM 4K FIO Write Throughput (EXT4 OSDs)</text>
<text transform="translate(11.6,150) rotate(-90)" text-anchor="middle">Throughput (MB/s)</text>
<path d="M384.2 363.2L85.5 285.5L216.2 251.8L515 329.5Z" class="b"/>
<path d="M384.2 363.2L515 329.5M346.9 353.5L477.7 319.8M309.6 343.8L440.3 310.1M272.2 334.1L403 300.3M234.9 324.4L365.6 290.6M197.5 314.7L328.3 280.9M160.2 304.9L290.9 271.2M122.8 295.2L253.6 261.5M85.5 285.5L216.2 251.8M384.2 363.2L85.5 285.5M402.9 358.4L104.2 280.7M421.6 353.6L122.9 275.9M440.3 348.8L141.5 271M459 344L160.2 266.2M477.6 339.1L178.9 261.4M496.3 334.3L197.6 256.6M515 329.5L216.2 251.8M90 216.3L216.2 183.6L515 261.3M90 197L216.2 164.3L515 242M90 177.8L216.2 145L515 222.8M90 158.5L216.2 125.7L515 203.5M90 139.2L216.2 106.5L515 184.2M90 119.9L216.2 87.2L515 164.9M90 100.7L216.2 67.9L515 145.7M90 81.4L216.2 48.6L515 126.4" class="g"/>
<text x="73.5" y="221.9" text-anchor="end">0</text>
<text x="73.5" y="202.6" text-anchor="end">50</text>
<text x="73.5" y="183.4" text-anchor="end">100</text>
<text x="73.5" y="164.1" text-anchor="end">150</text>
<text x="73.5" y="144.8" text-anchor="end">200</text>
<text x="73.5" y="125.5" text-anchor="end">250</text>
<text x="73.5" y="106.3" text-anchor="end">300</text>
<text x="73.5" y="87" text-anchor="end">350</text>
<text x="377.9" y="381.6" text-anchor="middle">0</text>
<text x="340.5" y="371.8" text-anchor="middle">2</text>
<text x="303.2" y="362.1" text-anchor="middle">4</text>
<text x="265.8" y="352.4" text-anchor="middle">6</text>
<text x="228.5" y="342.7" text-anchor="middle">8</text>
<text x="191.1" y="333" text-anchor="middle">10</text>
<text x="153.8" y="323.2" text-anchor="middle">12</text>
<text x="116.4" y="313.5" text-anchor="middle">14</text>
<text x="79.1" y="303.8" text-anchor="middle">16</text>
<text x="409.6" y="379.6" text-anchor="middle">1</text>
<text x="428.2" y="374.7" text-anchor="middle">2</text>
<text x="446.9" y="369.9" text-anchor="middle">3</text>
<text x="465.6" y="365.1" text-anchor="middle">4</text>
<text x="484.3" y="360.3" text-anchor="middle">5</text>
<text x="502.9" y="355.4" text-anchor="middle">6</text>
<text x="521.6" y="350.6" text-anchor="middle">7</text>
<text x="540.3" y="345.8" text-anchor="middle">8</text>
<path d="M85.5 285.5V82.4M85.5 217.3h4.5M85.5 198h4.5M85.5 178.8h4.5M85.5 159.5h4.5M85.5 140.2h4.5M85.5 120.9h4.5M85.5 101.7h4.5M85.5 82.4h4.5M384.2 363.2l4.6 -1.2M515 329.5l-4.6 1.2M346.9 353.5l4.6 -1.2M477.7 319.8l-4.6 1.2M309.6 343.8l4.6 -1.2M440.3 310.1l-4.6 1.2M272.2 334.1l4.6 -1.2M403 300.3l-4.6 1.2M234.9 324.4l4.6 -1.2M365.6 290.6l-4.6 1.2M197.5 314.7l4.6 -1.2M328.3 280.9l-4.6 1.2M160.2 304.9l4.6 -1.2M290.9 271.2l-4.6 1.2M122.8 295.2l4.6 -1.2M253.6 261.5l-4.6 1.2M85.5 285.5l4.6 -1.2M216.2 251.8l-4.6 1.2M384.2 363.2l-4.9 -1.3M85.5 285.5l4.9 1.3M402.9 358.4l-4.9 -1.3M104.2 280.7l4.9 1.3M421.6 353.6l-4.9 -1.3M122.9 275.9l4.9 1.3M440.3 348.8l-4.9 -1.3M141.5 271l4.9 1.3M459 344l-4.9 -1.3M160.2 266.2l4.9 1.3M477.6 339.1l-4.9 -1.3M178.9 261.4l4.9 1.3M496.3 334.3l-4.9 -1.3M197.6 256.6l4.9 1.3M515 329.5l-4.9 -1.3M216.2 251.8l4.9 1.3" class="b"/>
<g class="s">
<polygon points="191.3,117.8 216.2,111 266,103.5 241.1,114.2" fill="url(#g217)" stroke="url(#g217)"/>
<polygon points="166.4,124.6 191.3,117.8 241.1,114.2 216.2,124.8" fill="url(#g218)" stroke="url(#g218)"/>
<polygon points="141.5,131.4 166.4,124.6 216.2,124.8 191.3,135.5" fill="url(#g219)" stroke="url(#g219)"/>
<polygon points="241.1,114.2 266,103.5 315.8,96.1 290.9,110.6" fill="url(#g220)" stroke="url(#g220)"/>
<polygon points="216.2,124.8 241.1,114.2 290.9,110.6 266,125" fill="url(#g221)" stroke="url(#g221)"/>
<polygon points="191.3,135.5 216.2,124.8 266,125 241.1,139.5" fill="url(#g222)" stroke="url(#g222)"/>
<polygon points="290.9,110.6 315.8,96.1 365.6,88.6 340.7,106.9" fill="url(#g223)" stroke="url(#g223)"/>
<polygon points="266,125 290.9,110.6 340.7,106.9 315.8,125.3" fill="url(#g224)" stroke="url(#g224)"/>
<polygon points="241.1,139.5 266,125 315.8,125.3 290.9,143.6" fill="url(#g225)" stroke="url(#g225)"/>
<polygon points="129.1,141.6 141.5,131.4 191.3,135.5 178.9,148.9" fill="url(#g226)" stroke="url(#g226)"/>
<polygon points="116.6,151.8 129.1,141.6 178.9,148.9 166.4,162.4" fill="url(#g227)" stroke="url(#g227)"/>
<polygon points="104.2,162 116.6,151.8 166.4,162.4 154,175.9" fill="url(#g228)" stroke="url(#g228)"/>
<polygon points="178.9,148.9 191.3,135.5 241.1,139.5 228.7,156.3" fill="url(#g229)" stroke="url(#g229)"/>
<polygon points="166.4,162.4 178.9,148.9 228.7,156.3 216.2,173" fill="url(#g230)" stroke="url(#g230)"/>
<polygon points="154,175.9 166.4,162.4 216.2,173 203.8,189.7" fill="url(#g231)" stroke="url(#g231)"/>
<polygon points="228.7,156.3 241.1,139.5 290.9,143.6 278.5,163.6" fill="url(#g232)" stroke="url(#g232)"/>
<polygon points="216.2,173 228.7,156.3 278.5,163.6 266,183.6" fill="url(#g233)" stroke="url(#g233)"/>
<polygon points="203.8,189.7 216.2,173 266,183.6 253.6,203.6" fill="url(#g234)" stroke="url(#g234)"/>
<polygon points="98,170 104.2,162 154,175.9 147.7,183.7" fill="url(#g235)" stroke="url(#g235)"/>
<polygon points="91.7,178 98,170 147.7,183.7 141.5,191.5" fill="url(#g236)" stroke="url(#g236)"/>
<polygon points="85.5,186 91.7,178 141.5,191.5 135.3,199.3" fill="url(#g237)" stroke="url(#g237)"/>
<polygon points="147.7,183.7 154,175.9 203.8,189.7 197.5,197.4" fill="url(#g238)" stroke="url(#g238)"/>
<polygon points="141.5,191.5 147.7,183.7 197.5,197.4 191.3,205" fill="url(#g239)" stroke="url(#g239)"/>
<polygon points="135.3,199.3 141.5,191.5 191.3,205 185.1,212.7" fill="url(#g240)" stroke="url(#g240)"/>
<polygon points="197.5,197.4 203.8,189.7 253.6,203.6 247.3,211.1" fill="url(#g241)" stroke="url(#g241)"/>
<polygon points="191.3,205 197.5,197.4 247.3,211.1 241.1,218.5" fill="url(#g242)" stroke="url(#g242)"/>
<polygon points="185.1,212.7 191.3,205 241.1,218.5 234.9,226" fill="url(#g243)" stroke="url(#g243)"/>
<polygon points="340.7,106.9 365.6,88.6 390.5,104.7 365.6,125.1" fill="url(#g244)" stroke="url(#g244)"/>
<polygon points="315.8,125.3 340.7,106.9 365.6,125.1 340.7,145.4" fill="url(#g245)" stroke="url(#g245)"/>
<polygon points="290.9,143.6 315.8,125.3 340.7,145.4 315.8,165.7" fill="url(#g246)" stroke="url(#g246)"/>
<polygon points="365.6,125.1 390.5,104.7 415.4,120.9 390.5,143.2" fill="url(#g247)" stroke="url(#g247)"/>
<polygon points="340.7,145.4 365.6,125.1 390.5,143.2 365.6,165.5" fill="url(#g248)" stroke="url(#g248)"/>
<polygon points="315.8,165.7 340.7,145.4 365.6,165.5 340.7,187.9" fill="url(#g249)" stroke="url(#g249)"/>
<polygon points="390.5,143.2 415.4,120.9 440.3,137 415.4,161.3" fill="url(#g250)" stroke="url(#g250)"/>
<polygon points="365.6,165.5 390.5,143.2 415.4,161.3 390.5,185.7" fill="url(#g251)" stroke="url(#g251)"/>
<polygon points="340.7,187.9 365.6,165.5 390.5,185.7 365.6,210" fill="url(#g252)" stroke="url(#g252)"/>
<polygon points="278.5,163.6 290.9,143.6 315.8,165.7 303.4,182.2" fill="url(#g253)" stroke="url(#g253)"/>
<polygon points="266,183.6 278.5,163.6 303.4,182.2 290.9,198.8" fill="url(#g254)" stroke="url(#g254)"/>
<polygon points="253.6,203.6 266,183.6 290.9,198.8 278.4,215.3" fill="url(#g255)" stroke="url(#g255)"/>
<polygon points="303.4,182.2 315.8,165.7 340.7,187.9 328.2,200.9" fill="url(#g256)" stroke="url(#g256)"/>
<polygon points="290.9,198.8 303.4,182.2 328.2,200.9 315.8,213.9" fill="url(#g257)" stroke="url(#g257)"/>
<polygon points="278.4,215.3 290.9,198.8 315.8,213.9 303.3,226.9" fill="url(#g258)" stroke="url(#g258)"/>
<polygon points="328.2,200.9 340.7,187.9 365.6,210 353.1,219.5" fill="url(#g259)" stroke="url(#g259)"/>
<polygon points="315.8,213.9 328.2,200.9 353.1,219.5 340.7,229.1" fill="url(#g260)" stroke="url(#g260)"/>
<polygon points="303.3,226.9 315.8,213.9 340.7,229.1 328.2,238.6" fill="url(#g261)" stroke="url(#g261)"/>
<polygon points="247.3,211.1 253.6,203.6 278.4,215.3 272.2,221.8" fill="url(#g262)" stroke="url(#g262)"/>
<polygon points="241.1,218.5 247.3,211.1 272.2,221.8 266,228.4" fill="url(#g263)" stroke="url(#g263)"/>
<polygon points="234.9,226 241.1,218.5 266,228.4 259.8,235" fill="url(#g264)" stroke="url(#g264)"/>
<polygon points="272.2,221.8 278.4,215.3 303.3,226.9 297.1,232.6" fill="url(#g265)" stroke="url(#g265)"/>
<polygon points="266,228.4 272.2,221.8 297.1,232.6 290.9,238.3" fill="url(#g266)" stroke="url(#g266)"/>
<polygon points="259.8,235 266,228.4 290.9,238.3 284.7,244" fill="url(#g267)" stroke="url(#g267)"/>
<polygon points="297.1,232.6 303.3,226.9 328.2,238.6 322,243.4" fill="url(#g268)" stroke="url(#g268)"/>
<polygon points="290.9,238.3 297.1,232.6 322,243.4 315.8,248.2" fill="url(#g269)" stroke="url(#g269)"/>
<polygon points="284.7,244 290.9,238.3 315.8,248.2 309.6,253" fill="url(#g270)" stroke="url(#g270)"/>
<polygon points="415.4,161.3 440.3,137 452.8,149.5 427.9,171" fill="url(#g271)" stroke="url(#g271)"/>
<polygon points="390.5,185.7 415.4,161.3 427.9,171 403,192.6" fill="url(#g272)" stroke="url(#g272)"/>
<polygon points="365.6,210 390.5,185.7 403,192.6 378,214.1" fill="url(#g273)" stroke="url(#g273)"/>
<polygon points="427.9,171 452.8,149.5 465.2,161.9 440.3,180.7" fill="url(#g274)" stroke="url(#g274)"/>
<polygon points="403,192.6 427.9,171 440.3,180.7 415.4,199.5" fill="url(#g275)" stroke="url(#g275)"/>
<polygon points="378,214.1 403,192.6 415.4,199.5 390.5,218.3" fill="url(#g276)" stroke="url(#g276)"/>
<polygon points="440.3,180.7 465.2,161.9 477.7,174.4 452.8,190.4" fill="url(#g277)" stroke="url(#g277)"/>
<polygon points="415.4,199.5 440.3,180.7 452.8,190.4 427.8,206.4" fill="url(#g278)" stroke="url(#g278)"/>
<polygon points="390.5,218.3 415.4,199.5 427.8,206.4 402.9,222.4" fill="url(#g279)" stroke="url(#g279)"/>
<polygon points="353.1,219.5 365.6,210 378,214.1 365.6,224.5" fill="url(#g280)" stroke="url(#g280)"/>
<polygon points="340.7,229.1 353.1,219.5 365.6,224.5 353.1,234.9" fill="url(#g281)" stroke="url(#g281)"/>
<polygon points="328.2,238.6 340.7,229.1 353.1,234.9 340.7,245.3" fill="url(#g282)" stroke="url(#g282)"/>
<polygon points="365.6,224.5 378,214.1 390.5,218.3 378,229.5" fill="url(#g283)" stroke="url(#g283)"/>
<polygon points="353.1,234.9 365.6,224.5 378,229.5 365.6,240.7" fill="url(#g284)" stroke="url(#g284)"/>
<polygon points="340.7,245.3 353.1,234.9 365.6,240.7 353.1,251.9" fill="url(#g285)" stroke="url(#g285)"/>
<polygon points="378,229.5 390.5,218.3 402.9,222.4 390.5,234.5" fill="url(#g286)" stroke="url(#g286)"/>
<polygon points="365.6,240.7 378,229.5 390.5,234.5 378,246.5" fill="url(#g287)" stroke="url(#g287)"/>
<polygon points="353.1,251.9 365.6,240.7 378,246.5 365.6,258.6" fill="url(#g288)" stroke="url(#g288)"/>
<polygon points="322,243.4 328.2,238.6 340.7,245.3 334.5,249.6" fill="url(#g289)" stroke="url(#g289)"/>
<polygon points="315.8,248.2 322,243.4 334.5,249.6 328.2,254" fill="url(#g290)" stroke="url(#g290)"/>
<polygon points="309.6,253 315.8,248.2 328.2,254 322,258.3" fill="url(#g291)" stroke="url(#g291)"/>
<polygon points="334.5,249.6 340.7,245.3 353.1,251.9 346.9,255.8" fill="url(#g292)" stroke="url(#g292)"/>
<polygon points="328.2,254 334.5,249.6 346.9,255.8 340.7,259.8" fill="url(#g293)" stroke="url(#g293)"/>
<polygon points="322,258.3 328.2,254 340.7,259.8 334.5,263.7" fill="url(#g294)" stroke="url(#g294)"/>
<polygon points="346.9,255.8 353.1,251.9 365.6,258.6 359.4,262.1" fill="url(#g295)" stroke="url(#g295)"/>
<polygon points="340.7,259.8 346.9,255.8 359.4,262.1 353.1,265.5" fill="url(#g296)" stroke="url(#g296)"/>
<polygon points="334.5,263.7 340.7,259.8 353.1,265.5 346.9,269" fill="url(#g297)" stroke="url(#g297)"/>
<polygon points="452.8,190.4 477.7,174.4 483.9,184.3 459,200.7" fill="url(#g298)" stroke="url(#g298)"/>
<polygon points="427.8,206.4 452.8,190.4 459,200.7 434.1,217.2" fill="url(#g299)" stroke="url(#g299)"/>
<polygon points="402.9,222.4 427.8,206.4 434.1,217.2 409.2,233.6" fill="url(#g300)" stroke="url(#g300)"/>
<polygon points="459,200.7 483.9,184.3 490.1,194.1 465.2,211" fill="url(#g301)" stroke="url(#g301)"/>
<polygon points="434.1,217.2 459,200.7 465.2,211 440.3,227.9" fill="url(#g302)" stroke="url(#g302)"/>
<polygon points="409.2,233.6 434.1,217.2 440.3,227.9 415.4,244.8" fill="url(#g303)" stroke="url(#g303)"/>
<polygon points="465.2,211 490.1,194.1 496.3,204 471.4,221.3" fill="url(#g304)" stroke="url(#g304)"/>
<polygon points="440.3,227.9 465.2,211 471.4,221.3 446.5,238.7" fill="url(#g305)" stroke="url(#g305)"/>
<polygon points="415.4,244.8 440.3,227.9 446.5,238.7 421.6,256" fill="url(#g306)" stroke="url(#g306)"/>
<polygon points="390.5,234.5 402.9,222.4 409.2,233.6 396.7,243.2" fill="url(#g307)" stroke="url(#g307)"/>
<polygon points="378,246.5 390.5,234.5 396.7,243.2 384.3,252.8" fill="url(#g308)" stroke="url(#g308)"/>
<polygon points="365.6,258.6 378,246.5 384.3,252.8 371.8,262.4" fill="url(#g309)" stroke="url(#g309)"/>
<polygon points="396.7,243.2 409.2,233.6 415.4,244.8 402.9,251.9" fill="url(#g310)" stroke="url(#g310)"/>
<polygon points="384.3,252.8 396.7,243.2 402.9,251.9 390.5,259.1" fill="url(#g311)" stroke="url(#g311)"/>
<polygon points="371.8,262.4 384.3,252.8 390.5,259.1 378,266.2" fill="url(#g312)" stroke="url(#g312)"/>
<polygon points="402.9,251.9 415.4,244.8 421.6,256 409.2,260.7" fill="url(#g313)" stroke="url(#g313)"/>
<polygon points="390.5,259.1 402.9,251.9 409.2,260.7 396.7,265.3" fill="url(#g314)" stroke="url(#g314)"/>
<polygon points="378,266.2 390.5,259.1 396.7,265.3 384.3,270" fill="url(#g315)" stroke="url(#g315)"/>
<polygon points="359.4,262.1 365.6,258.6 371.8,262.4 365.6,265.9" fill="url(#g316)" stroke="url(#g316)"/>
<polygon points="353.1,265.5 359.4,262.1 365.6,265.9 359.4,269.5" fill="url(#g317)" stroke="url(#g317)"/>
<polygon points="346.9,269 353.1,265.5 359.4,269.5 353.1,273" fill="url(#g318)" stroke="url(#g318)"/>
<polygon points="365.6,265.9 371.8,262.4 378,266.2 371.8,269.8" fill="url(#g319)" stroke="url(#g319)"/>
<polygon points="359.4,269.5 365.6,265.9 371.8,269.8 365.6,273.4" fill="url(#g320)" stroke="url(#g320)"/>
<polygon points="353.1,273 359.4,269.5 365.6,273.4 359.4,277" fill="url(#g321)" stroke="url(#g321)"/>
<polygon points="371.8,269.8 378,266.2 384.3,270 378,273.7" fill="url(#g322)" stroke="url(#g322)"/>
<polygon points="365.6,273.4 371.8,269.8 378,273.7 371.8,277.3" fill="url(#g323)" stroke="url(#g323)"/>
<polygon points="359.4,277 365.6,273.4 371.8,277.3 365.6,281" fill="url(#g324)" stroke="url(#g324)"/>
<path d="M85.5 186L104.2 162M104.2 162L141.5 131.4M141.5 131.4L216.2 111M384.3 270L365.6 281" class="m n"/>
<path d="M253.6 203.6L104.2 162M234.9 226L253.6 203.6M234.9 226L85.5 186M290.9 143.6L141.5 131.4M253.6 203.6L290.9 143.6M216.2 111L365.6 88.6M290.9 143.6L365.6 88.6M328.2 238.6L253.6 203.6M309.6 253L328.2 238.6M309.6 253L234.9 226M365.6 210L290.9 143.6M328.2 238.6L365.6 210M365.6 88.6L440.3 137M365.6 210L440.3 137M365.6 258.6L328.2 238.6M346.9 269L365.6 258.6M346.9 269L309.6 253M402.9 222.4L365.6 210M365.6 258.6L402.9 222.4M440.3 137L477.7 174.4M402.9 222.4L477.7 174.4M384.3 270L365.6 258.6M365.6 281L346.9 269M421.6 256L402.9 222.4M477.7 174.4L496.3 204" class="m"/>
</g>
<rect x="528.5" y="89.5" width="12.0" height="180.0" fill="url(#cbar)"/>
<text x="555.8" y="273.9">0</text>
<text x="555.8" y="248.2">50</text>
<text x="555.8" y="222.5">100</text>
<text x="555.8" y="196.8">150</text>
<text x="555.8" y="171">200</text>
<text x="555.8" y="145.3">250</text>
<text x="555.8" y="119.6">300</text>
<text x="555.8" y="93.9">350</text>
<path d="M528.5 243.8h4M540.5 243.8h-4M528.5 218.1h4M540.5 218.1h-4M528.5 192.4h4M540.5 192.4h-4M528.5 166.6h4M540.5 166.6h-4M528.5 140.9h4M540.5 140.9h-4M528.5 115.2h4M540.5 115.2h-4" class="b"/>
<rect x="528.5" y="89.5" width="12.0" height="180.0" class="b"/>
<text x="200.5" y="376" text-anchor="middle">IO Depth</text>
<text x="521.5" y="403" text-anchor="middle">Volumes</text>
<text x="521.5" y="421.5" text-anchor="middle">(On 1 Guest)</text>
</svg>
<svg x="600" y="450" width="600" height="450" viewBox="0 0 600 450">
<text x="298.8" y="26.5" text-anchor="middle" class="t">Cuttlefish QEMU/KVM 4K FIO Write Throughput (EXT4 OSDs)</text>
<text transform="translate(11.6,150) rotate(-90)" text-anchor="middle">Throughput (MB/s)</text>
<path d="M384.2 363.2L85.5 285.5L216.2 251.8L515 329.5Z" class="b"/>
<path d="M384.2 363.2L515 329.5M346.9 353.5L477.7 319.8M309.6 343.8L440.3 310.1M272.2 334.1L403 300.3M234.9 324.4L365.6 290.6M197.5 314.7L328.3 280.9M160.2 304.9L290.9 271.2M122.8 295.2L253.6 261.5M85.5 285.5L216.2 251.8M384.2 363.2L85.5 285.5M402.9 358.4L104.2 280.7M421.6 353.6L122.9 275.9M440.3 348.8L141.5 271M459 344L160.2 266.2M477.6 339.1L178.9 261.4M496.3 334.3L197.6 256.6M515 329.5L216.2 251.8M90 216.3L216.2 183.6L515 261.3M90 202.8L216.2 170.1L515 247.8M90 189.3L216.2 156.6L515 234.3M90 175.8L216.2 143.1L515 220.8M90 162.3L216.2 129.6L515 207.3M90 148.8L216.2 116.1L515 193.8M90 135.4L216.2 102.6L515 180.4M90 121.9L216.2 89.1L515 166.9M90 108.4L216.2 75.6L515 153.4M90 94.9L216.2 62.1L515 139.9M90 81.4L216.2 48.6L515 126.4" class="g"/>
<text x="73.5" y="221.9" text-anchor="end">0</text>
<text x="73.5" y="208.4" text-anchor="end">50</text>
<text x="73.5" y="194.9" text-anchor="end">100</text>
<text x="73.5" y="181.4" text-anchor="end">150</text>
<text x="73.5" y="167.9" text-anchor="end">200</text>
<text x="73.5" y="154.5" text-anchor="end">250</text>
<text x="73.5" y="141" text-anchor="end">300</text>
<text x="73.5" y="127.5" text-anchor="end">350</text>
<text x="73.5" y="114" text-anchor="end">400</text>
<text x="73.5" y="100.5" text-anchor="end">450</text>
<text x="73.5" y="87" text-anchor="end">500</text>
<text x="377.9" y="381.6" text-anchor="middle">0</text>
<text x="340.5" y="371.8" text-anchor="middle">2</text>
<text x="303.2" y="362.1" text-anchor="middle">4</text>
<text x="265.8" y="352.4" text-anchor="middle">6</text>
<text x="228.5" y="342.7" text-anchor="middle">8</text>
<text x="191.1" y="333" text-anchor="middle">10</text>
<text x="153.8" y="323.2" text-anchor="middle">12</text>
<text x="116.4" y="313.5" text-anchor="middle">14</text>
<text x="79.1" y="303.8" text-anchor="middle">16</text>
<text x="409.6" y="379.6" text-anchor="middle">1</text>
<text x="428.2" y="374.7" text-anchor="middle">2</text>
<text x="446.9" y="369.9" text-anchor="middle">3</text>
<text x="465.6" y="365.1" text-anchor="middle">4</text>
<text x="484.3" y="360.3" text-anchor="middle">5</text>
<text x="502.9" y="355.4" text-anchor="middle">6</text>
<text x="521.6" y="350.6" text-anchor="middle">7</text>
<text x="540.3" y="345.8" text-anchor="middle">8</text>
<path d="M85.5 285.5V82.4M85.5 217.3h4.5M85.5 203.8h4.5M85.5 190.3h4.5M85.5 176.8h4.5M85.5 163.3h4.5M85.5 149.9h4.5M85.5 136.4h4.5M85.5 122.9h4.5M85.5 109.4h4.5M85.5 95.9h4.5M85.5 82.4h4.5M384.2 363.2l4.6 -1.2M515 329.5l-4.6 1.2M346.9 353.5l4.6 -1.2M477.7 319.8l-4.6 1.2M309.6 343.8l4.6 -1.2M440.3 310.1l-4.6 1.2M272.2 334.1l4.6 -1.2M403 300.3l-4.6 1.2M234.9 324.4l4.6 -1.2M365.6 290.6l-4.6 1.2M197.5 314.7l4.6 -1.2M328.3 280.9l-4.6 1.2M160.2 304.9l4.6 -1.2M290.9 271.2l-4.6 1.2M122.8 295.2l4.6 -1.2M253.6 261.5l-4.6 1.2M85.5 285.5l4.6 -1.2M216.2 251.8l-4.6 1.2M384.2 363.2l-4.9 -1.3M85.5 285.5l4.9 1.3M402.9 358.4l-4.9 -1.3M104.2 280.7l4.9 1.3M421.6 353.6l-4.9 -1.3M122.9 275.9l4.9 1.3M440.3 348.8l-4.9 -1.3M141.5 271l4.9 1.3M459 344l-4.9 -1.3M160.2 266.2l4.9 1.3M477.6 339.1l-4.9 -1.3M178.9 261.4l4.9 1.3M496.3 334.3l-4.9 -1.3M197.6 256.6l4.9 1.3M515 329.5l-4.9 -1.3M216.2 251.8l4.9 1.3" class="b"/>
<g class="s">
<polygon points="141.5,68.3 216.2,129 365.6,108.2" fill="#fff" stroke="none"/>
<polygon points="141.5,68.3 365.6,108.2 290.9,133" fill="#fff" stroke="none"/>
<polygon points="208.8,122.9 216.2,129 231.2,126.9 223.7,121.7" fill="url(#g325)" stroke="url(#g325)"/>
<polygon points="201.3,116.9 208.8,122.9 223.7,121.7 216.2,116.5" fill="url(#g326)" stroke="url(#g326)"/>
<polygon points="193.8,110.8 201.3,116.9 216.2,116.5 208.8,111.3" fill="url(#g327)" stroke="url(#g327)"/>
<polygon points="186.4,104.7 193.8,110.8 208.8,111.3 201.3,106.1" fill="url(#g328)" stroke="url(#g328)"/>
<polygon points="178.9,98.7 186.4,104.7 201.3,106.1 193.8,100.8" fill="url(#g329)" stroke="url(#g329)"/>
<polygon points="171.4,92.6 178.9,98.7 193.8,100.8 186.4,95.6" fill="url(#g330)" stroke="url(#g330)"/>
<polygon points="163.9,86.5 171.4,92.6 186.4,95.6 178.9,90.4" fill="url(#g331)" stroke="url(#g331)"/>
<polygon points="156.5,80.4 163.9,86.5 178.9,90.4 171.4,85.2" fill="url(#g332)" stroke="url(#g332)"/>
<polygon points="149,74.4 156.5,80.4 171.4,85.2 163.9,80" fill="url(#g333)" stroke="url(#g333)"/>
<polygon points="141.5,68.3 149,74.4 163.9,80 156.5,74.8" fill="url(#g334)" stroke="url(#g334)"/>
<polygon points="223.7,121.7 231.2,126.9 246.1,124.8 238.7,120.5" fill="url(#g335)" stroke="url(#g335)"/>
<polygon points="216.2,116.5 223.7,121.7 238.7,120.5 231.2,116.1" fill="url(#g336)" stroke="url(#g336)"/>
<polygon points="208.8,111.3 216.2,116.5 231.2,116.1 223.7,111.8" fill="url(#g337)" stroke="url(#g337)"/>
<polygon points="201.3,106.1 208.8,111.3 223.7,111.8 216.2,107.4" fill="url(#g338)" stroke="url(#g338)"/>
<polygon points="193.8,100.8 201.3,106.1 216.2,107.4 208.8,103" fill="url(#g339)" stroke="url(#g339)"/>
<polygon points="186.4,95.6 193.8,100.8 208.8,103 201.3,98.7" fill="url(#g340)" stroke="url(#g340)"/>
<polygon points="178.9,90.4 186.4,95.6 201.3,98.7 193.8,94.3" fill="url(#g341)" stroke="url(#g341)"/>
<polygon points="171.4,85.2 178.9,90.4 193.8,94.3 186.4,90" fill="url(#g342)" stroke="url(#g342)"/>
<polygon points="163.9,80 171.4,85.2 186.4,90 178.9,85.6" fill="url(#g343)" stroke="url(#g343)"/>
<polygon points="156.5,74.8 163.9,80 178.9,85.6 171.4,81.2" fill="url(#g344)" stroke="url(#g344)"/>
<polygon points="238.7,120.5 246.1,124.8 261.1,122.8 253.6,119.3" fill="url(#g345)" stroke="url(#g345)"/>
<polygon points="231.2,116.1 238.7,120.5 253.6,119.3 246.1,115.8" fill="url(#g346)" stroke="url(#g346)"/>
<polygon points="223.7,111.8 231.2,116.1 246.1,115.8 238.6,112.2" fill="url(#g347)" stroke="url(#g347)"/>
<polygon points="216.2,107.4 223.7,111.8 238.6,112.2 231.2,108.7" fill="url(#g348)" stroke="url(#g348)"/>
<polygon points="208.8,103 216.2,107.4 231.2,108.7 223.7,105.2" fill="url(#g349)" stroke="url(#g349)"/>
<polygon points="201.3,98.7 208.8,103 223.7,105.2 216.2,101.7" fill="url(#g350)" stroke="url(#g350)"/>
<polygon points="193.8,94.3 201.3,98.7 216.2,101.7 208.8,98.2" fill="url(#g351)" stroke="url(#g351)"/>
<polygon points="186.4,90 193.8,94.3 208.8,98.2 201.3,94.7" fill="url(#g352)" stroke="url(#g352)"/>
<polygon points="178.9,85.6 186.4,90 201.3,94.7 193.8,91.2" fill="url(#g353)" stroke="url(#g353)"/>
<polygon points="171.4,81.2 178.9,85.6 193.8,91.2 186.3,87.7" fill="url(#g354)" stroke="url(#g354)"/>
<polygon points="253.6,119.3 261.1,122.8 276,120.7 268.5,118" fill="url(#g355)" stroke="url(#g355)"/>
<polygon points="246.1,115.8 253.6,119.3 268.5,118 261.1,115.4" fill="url(#g356)" stroke="url(#g356)"/>
<polygon points="238.6,112.2 246.1,115.8 261.1,115.4 253.6,112.7" fill="url(#g357)" stroke="url(#g357)"/>
<polygon points="231.2,108.7 238.6,112.2 253.6,112.7 246.1,110.1" fill="url(#g358)" stroke="url(#g358)"/>
<polygon points="223.7,105.2 231.2,108.7 246.1,110.1 238.6,107.4" fill="url(#g359)" stroke="url(#g359)"/>
<polygon points="216.2,101.7 223.7,105.2 238.6,107.4 231.2,104.8" fill="url(#g360)" stroke="url(#g360)"/>
<polygon points="208.8,98.2 216.2,101.7 231.2,104.8 223.7,102.1" fill="url(#g361)" stroke="url(#g361)"/>
<polygon points="201.3,94.7 208.8,98.2 223.7,102.1 216.2,99.5" fill="url(#g362)" stroke="url(#g362)"/>
<polygon points="193.8,91.2 201.3,94.7 216.2,99.5 208.8,96.8" fill="url(#g363)" stroke="url(#g363)"/>
<polygon points="186.3,87.7 193.8,91.2 208.8,96.8 201.3,94.2" fill="url(#g364)" stroke="url(#g364)"/>
<polygon points="268.5,118 276,120.7 290.9,118.6 283.5,116.8" fill="url(#g365)" stroke="url(#g365)"/>
<polygon points="261.1,115.4 268.5,118 283.5,116.8 276,115" fill="url(#g366)" stroke="url(#g366)"/>
<polygon points="253.6,112.7 261.1,115.4 276,115 268.5,113.2" fill="url(#g367)" stroke="url(#g367)"/>
<polygon points="246.1,110.1 253.6,112.7 268.5,113.2 261.1,111.4" fill="url(#g368)" stroke="url(#g368)"/>
<polygon points="238.6,107.4 246.1,110.1 261.1,111.4 253.6,109.6" fill="url(#g369)" stroke="url(#g369)"/>
<polygon points="231.2,104.8 238.6,107.4 253.6,109.6 246.1,107.8" fill="url(#g370)" stroke="url(#g370)"/>
<polygon points="223.7,102.1 231.2,104.8 246.1,107.8 238.6,106" fill="url(#g371)" stroke="url(#g371)"/>
<polygon points="216.2,99.5 223.7,102.1 238.6,106 231.2,104.2" fill="url(#g372)" stroke="url(#g372)"/>
<polygon points="208.8,96.8 216.2,99.5 231.2,104.2 223.7,102.4" fill="url(#g373)" stroke="url(#g373)"/>
<polygon points="201.3,94.2 208.8,96.8 223.7,102.4 216.2,100.7" fill="url(#g374)" stroke="url(#g374)"/>
<polygon points="283.5,116.8 290.9,118.6 305.9,116.5 298.4,115.6" fill="url(#g375)" stroke="url(#g375)"/>
<polygon points="276,115 283.5,116.8 298.4,115.6 290.9,114.6" fill="url(#g376)" stroke="url(#g376)"/>
<polygon points="268.5,113.2 276,115 290.9,114.6 283.5,113.7" fill="url(#g377)" stroke="url(#g377)"/>
<polygon points="261.1,111.4 268.5,113.2 283.5,113.7 276,112.8" fill="url(#g378)" stroke="url(#g378)"/>
<polygon points="253.6,109.6 261.1,111.4 276,112.8 268.5,111.8" fill="url(#g379)" stroke="url(#g379)"/>
<polygon points="246.1,107.8 253.6,109.6 268.5,111.8 261,110.9" fill="url(#g380)" stroke="url(#g380)"/>
<polygon points="238.6,106 246.1,107.8 261,110.9 253.6,109.9" fill="url(#g381)" stroke="url(#g381)"/>
<polygon points="231.2,104.2 238.6,106 253.6,109.9 246.1,109" fill="url(#g382)" stroke="url(#g382)"/>
<polygon points="223.7,102.4 231.2,104.2 246.1,109 238.6,108.1" fill="url(#g383)" stroke="url(#g383)"/>
<polygon points="216.2,100.7 223.7,102.4 238.6,108.1 231.2,107.1" fill="url(#g384)" stroke="url(#g384)"/>
<polygon points="298.4,115.6 305.9,116.5 320.8,114.4 313.3,114.4" fill="url(#g385)" stroke="url(#g385)"/>
<polygon points="290.9,114.6 298.4,115.6 313.3,114.4 305.9,114.3" fill="url(#g386)" stroke="url(#g386)"/>
<polygon points="283.5,113.7 290.9,114.6 305.9,114.3 298.4,114.2" fill="url(#g387)" stroke="url(#g387)"/>
<polygon points="276,112.8 283.5,113.7 298.4,114.2 290.9,114.1" fill="url(#g388)" stroke="url(#g388)"/>
<polygon points="268.5,111.8 276,112.8 290.9,114.1 283.5,114" fill="url(#g389)" stroke="url(#g389)"/>
<polygon points="261,110.9 268.5,111.8 283.5,114 276,113.9" fill="url(#g390)" stroke="url(#g390)"/>
<polygon points="253.6,109.9 261,110.9 276,113.9 268.5,113.8" fill="url(#g391)" stroke="url(#g391)"/>
<polygon points="246.1,109 253.6,109.9 268.5,113.8 261,113.8" fill="url(#g392)" stroke="url(#g392)"/>
<polygon points="238.6,108.1 246.1,109 261,113.8 253.6,113.7" fill="url(#g393)" stroke="url(#g393)"/>
<polygon points="231.2,107.1 238.6,108.1 253.6,113.7 246.1,113.6" fill="url(#g394)" stroke="url(#g394)"/>
<polygon points="313.3,114.4 320.8,114.4 335.8,112.4 328.3,113.1" fill="url(#g395)" stroke="url(#g395)"/>
<polygon points="305.9,114.3 313.3,114.4 328.3,113.1 320.8,113.9" fill="url(#g396)" stroke="url(#g396)"/>
<polygon points="298.4,114.2 305.9,114.3 320.8,113.9 313.3,114.7" fill="url(#g397)" stroke="url(#g397)"/>
<polygon points="290.9,114.1 298.4,114.2 313.3,114.7 305.9,115.4" fill="url(#g398)" stroke="url(#g398)"/>
<polygon points="283.5,114 290.9,114.1 305.9,115.4 298.4,116.2" fill="url(#g399)" stroke="url(#g399)"/>
<polygon points="276,113.9 283.5,114 298.4,116.2 290.9,117" fill="url(#g400)" stroke="url(#g400)"/>
<polygon points="268.5,113.8 276,113.9 290.9,117 283.4,117.7" fill="url(#g401)" stroke="url(#g401)"/>
<polygon points="261,113.8 268.5,113.8 283.4,117.7 276,118.5" fill="url(#g402)" stroke="url(#g402)"/>
<polygon points="253.6,113.7 261,113.8 276,118.5 268.5,119.3" fill="url(#g403)" stroke="url(#g403)"/>
<polygon points="246.1,113.6 253.6,113.7 268.5,119.3 261,120.1" fill="url(#g404)" stroke="url(#g404)"/>
<polygon points="328.3,113.1 335.8,112.4 350.7,110.3 343.2,111.9" fill="url(#g405)" stroke="url(#g405)"/>
<polygon points="320.8,113.9 328.3,113.1 343.2,111.9 335.7,113.5" fill="url(#g406)" stroke="url(#g406)"/>
<polygon points="313.3,114.7 320.8,113.9 335.7,113.5 328.3,115.2" fill="url(#g407)" stroke="url(#g407)"/>
<polygon points="305.9,115.4 313.3,114.7 328.3,115.2 320.8,116.8" fill="url(#g408)" stroke="url(#g408)"/>
<polygon points="298.4,116.2 305.9,115.4 320.8,116.8 313.3,118.4" fill="url(#g409)" stroke="url(#g409)"/>
<polygon points="290.9,117 298.4,116.2 313.3,118.4 305.9,120" fill="url(#g410)" stroke="url(#g410)"/>
<polygon points="283.4,117.7 290.9,117 305.9,120 298.4,121.7" fill="url(#g411)" stroke="url(#g411)"/>
<polygon points="276,118.5 283.4,117.7 298.4,121.7 290.9,123.3" fill="url(#g412)" stroke="url(#g412)"/>
<polygon points="268.5,119.3 276,118.5 290.9,123.3 283.4,124.9" fill="url(#g413)" stroke="url(#g413)"/>
<polygon points="261,120.1 268.5,119.3 283.4,124.9 276,126.5" fill="url(#g414)" stroke="url(#g414)"/>
<polygon points="343.2,111.9 350.7,110.3 365.6,108.2 358.2,110.7" fill="url(#g415)" stroke="url(#g415)"/>
<polygon points="335.7,113.5 343.2,111.9 358.2,110.7 350.7,113.2" fill="url(#g416)" stroke="url(#g416)"/>
<polygon points="328.3,115.2 335.7,113.5 350.7,113.2 343.2,115.6" fill="url(#g417)" stroke="url(#g417)"/>
<polygon points="320.8,116.8 328.3,115.2 343.2,115.6 335.7,118.1" fill="url(#g418)" stroke="url(#g418)"/>
<polygon points="313.3,118.4 320.8,116.8 335.7,118.1 328.3,120.6" fill="url(#g419)" stroke="url(#g419)"/>
<polygon points="305.9,120 313.3,118.4 328.3,120.6 320.8,123.1" fill="url(#g420)" stroke="url(#g420)"/>
<polygon points="298.4,121.7 305.9,120 320.8,123.1 313.3,125.6" fill="url(#g421)" stroke="url(#g421)"/>
<polygon points="290.9,123.3 298.4,121.7 313.3,125.6 305.9,128" fill="url(#g422)" stroke="url(#g422)"/>
<polygon points="283.4,124.9 290.9,123.3 305.9,128 298.4,130.5" fill="url(#g423)" stroke="url(#g423)"/>
<polygon points="276,126.5 283.4,124.9 298.4,130.5 290.9,133" fill="url(#g424)" stroke="url(#g424)"/>
<polygon points="129.1,85.7 141.5,68.3 191.3,89.9 178.9,106.6" fill="url(#g425)" stroke="url(#g425)"/>
<polygon points="116.6,103 129.1,85.7 178.9,106.6 166.4,123.4" fill="url(#g426)" stroke="url(#g426)"/>
<polygon points="104.2,120.4 116.6,103 166.4,123.4 154,140.1" fill="url(#g427)" stroke="url(#g427)"/>
<polygon points="178.9,106.6 191.3,89.9 241.1,111.4 228.7,127.6" fill="url(#g428)" stroke="url(#g428)"/>
<polygon points="166.4,123.4 178.9,106.6 228.7,127.6 216.2,143.7" fill="url(#g429)" stroke="url(#g429)"/>
<polygon points="154,140.1 166.4,123.4 216.2,143.7 203.8,159.9" fill="url(#g430)" stroke="url(#g430)"/>
<polygon points="228.7,127.6 241.1,111.4 290.9,133 278.5,148.5" fill="url(#g431)" stroke="url(#g431)"/>
<polygon points="216.2,143.7 228.7,127.6 278.5,148.5 266,164.1" fill="url(#g432)" stroke="url(#g432)"/>
<polygon points="203.8,159.9 216.2,143.7 266,164.1 253.6,179.6" fill="url(#g433)" stroke="url(#g433)"/>
<polygon points="98,137.3 104.2,120.4 154,140.1 147.7,156.1" fill="url(#g434)" stroke="url(#g434)"/>
<polygon points="91.7,154.1 98,137.3 147.7,156.1 141.5,172.1" fill="url(#g435)" stroke="url(#g435)"/>
<polygon points="85.5,171 91.7,154.1 141.5,172.1 135.3,188.1" fill="url(#g436)" stroke="url(#g436)"/>
<polygon points="147.7,156.1 154,140.1 203.8,159.9 197.5,175" fill="url(#g437)" stroke="url(#g437)"/>
<polygon points="141.5,172.1 147.7,156.1 197.5,175 191.3,190.1" fill="url(#g438)" stroke="url(#g438)"/>
<polygon points="135.3,188.1 141.5,172.1 191.3,190.1 185.1,205.3" fill="url(#g439)" stroke="url(#g439)"/>
<polygon points="197.5,175 203.8,159.9 253.6,179.6 247.3,193.9" fill="url(#g440)" stroke="url(#g440)"/>
<polygon points="191.3,190.1 197.5,175 247.3,193.9 241.1,208.1" fill="url(#g441)" stroke="url(#g441)"/>
<polygon points="185.1,205.3 191.3,190.1 241.1,208.1 234.9,222.4" fill="url(#g442)" stroke="url(#g442)"/>
<polygon points="340.7,116.5 365.6,108.2 390.5,126.3 365.6,134.7" fill="url(#g443)" stroke="url(#g443)"/>
<polygon points="315.8,124.7 340.7,116.5 365.6,134.7 340.7,143.1" fill="url(#g444)" stroke="url(#g444)"/>
<polygon points="290.9,133 315.8,124.7 340.7,143.1 315.8,151.5" fill="url(#g445)" stroke="url(#g445)"/>
<polygon points="365.6,134.7 390.5,126.3 415.4,144.5 390.5,153" fill="url(#g446)" stroke="url(#g446)"/>
<polygon points="340.7,143.1 365.6,134.7 390.5,153 365.6,161.5" fill="url(#g447)" stroke="url(#g447)"/>
<polygon points="315.8,151.5 340.7,143.1 365.6,161.5 340.7,170.1" fill="url(#g448)" stroke="url(#g448)"/>
<polygon points="390.5,153 415.4,144.5 440.3,162.6 415.4,171.3" fill="url(#g449)" stroke="url(#g449)"/>
<polygon points="365.6,161.5 390.5,153 415.4,171.3 390.5,179.9" fill="url(#g450)" stroke="url(#g450)"/>
<polygon points="340.7,170.1 365.6,161.5 390.5,179.9 365.6,188.6" fill="url(#g451)" stroke="url(#g451)"/>
<polygon points="278.5,148.5 290.9,133 315.8,151.5 303.4,167.2" fill="url(#g452)" stroke="url(#g452)"/>
<polygon points="266,164.1 278.5,148.5 303.4,167.2 290.9,182.9" fill="url(#g453)" stroke="url(#g453)"/>
<polygon points="253.6,179.6 266,164.1 290.9,182.9 278.4,198.5" fill="url(#g454)" stroke="url(#g454)"/>
<polygon points="303.4,167.2 315.8,151.5 340.7,170.1 328.2,185.9" fill="url(#g455)" stroke="url(#g455)"/>
<polygon points="290.9,182.9 303.4,167.2 328.2,185.9 315.8,201.7" fill="url(#g456)" stroke="url(#g456)"/>
<polygon points="278.4,198.5 290.9,182.9 315.8,201.7 303.3,217.5" fill="url(#g457)" stroke="url(#g457)"/>
<polygon points="328.2,185.9 340.7,170.1 365.6,188.6 353.1,204.5" fill="url(#g458)" stroke="url(#g458)"/>
<polygon points="315.8,201.7 328.2,185.9 353.1,204.5 340.7,220.5" fill="url(#g459)" stroke="url(#g459)"/>
<polygon points="303.3,217.5 315.8,201.7 340.7,220.5 328.2,236.4" fill="url(#g460)" stroke="url(#g460)"/>
<polygon points="247.3,193.9 253.6,179.6 278.4,198.5 272.2,210" fill="url(#g461)" stroke="url(#g461)"/>
<polygon points="241.1,208.1 247.3,193.9 272.2,210 266,221.5" fill="url(#g462)" stroke="url(#g462)"/>
<polygon points="234.9,222.4 241.1,208.1 266,221.5 259.8,232.9" fill="url(#g463)" stroke="url(#g463)"/>
<polygon points="272.2,210 278.4,198.5 303.3,217.5 297.1,226.1" fill="url(#g464)" stroke="url(#g464)"/>
<polygon points="266,221.5 272.2,210 297.1,226.1 290.9,234.8" fill="url(#g465)" stroke="url(#g465)"/>
<polygon points="259.8,232.9 266,221.5 290.9,234.8 284.7,243.5" fill="url(#g466)" stroke="url(#g466)"/>
<polygon points="297.1,226.1 303.3,217.5 328.2,236.4 322,242.3" fill="url(#g467)" stroke="url(#g467)"/>
<polygon points="290.9,234.8 297.1,226.1 322,242.3 315.8,248.1" fill="url(#g468)" stroke="url(#g468)"/>
<polygon points="284.7,243.5 290.9,234.8 315.8,248.1 309.6,254" fill="url(#g469)" stroke="url(#g469)"/>
<polygon points="415.4,171.3 440.3,162.6 452.8,174.1 427.9,185.3" fill="url(#g470)" stroke="url(#g470)"/>
<polygon points="390.5,179.9 415.4,171.3 427.9,185.3 403,196.6" fill="url(#g471)" stroke="url(#g471)"/>
<polygon points="365.6,188.6 390.5,179.9 403,196.6 378,207.9" fill="url(#g472)" stroke="url(#g472)"/>
<polygon points="427.9,185.3 452.8,174.1 465.2,185.5 440.3,199.4" fill="url(#g473)" stroke="url(#g473)"/>
<polygon points="403,196.6 427.9,185.3 440.3,199.4 415.4,213.3" fill="url(#g474)" stroke="url(#g474)"/>
<polygon points="378,207.9 403,196.6 415.4,213.3 390.5,227.1" fill="url(#g475)" stroke="url(#g475)"/>
<polygon points="440.3,199.4 465.2,185.5 477.7,197 452.8,213.5" fill="url(#g476)" stroke="url(#g476)"/>
<polygon points="415.4,213.3 440.3,199.4 452.8,213.5 427.8,229.9" fill="url(#g477)" stroke="url(#g477)"/>
<polygon points="390.5,227.1 415.4,213.3 427.8,229.9 402.9,246.4" fill="url(#g478)" stroke="url(#g478)"/>
<polygon points="353.1,204.5 365.6,188.6 378,207.9 365.6,219.8" fill="url(#g479)" stroke="url(#g479)"/>
<polygon points="340.7,220.5 353.1,204.5 365.6,219.8 353.1,231.8" fill="url(#g480)" stroke="url(#g480)"/>
<polygon points="328.2,236.4 340.7,220.5 353.1,231.8 340.7,243.8" fill="url(#g481)" stroke="url(#g481)"/>
<polygon points="365.6,219.8 378,207.9 390.5,227.1 378,235.2" fill="url(#g482)" stroke="url(#g482)"/>
<polygon points="353.1,231.8 365.6,219.8 378,235.2 365.6,243.2" fill="url(#g483)" stroke="url(#g483)"/>
<polygon points="340.7,243.8 353.1,231.8 365.6,243.2 353.1,251.2" fill="url(#g484)" stroke="url(#g484)"/>
<polygon points="378,235.2 390.5,227.1 402.9,246.4 390.5,250.5" fill="url(#g485)" stroke="url(#g485)"/>
<polygon points="365.6,243.2 378,235.2 390.5,250.5 378,254.5" fill="url(#g486)" stroke="url(#g486)"/>
<polygon points="353.1,251.2 365.6,243.2 378,254.5 365.6,258.6" fill="url(#g487)" stroke="url(#g487)"/>
<polygon points="322,242.3 328.2,236.4 340.7,243.8 334.5,249.2" fill="url(#g488)" stroke="url(#g488)"/>
<polygon points="315.8,248.1 322,242.3 334.5,249.2 328.2,254.5" fill="url(#g489)" stroke="url(#g489)"/>
<polygon points="309.6,254 315.8,248.1 328.2,254.5 322,259.9" fill="url(#g490)" stroke="url(#g490)"/>
<polygon points="334.5,249.2 340.7,243.8 353.1,251.2 346.9,256" fill="url(#g491)" stroke="url(#g491)"/>
<polygon points="328.2,254.5 334.5,249.2 346.9,256 340.7,260.9" fill="url(#g492)" stroke="url(#g492)"/>
<polygon points="322,259.9 328.2,254.5 340.7,260.9 334.5,265.7" fill="url(#g493)" stroke="url(#g493)"/>
<polygon points="346.9,256 353.1,251.2 365.6,258.6 359.4,262.9" fill="url(#g494)" stroke="url(#g494)"/>
<polygon points="340.7,260.9 346.9,256 359.4,262.9 353.1,267.3" fill="url(#g495)" stroke="url(#g495)"/>
<polygon points="334.5,265.7 340.7,260.9 353.1,267.3 346.9,271.6" fill="url(#g496)" stroke="url(#g496)"/>
<polygon points="452.8,213.5 477.7,197 483.9,205 459,220" fill="url(#g497)" stroke="url(#g497)"/>
<polygon points="427.8,229.9 452.8,213.5 459,220 434.1,235" fill="url(#g498)" stroke="url(#g498)"/>
<polygon points="402.9,246.4 427.8,229.9 434.1,235 409.2,249.9" fill="url(#g499)" stroke="url(#g499)"/>
<polygon points="459,220 483.9,205 490.1,213 465.2,226.5" fill="url(#g500)" stroke="url(#g500)"/>
<polygon points="434.1,235 459,220 465.2,226.5 440.3,240" fill="url(#g501)" stroke="url(#g501)"/>
<polygon points="409.2,249.9 434.1,235 440.3,240 415.4,253.5" fill="url(#g502)" stroke="url(#g502)"/>
<polygon points="465.2,226.5 490.1,213 496.3,221 471.4,233" fill="url(#g503)" stroke="url(#g503)"/>
<polygon points="440.3,240 465.2,226.5 471.4,233 446.5,245" fill="url(#g504)" stroke="url(#g504)"/>
<polygon points="415.4,253.5 440.3,240 446.5,245 421.6,257" fill="url(#g505)" stroke="url(#g505)"/>
<polygon points="390.5,250.5 402.9,246.4 409.2,249.9 396.7,254.5" fill="url(#g506)" stroke="url(#g506)"/>
<polygon points="378,254.5 390.5,250.5 396.7,254.5 384.3,259.1" fill="url(#g507)" stroke="url(#g507)"/>
<polygon points="365.6,258.6 378,254.5 384.3,259.1 371.8,263.7" fill="url(#g508)" stroke="url(#g508)"/>
<polygon points="396.7,254.5 409.2,249.9 415.4,253.5 402.9,258.6" fill="url(#g509)" stroke="url(#g509)"/>
<polygon points="384.3,259.1 396.7,254.5 402.9,258.6 390.5,263.7" fill="url(#g510)" stroke="url(#g510)"/>
<polygon points="371.8,263.7 384.3,259.1 390.5,263.7 378,268.9" fill="url(#g511)" stroke="url(#g511)"/>
<polygon points="402.9,258.6 415.4,253.5 421.6,257 409.2,262.7" fill="url(#g512)" stroke="url(#g512)"/>
<polygon points="390.5,263.7 402.9,258.6 409.2,262.7 396.7,268.3" fill="url(#g513)" stroke="url(#g513)"/>
<polygon points="378,268.9 390.5,263.7 396.7,268.3 384.3,274" fill="url(#g514)" stroke="url(#g514)"/>
<polygon points="359.4,262.9 365.6,258.6 371.8,263.7 365.6,267.6" fill="url(#g515)" stroke="url(#g515)"/>
<polygon points="353.1,267.3 359.4,262.9 365.6,267.6 359.4,271.5" fill="url(#g516)" stroke="url(#g516)"/>
<polygon points="346.9,271.6 353.1,267.3 359.4,271.5 353.1,275.4" fill="url(#g517)" stroke="url(#g517)"/>
<polygon points="365.6,267.6 371.8,263.7 378,268.9 371.8,272.3" fill="url(#g518)" stroke="url(#g518)"/>
<polygon points="359.4,271.5 365.6,267.6 371.8,272.3 365.6,275.8" fill="url(#g519)" stroke="url(#g519)"/>
<polygon points="353.1,275.4 359.4,271.5 365.6,275.8 359.4,279.2" fill="url(#g520)" stroke="url(#g520)"/>
<polygon points="371.8,272.3 378,268.9 384.3,274 378,277" fill="url(#g521)" stroke="url(#g521)"/>
<polygon points="365.6,275.8 371.8,272.3 378,277 371.8,280" fill="url(#g522)" stroke="url(#g522)"/>
<polygon points="359.4,279.2 365.6,275.8 371.8,280 365.6,283" fill="url(#g523)" stroke="url(#g523)"/>
<path d="M85.5 171L104.2 120.4M104.2 120.4L141.5 68.3M384.3 274L365.6 283" class="m n"/>
<path d="M253.6 179.6L104.2 120.4M234.9 222.4L253.6 179.6M234.9 222.4L85.5 171M290.9 133L141.5 68.3M253.6 179.6L290.9 133M290.9 133L365.6 108.2M141.5 68.3L365.6 108.2M328.2 236.4L253.6 179.6M309.6 254L328.2 236.4M309.6 254L234.9 222.4M365.6 188.6L290.9 133M328.2 236.4L365.6 188.6M365.6 108.2L440.3 162.6M365.6 188.6L440.3 162.6M365.6 258.6L328.2 236.4M346.9 271.6L365.6 258.6M346.9 271.6L309.6 254M402.9 246.4L365.6 188.6M365.6 258.6L402.9 246.4M440.3 162.6L477.7 197M402.9 246.4L477.7 197M384.3 274L365.6 258.6M365.6 283L346.9 271.6M421.6 257L402.9 246.4M477.7 197L496.3 221" class="m"/>
</g>
<rect x="528.5" y="89.5" width="12.0" height="180.0" fill="url(#cbar)"/>
<text x="555.8" y="273.9">0</text>
<text x="555.8" y="255.9">50</text>
<text x="555.8" y="237.9">100</text>
<text x="555.8" y="219.9">150</text>
<text x="555.8" y="201.9">200</text>
<text x="555.8" y="183.9">250</text>
<text x="555.8" y="165.9">300</text>
<text x="555.8" y="147.9">350</text>
<text x="555.8" y="129.9">400</text>
<text x="555.8" y="111.9">450</text>
<text x="555.8" y="93.9">500</text>
<path d="M528.5 251.5h4M540.5 251.5h-4M528.5 233.5h4M540.5 233.5h-4M528.5 215.5h4M540.5 215.5h-4M528.5 197.5h4M540.5 197.5h-4M528.5 179.5h4M540.5 179.5h-4M528.5 161.5h4M540.5 161.5h-4M528.5 143.5h4M540.5 143.5h-4M528.5 125.5h4M540.5 125.5h-4M528.5 107.5h4M540.5 107.5h-4" class="b"/>
<rect x="528.5" y="89.5" width="12.0" height="180.0" class="b"/>
<text x="200.5" y="376" text-anchor="middle">IO Depth</text>
<text x="521.5" y="403" text-anchor="middle">Volumes</text>
<text x="521.5" y="421.5" text-anchor="middle">(On 1 Guest)</text>
</svg>
<svg x="0" y="900" width="600" height="450" viewBox="0 0 600 450">
<text x="298.8" y="26.5" text-anchor="middle" class="t">Bobtail QEMU/KVM 4K FIO Write Throughput (EXT4 OSDs)</text>
<text transform="translate(11.6,150) rotate(-90)" text-anchor="middle">Throughput (MB/s)</text>
<path d="M384.2 363.2L85.5 285.5L216.2 251.8L515 329.5Z" class="b"/>
<path d="M384.2 363.2L515 329.5M346.9 353.5L477.7 319.8M309.6 343.8L440.3 310.1M272.2 334.1L403 300.3M234.9 324.4L365.6 290.6M197.5 314.7L328.3 280.9M160.2 304.9L290.9 271.2M122.8 295.2L253.6 261.5M85.5 285.5L216.2 251.8M384.2 363.2L85.5 285.5M402.9 358.4L104.2 280.7M421.6 353.6L122.9 275.9M440.3 348.8L141.5 271M459 344L160.2 266.2M477.6 339.1L178.9 261.4M496.3 334.3L197.6 256.6M515 329.5L216.2 251.8M90 216.3L216.2 183.6L515 261.3M90 201.3L216.2 168.6L515 246.3M90 186.3L216.2 153.6L515 231.3M90 171.3L216.2 138.6L515 216.3M90 156.3L216.2 123.6L515 201.3M90 141.4L216.2 108.6L515 186.4M90 126.4L216.2 93.6L515 171.4M90 111.4L216.2 78.6L515 156.4M90 96.4L216.2 63.6L515 141.4M90 81.4L216.2 48.6L515 126.4" class="g"/>
<text x="73.5" y="221.9" text-anchor="end">0</text>
<text x="73.5" y="206.9" text-anchor="end">50</text>
<text x="73.5" y="191.9" text-anchor="end">100</text>
<text x="73.5" y="176.9" text-anchor="end">150</text>
<text x="73.5" y="161.9" text-anchor="end">200</text>
<text x="73.5" y="147" text-anchor="end">250</text>
<text x="73.5" y="132" text-anchor="end">300</text>
<text x="73.5" y="117" text-anchor="end">350</text>
<text x="73.5" y="102" text-anchor="end">400</text>
<text x="73.5" y="87" text-anchor="end">450</text>
<text x="377.9" y="381.6" text-anchor="middle">0</text>
<text x="340.5" y="371.8" text-anchor="middle">2</text>
<text x="303.2" y="362.1" text-anchor="middle">4</text>
<text x="265.8" y="352.4" text-anchor="middle">6</text>
<text x="228.5" y="342.7" text-anchor="middle">8</text>
<text x="191.1" y="333" text-anchor="middle">10</text>
<text x="153.8" y="323.2" text-anchor="middle">12</text>
<text x="116.4" y="313.5" text-anchor="middle">14</text>
<text x="79.1" y="303.8" text-anchor="middle">16</text>
<text x="409.6" y="379.6" text-anchor="middle">1</text>
<text x="428.2" y="374.7" text-anchor="middle">2</text>
<text x="446.9" y="369.9" text-anchor="middle">3</text>
<text x="465.6" y="365.1" text-anchor="middle">4</text>
<text x="484.3" y="360.3" text-anchor="middle">5</text>
<text x="502.9" y="355.4" text-anchor="middle">6</text>
<text x="521.6" y="350.6" text-anchor="middle">7</text>
<text x="540.3" y="345.8" text-anchor="middle">8</text>
<path d="M85.5 285.5V82.4M85.5 217.3h4.5M85.5 202.3h4.5M85.5 187.3h4.5M85.5 172.3h4.5M85.5 157.3h4.5M85.5 142.4h4.5M85.5 127.4h4.5M85.5 112.4h4.5M85.5 97.4h4.5M85.5 82.4h4.5M384.2 363.2l4.6 -1.2M515 329.5l-4.6 1.2M346.9 353.5l4.6 -1.2M477.7 319.8l-4.6 1.2M309.6 343.8l4.6 -1.2M440.3 310.1l-4.6 1.2M272.2 334.1l4.6 -1.2M403 300.3l-4.6 1.2M234.9 324.4l4.6 -1.2M365.6 290.6l-4.6 1.2M197.5 314.7l4.6 -1.2M328.3 280.9l-4.6 1.2M160.2 304.9l4.6 -1.2M290.9 271.2l-4.6 1.2M122.8 295.2l4.6 -1.2M253.6 261.5l-4.6 1.2M85.5 285.5l4.6 -1.2M216.2 251.8l-4.6 1.2M384.2 363.2l-4.9 -1.3M85.5 285.5l4.9 1.3M402.9 358.4l-4.9 -1.3M104.2 280.7l4.9 1.3M421.6 353.6l-4.9 -1.3M122.9 275.9l4.9 1.3M440.3 348.8l-4.9 -1.3M141.5 271l4.9 1.3M459 344l-4.9 -1.3M160.2 266.2l4.9 1.3M477.6 339.1l-4.9 -1.3M178.9 261.4l4.9 1.3M496.3 334.3l-4.9 -1.3M197.6 256.6l4.9 1.3M515 329.5l-4.9 -1.3M216.2 251.8l4.9 1.3" class="b"/>
<g class="s">
<polygon points="104.2,84.6 141.5,76 290.9,190" fill="#fff" stroke="none"/>
<polygon points="104.2,84.6 290.9,190 253.6,142" fill="#fff" stroke="none"/>
<polygon points="253.6,142 290.9,190 365.6,215.8" fill="#fff" stroke="none"/>
<polygon points="253.6,142 365.6,215.8 328.2,195.6" fill="#fff" stroke="none"/>
<polygon points="328.2,195.6 365.6,215.8 402.9,231" fill="#fff" stroke="none"/>
<polygon points="328.2,195.6 402.9,231 365.6,235.6" fill="#fff" stroke="none"/>
<polygon points="191.3,75.6 216.2,75.4 266,100.9 241.1,105.2" fill="url(#g524)" stroke="url(#g524)"/>
<polygon points="166.4,75.8 191.3,75.6 241.1,105.2 216.2,109.6" fill="url(#g525)" stroke="url(#g525)"/>
<polygon points="141.5,76 166.4,75.8 216.2,109.6 191.3,114" fill="url(#g526)" stroke="url(#g526)"/>
<polygon points="241.1,105.2 266,100.9 315.8,126.3 290.9,134.9" fill="url(#g527)" stroke="url(#g527)"/>
<polygon points="216.2,109.6 241.1,105.2 290.9,134.9 266,143.4" fill="url(#g528)" stroke="url(#g528)"/>
<polygon points="191.3,114 216.2,109.6 266,143.4 241.1,152" fill="url(#g529)" stroke="url(#g529)"/>
<polygon points="290.9,134.9 315.8,126.3 365.6,151.8 340.7,164.5" fill="url(#g530)" stroke="url(#g530)"/>
<polygon points="266,143.4 290.9,134.9 340.7,164.5 315.8,177.3" fill="url(#g531)" stroke="url(#g531)"/>
<polygon points="241.1,152 266,143.4 315.8,177.3 290.9,190" fill="url(#g532)" stroke="url(#g532)"/>
<polygon points="129.1,78.9 141.5,76 191.3,114 178.9,110.6" fill="url(#g533)" stroke="url(#g533)"/>
<polygon points="116.6,81.7 129.1,78.9 178.9,110.6 166.4,107.2" fill="url(#g534)" stroke="url(#g534)"/>
<polygon points="104.2,84.6 116.6,81.7 166.4,107.2 154,103.7" fill="url(#g535)" stroke="url(#g535)"/>
<polygon points="178.9,110.6 191.3,114 241.1,152 228.7,142.3" fill="url(#g536)" stroke="url(#g536)"/>
<polygon points="166.4,107.2 178.9,110.6 228.7,142.3 216.2,132.6" fill="url(#g537)" stroke="url(#g537)"/>
<polygon points="154,103.7 166.4,107.2 216.2,132.6 203.8,122.9" fill="url(#g538)" stroke="url(#g538)"/>
<polygon points="228.7,142.3 241.1,152 290.9,190 278.5,174" fill="url(#g539)" stroke="url(#g539)"/>
<polygon points="216.2,132.6 228.7,142.3 278.5,174 266,158" fill="url(#g540)" stroke="url(#g540)"/>
<polygon points="203.8,122.9 216.2,132.6 266,158 253.6,142" fill="url(#g541)" stroke="url(#g541)"/>
<polygon points="98,106.7 104.2,84.6 154,103.7 147.7,125.4" fill="url(#g542)" stroke="url(#g542)"/>
<polygon points="91.7,128.9 98,106.7 147.7,125.4 141.5,147" fill="url(#g543)" stroke="url(#g543)"/>
<polygon points="85.5,151 91.7,128.9 141.5,147 135.3,168.7" fill="url(#g544)" stroke="url(#g544)"/>
<polygon points="147.7,125.4 154,103.7 203.8,122.9 197.5,144" fill="url(#g545)" stroke="url(#g545)"/>
<polygon points="141.5,147 147.7,125.4 197.5,144 191.3,165.2" fill="url(#g546)" stroke="url(#g546)"/>
<polygon points="135.3,168.7 141.5,147 191.3,165.2 185.1,186.3" fill="url(#g547)" stroke="url(#g547)"/>
<polygon points="197.5,144 203.8,122.9 253.6,142 247.3,162.7" fill="url(#g548)" stroke="url(#g548)"/>
<polygon points="191.3,165.2 197.5,144 247.3,162.7 241.1,183.3" fill="url(#g549)" stroke="url(#g549)"/>
<polygon points="185.1,186.3 191.3,165.2 241.1,183.3 234.9,204" fill="url(#g550)" stroke="url(#g550)"/>
<polygon points="340.7,164.5 365.6,151.8 390.5,160 365.6,172.9" fill="url(#g551)" stroke="url(#g551)"/>
<polygon points="315.8,177.3 340.7,164.5 365.6,172.9 340.7,185.7" fill="url(#g552)" stroke="url(#g552)"/>
<polygon points="290.9,190 315.8,177.3 340.7,185.7 315.8,198.6" fill="url(#g553)" stroke="url(#g553)"/>
<polygon points="365.6,172.9 390.5,160 415.4,168.2 390.5,181.2" fill="url(#g554)" stroke="url(#g554)"/>
<polygon points="340.7,185.7 365.6,172.9 390.5,181.2 365.6,194.2" fill="url(#g555)" stroke="url(#g555)"/>
<polygon points="315.8,198.6 340.7,185.7 365.6,194.2 340.7,207.2" fill="url(#g556)" stroke="url(#g556)"/>
<polygon points="390.5,181.2 415.4,168.2 440.3,176.4 415.4,189.5" fill="url(#g557)" stroke="url(#g557)"/>
<polygon points="365.6,194.2 390.5,181.2 415.4,189.5 390.5,202.7" fill="url(#g558)" stroke="url(#g558)"/>
<polygon points="340.7,207.2 365.6,194.2 390.5,202.7 365.6,215.8" fill="url(#g559)" stroke="url(#g559)"/>
<polygon points="278.5,174 290.9,190 315.8,198.6 303.4,185.7" fill="url(#g560)" stroke="url(#g560)"/>
<polygon points="266,158 278.5,174 303.4,185.7 290.9,172.8" fill="url(#g561)" stroke="url(#g561)"/>
<polygon points="253.6,142 266,158 290.9,172.8 278.4,159.9" fill="url(#g562)" stroke="url(#g562)"/>
<polygon points="303.4,185.7 315.8,198.6 340.7,207.2 328.2,197.4" fill="url(#g563)" stroke="url(#g563)"/>
<polygon points="290.9,172.8 303.4,185.7 328.2,197.4 315.8,187.6" fill="url(#g564)" stroke="url(#g564)"/>
<polygon points="278.4,159.9 290.9,172.8 315.8,187.6 303.3,177.7" fill="url(#g565)" stroke="url(#g565)"/>
<polygon points="328.2,197.4 340.7,207.2 365.6,215.8 353.1,209.1" fill="url(#g566)" stroke="url(#g566)"/>
<polygon points="315.8,187.6 328.2,197.4 353.1,209.1 340.7,202.3" fill="url(#g567)" stroke="url(#g567)"/>
<polygon points="303.3,177.7 315.8,187.6 340.7,202.3 328.2,195.6" fill="url(#g568)" stroke="url(#g568)"/>
<polygon points="247.3,162.7 253.6,142 278.4,159.9 272.2,178.6" fill="url(#g569)" stroke="url(#g569)"/>
<polygon points="241.1,183.3 247.3,162.7 272.2,178.6 266,197.3" fill="url(#g570)" stroke="url(#g570)"/>
<polygon points="234.9,204 241.1,183.3 266,197.3 259.8,216" fill="url(#g571)" stroke="url(#g571)"/>
<polygon points="272.2,178.6 278.4,159.9 303.3,177.7 297.1,194.5" fill="url(#g572)" stroke="url(#g572)"/>
<polygon points="266,197.3 272.2,178.6 297.1,194.5 290.9,211.2" fill="url(#g573)" stroke="url(#g573)"/>
<polygon points="259.8,216 266,197.3 290.9,211.2 284.7,228" fill="url(#g574)" stroke="url(#g574)"/>
<polygon points="297.1,194.5 303.3,177.7 328.2,195.6 322,210.4" fill="url(#g575)" stroke="url(#g575)"/>
<polygon points="290.9,211.2 297.1,194.5 322,210.4 315.8,225.2" fill="url(#g576)" stroke="url(#g576)"/>
<polygon points="284.7,228 290.9,211.2 315.8,225.2 309.6,240" fill="url(#g577)" stroke="url(#g577)"/>
<polygon points="415.4,189.5 440.3,176.4 452.8,182.1 427.9,195" fill="url(#g578)" stroke="url(#g578)"/>
<polygon points="390.5,202.7 415.4,189.5 427.9,195 403,207.9" fill="url(#g579)" stroke="url(#g579)"/>
<polygon points="365.6,215.8 390.5,202.7 403,207.9 378,220.9" fill="url(#g580)" stroke="url(#g580)"/>
<polygon points="427.9,195 452.8,182.1 465.2,187.7 440.3,200.5" fill="url(#g581)" stroke="url(#g581)"/>
<polygon points="403,207.9 427.9,195 440.3,200.5 415.4,213.2" fill="url(#g582)" stroke="url(#g582)"/>
<polygon points="378,220.9 403,207.9 415.4,213.2 390.5,225.9" fill="url(#g583)" stroke="url(#g583)"/>
<polygon points="440.3,200.5 465.2,187.7 477.7,193.4 452.8,205.9" fill="url(#g584)" stroke="url(#g584)"/>
<polygon points="415.4,213.2 440.3,200.5 452.8,205.9 427.8,218.5" fill="url(#g585)" stroke="url(#g585)"/>
<polygon points="390.5,225.9 415.4,213.2 427.8,218.5 402.9,231" fill="url(#g586)" stroke="url(#g586)"/>
<polygon points="353.1,209.1 365.6,215.8 378,220.9 365.6,216.9" fill="url(#g587)" stroke="url(#g587)"/>
<polygon points="340.7,202.3 353.1,209.1 365.6,216.9 353.1,212.9" fill="url(#g588)" stroke="url(#g588)"/>
<polygon points="328.2,195.6 340.7,202.3 353.1,212.9 340.7,208.9" fill="url(#g589)" stroke="url(#g589)"/>
<polygon points="365.6,216.9 378,220.9 390.5,225.9 378,224.7" fill="url(#g590)" stroke="url(#g590)"/>
<polygon points="353.1,212.9 365.6,216.9 378,224.7 365.6,223.5" fill="url(#g591)" stroke="url(#g591)"/>
<polygon points="340.7,208.9 353.1,212.9 365.6,223.5 353.1,222.3" fill="url(#g592)" stroke="url(#g592)"/>
<polygon points="378,224.7 390.5,225.9 402.9,231 390.5,232.5" fill="url(#g593)" stroke="url(#g593)"/>
<polygon points="365.6,223.5 378,224.7 390.5,232.5 378,234.1" fill="url(#g594)" stroke="url(#g594)"/>
<polygon points="353.1,222.3 365.6,223.5 378,234.1 365.6,235.6" fill="url(#g595)" stroke="url(#g595)"/>
<polygon points="322,210.4 328.2,195.6 340.7,208.9 334.5,222.1" fill="url(#g596)" stroke="url(#g596)"/>
<polygon points="315.8,225.2 322,210.4 334.5,222.1 328.2,235.2" fill="url(#g597)" stroke="url(#g597)"/>
<polygon points="309.6,240 315.8,225.2 328.2,235.2 322,248.3" fill="url(#g598)" stroke="url(#g598)"/>
<polygon points="334.5,222.1 340.7,208.9 353.1,222.3 346.9,233.7" fill="url(#g599)" stroke="url(#g599)"/>
<polygon points="328.2,235.2 334.5,222.1 346.9,233.7 340.7,245.2" fill="url(#g600)" stroke="url(#g600)"/>
<polygon points="322,248.3 328.2,235.2 340.7,245.2 334.5,256.7" fill="url(#g601)" stroke="url(#g601)"/>
<polygon points="346.9,233.7 353.1,222.3 365.6,235.6 359.4,245.4" fill="url(#g602)" stroke="url(#g602)"/>
<polygon points="340.7,245.2 346.9,233.7 359.4,245.4 353.1,255.2" fill="url(#g603)" stroke="url(#g603)"/>
<polygon points="334.5,256.7 340.7,245.2 353.1,255.2 346.9,265" fill="url(#g604)" stroke="url(#g604)"/>
<polygon points="452.8,205.9 477.7,193.4 483.9,198.3 459,210.5" fill="url(#g605)" stroke="url(#g605)"/>
<polygon points="427.8,218.5 452.8,205.9 459,210.5 434.1,222.8" fill="url(#g606)" stroke="url(#g606)"/>
<polygon points="402.9,231 427.8,218.5 434.1,222.8 409.2,235" fill="url(#g607)" stroke="url(#g607)"/>
<polygon points="459,210.5 483.9,198.3 490.1,203.1 465.2,215.1" fill="url(#g608)" stroke="url(#g608)"/>
<polygon points="434.1,222.8 459,210.5 465.2,215.1 440.3,227" fill="url(#g609)" stroke="url(#g609)"/>
<polygon points="409.2,235 434.1,222.8 440.3,227 415.4,239" fill="url(#g610)" stroke="url(#g610)"/>
<polygon points="465.2,215.1 490.1,203.1 496.3,208 471.4,219.7" fill="url(#g611)" stroke="url(#g611)"/>
<polygon points="440.3,227 465.2,215.1 471.4,219.7 446.5,231.3" fill="url(#g612)" stroke="url(#g612)"/>
<polygon points="415.4,239 440.3,227 446.5,231.3 421.6,243" fill="url(#g613)" stroke="url(#g613)"/>
<polygon points="390.5,232.5 402.9,231 409.2,235 396.7,237.9" fill="url(#g614)" stroke="url(#g614)"/>
<polygon points="378,234.1 390.5,232.5 396.7,237.9 384.3,240.8" fill="url(#g615)" stroke="url(#g615)"/>
<polygon points="365.6,235.6 378,234.1 384.3,240.8 371.8,243.7" fill="url(#g616)" stroke="url(#g616)"/>
<polygon points="396.7,237.9 409.2,235 415.4,239 402.9,243.3" fill="url(#g617)" stroke="url(#g617)"/>
<polygon points="384.3,240.8 396.7,237.9 402.9,243.3 390.5,247.6" fill="url(#g618)" stroke="url(#g618)"/>
<polygon points="371.8,243.7 384.3,240.8 390.5,247.6 378,251.9" fill="url(#g619)" stroke="url(#g619)"/>
<polygon points="402.9,243.3 415.4,239 421.6,243 409.2,248.7" fill="url(#g620)" stroke="url(#g620)"/>
<polygon points="390.5,247.6 402.9,243.3 409.2,248.7 396.7,254.3" fill="url(#g621)" stroke="url(#g621)"/>
<polygon points="378,251.9 390.5,247.6 396.7,254.3 384.3,260" fill="url(#g622)" stroke="url(#g622)"/>
<polygon points="359.4,245.4 365.6,235.6 371.8,243.7 365.6,252.3" fill="url(#g623)" stroke="url(#g623)"/>
<polygon points="353.1,255.2 359.4,245.4 365.6,252.3 359.4,260.8" fill="url(#g624)" stroke="url(#g624)"/>
<polygon points="346.9,265 353.1,255.2 359.4,260.8 353.1,269.3" fill="url(#g625)" stroke="url(#g625)"/>
<polygon points="365.6,252.3 371.8,243.7 378,251.9 371.8,259.1" fill="url(#g626)" stroke="url(#g626)"/>
<polygon points="359.4,260.8 365.6,252.3 371.8,259.1 365.6,266.4" fill="url(#g627)" stroke="url(#g627)"/>
<polygon points="353.1,269.3 359.4,260.8 365.6,266.4 359.4,273.7" fill="url(#g628)" stroke="url(#g628)"/>
<polygon points="371.8,259.1 378,251.9 384.3,260 378,266" fill="url(#g629)" stroke="url(#g629)"/>
<polygon points="365.6,266.4 371.8,259.1 378,266 371.8,272" fill="url(#g630)" stroke="url(#g630)"/>
<polygon points="359.4,273.7 365.6,266.4 371.8,272 365.6,278" fill="url(#g631)" stroke="url(#g631)"/>
<path d="M85.5 151L104.2 84.6M104.2 84.6L141.5 76M141.5 76L216.2 75.4M384.3 260L365.6 278M421.6 243L384.3 260M496.3 208L421.6 243" class="m n"/>
<path d="M253.6 142L104.2 84.6M234.9 204L253.6 142M234.9 204L85.5 151M201.4 121.7L141.5 76M104.2 84.6L106.6 86M216.2 75.4L365.6 151.8M311.3 179.6L365.6 151.8M328.2 195.6L253.6 142M309.6 240L328.2 195.6M309.6 240L234.9 204M256.2 143.8L351.6 206.5M365.6 151.8L440.3 176.4M368.4 214.3L440.3 176.4M365.6 235.6L328.2 195.6M346.9 265L365.6 235.6M346.9 265L309.6 240M365.6 235.6L402.9 231M328.2 195.6L402.9 231M440.3 176.4L477.7 193.4M402.9 231L477.7 193.4M384.3 260L365.6 235.6M365.6 278L346.9 265M421.6 243L402.9 231M477.7 193.4L496.3 208" class="m"/>
</g>
<rect x="528.5" y="89.5" width="12.0" height="180.0" fill="url(#cbar)"/>
<text x="555.8" y="273.9">0</text>
<text x="555.8" y="253.9">50</text>
<text x="555.8" y="233.9">100</text>
<text x="555.8" y="213.9">150</text>
<text x="555.8" y="193.9">200</text>
<text x="555.8" y="173.9">250</text>
<text x="555.8" y="153.9">300</text>
<text x="555.8" y="133.9">350</text>
<text x="555.8" y="113.9">400</text>
<text x="555.8" y="93.9">450</text>
<path d="M528.5 249.5h4M540.5 249.5h-4M528.5 229.5h4M540.5 229.5h-4M528.5 209.5h4M540.5 209.5h-4M528.5 189.5h4M540.5 189.5h-4M528.5 169.5h4M540.5 169.5h-4M528.5 149.5h4M540.5 149.5h-4M528.5 129.5h4M540.5 129.5h-4M528.5 109.5h4M540.5 109.5h-4" class="b"/>
<rect x="528.5" y="89.5" width="12.0" height="180.0" class="b"/>
<text x="200.5" y="376" text-anchor="middle">IO Depth</text>
<text x="521.5" y="403" text-anchor="middle">Guests</text>
<text x="521.5" y="421.5" text-anchor="middle">(1 Volume Each)</text>
</svg>
<svg x="600" y="900" width="600" height="450" viewBox="0 0 600 450">
<text x="298.8" y="26.5" text-anchor="middle" class="t">Cuttlefish QEMU/KVM 4K FIO Write Throughput (EXT4 OSDs)</text>
<text transform="translate(11.6,150) rotate(-90)" text-anchor="middle">Throughput (MB/s)</text>
<path d="M384.2 363.2L85.5 285.5L216.2 251.8L515 329.5Z" class="b"/>
<path d="M384.2 363.2L515 329.5M346.9 353.5L477.7 319.8M309.6 343.8L440.3 310.1M272.2 334.1L403 300.3M234.9 324.4L365.6 290.6M197.5 314.7L328.3 280.9M160.2 304.9L290.9 271.2M122.8 295.2L253.6 261.5M85.5 285.5L216.2 251.8M384.2 363.2L85.5 285.5M402.9 358.4L104.2 280.7M421.6 353.6L122.9 275.9M440.3 348.8L141.5 271M459 344L160.2 266.2M477.6 339.1L178.9 261.4M496.3 334.3L197.6 256.6M515 329.5L216.2 251.8M90 216.3L216.2 183.6L515 261.3M90 197L216.2 164.3L515 242M90 177.8L216.2 145L515 222.8M90 158.5L216.2 125.7L515 203.5M90 139.2L216.2 106.5L515 184.2M90 119.9L216.2 87.2L515 164.9M90 100.7L216.2 67.9L515 145.7M90 81.4L216.2 48.6L515 126.4" class="g"/>
<text x="73.5" y="221.9" text-anchor="end">0</text>
<text x="73.5" y="202.6" text-anchor="end">50</text>
<text x="73.5" y="183.4" text-anchor="end">100</text>
<text x="73.5" y="164.1" text-anchor="end">150</text>
<text x="73.5" y="144.8" text-anchor="end">200</text>
<text x="73.5" y="125.5" text-anchor="end">250</text>
<text x="73.5" y="106.3" text-anchor="end">300</text>
<text x="73.5" y="87" text-anchor="end">350</text>
<text x="377.9" y="381.6" text-anchor="middle">0</text>
<text x="340.5" y="371.8" text-anchor="middle">2</text>
<text x="303.2" y="362.1" text-anchor="middle">4</text>
<text x="265.8" y="352.4" text-anchor="middle">6</text>
<text x="228.5" y="342.7" text-anchor="middle">8</text>
<text x="191.1" y="333" text-anchor="middle">10</text>
<text x="153.8" y="323.2" text-anchor="middle">12</text>
<text x="116.4" y="313.5" text-anchor="middle">14</text>
<text x="79.1" y="303.8" text-anchor="middle">16</text>
<text x="409.6" y="379.6" text-anchor="middle">1</text>
<text x="428.2" y="374.7" text-anchor="middle">2</text>
<text x="446.9" y="369.9" text-anchor="middle">3</text>
<text x="465.6" y="365.1" text-anchor="middle">4</text>
<text x="484.3" y="360.3" text-anchor="middle">5</text>
<text x="502.9" y="355.4" text-anchor="middle">6</text>
<text x="521.6" y="350.6" text-anchor="middle">7</text>
<text x="540.3" y="345.8" text-anchor="middle">8</text>
<path d="M85.5 285.5V82.4M85.5 217.3h4.5M85.5 198h4.5M85.5 178.8h4.5M85.5 159.5h4.5M85.5 140.2h4.5M85.5 120.9h4.5M85.5 101.7h4.5M85.5 82.4h4.5M384.2 363.2l4.6 -1.2M515 329.5l-4.6 1.2M346.9 353.5l4.6 -1.2M477.7 319.8l-4.6 1.2M309.6 343.8l4.6 -1.2M440.3 310.1l-4.6 1.2M272.2 334.1l4.6 -1.2M403 300.3l-4.6 1.2M234.9 324.4l4.6 -1.2M365.6 290.6l-4.6 1.2M197.5 314.7l4.6 -1.2M328.3 280.9l-4.6 1.2M160.2 304.9l4.6 -1.2M290.9 271.2l-4.6 1.2M122.8 295.2l4.6 -1.2M253.6 261.5l-4.6 1.2M85.5 285.5l4.6 -1.2M216.2 251.8l-4.6 1.2M384.2 363.2l-4.9 -1.3M85.5 285.5l4.9 1.3M402.9 358.4l-4.9 -1.3M104.2 280.7l4.9 1.3M421.6 353.6l-4.9 -1.3M122.9 275.9l4.9 1.3M440.3 348.8l-4.9 -1.3M141.5 271l4.9 1.3M459 344l-4.9 -1.3M160.2 266.2l4.9 1.3M477.6 339.1l-4.9 -1.3M178.9 261.4l4.9 1.3M496.3 334.3l-4.9 -1.3M197.6 256.6l4.9 1.3M515 329.5l-4.9 -1.3M216.2 251.8l4.9 1.3" class="b"/>
<g class="s">
<polygon points="191.3,65.2 216.2,58.6 266,70.1 241.1,78.8" fill="url(#g632)" stroke="url(#g632)"/>
<polygon points="166.4,71.8 191.3,65.2 241.1,78.8 216.2,87.6" fill="url(#g633)" stroke="url(#g633)"/>
<polygon points="141.5,78.4 166.4,71.8 216.2,87.6 191.3,96.3" fill="url(#g634)" stroke="url(#g634)"/>
<polygon points="241.1,78.8 266,70.1 315.8,81.5 290.9,92.4" fill="url(#g635)" stroke="url(#g635)"/>
<polygon points="216.2,87.6 241.1,78.8 290.9,92.4 266,103.4" fill="url(#g636)" stroke="url(#g636)"/>
<polygon points="191.3,96.3 216.2,87.6 266,103.4 241.1,114.3" fill="url(#g637)" stroke="url(#g637)"/>
<polygon points="290.9,92.4 315.8,81.5 365.6,93 340.7,106.1" fill="url(#g638)" stroke="url(#g638)"/>
<polygon points="266,103.4 290.9,92.4 340.7,106.1 315.8,119.1" fill="url(#g639)" stroke="url(#g639)"/>
<polygon points="241.1,114.3 266,103.4 315.8,119.1 290.9,132.2" fill="url(#g640)" stroke="url(#g640)"/>
<polygon points="129.1,81.7 141.5,78.4 191.3,96.3 178.9,99" fill="url(#g641)" stroke="url(#g641)"/>
<polygon points="116.6,85.1 129.1,81.7 178.9,99 166.4,101.6" fill="url(#g642)" stroke="url(#g642)"/>
<polygon points="104.2,88.4 116.6,85.1 166.4,101.6 154,104.3" fill="url(#g643)" stroke="url(#g643)"/>
<polygon points="178.9,99 191.3,96.3 241.1,114.3 228.7,116.2" fill="url(#g644)" stroke="url(#g644)"/>
<polygon points="166.4,101.6 178.9,99 228.7,116.2 216.2,118.2" fill="url(#g645)" stroke="url(#g645)"/>
<polygon points="154,104.3 166.4,101.6 216.2,118.2 203.8,120.1" fill="url(#g646)" stroke="url(#g646)"/>
<polygon points="228.7,116.2 241.1,114.3 290.9,132.2 278.5,133.5" fill="url(#g647)" stroke="url(#g647)"/>
<polygon points="216.2,118.2 228.7,116.2 278.5,133.5 266,134.7" fill="url(#g648)" stroke="url(#g648)"/>
<polygon points="203.8,120.1 216.2,118.2 266,134.7 253.6,136" fill="url(#g649)" stroke="url(#g649)"/>
<polygon points="98,106.3 104.2,88.4 154,104.3 147.7,123.8" fill="url(#g650)" stroke="url(#g650)"/>
<polygon points="91.7,124.1 98,106.3 147.7,123.8 141.5,143.3" fill="url(#g651)" stroke="url(#g651)"/>
<polygon points="85.5,142 91.7,124.1 141.5,143.3 135.3,162.8" fill="url(#g652)" stroke="url(#g652)"/>
<polygon points="147.7,123.8 154,104.3 203.8,120.1 197.5,141.3" fill="url(#g653)" stroke="url(#g653)"/>
<polygon points="141.5,143.3 147.7,123.8 197.5,141.3 191.3,162.4" fill="url(#g654)" stroke="url(#g654)"/>
<polygon points="135.3,162.8 141.5,143.3 191.3,162.4 185.1,183.6" fill="url(#g655)" stroke="url(#g655)"/>
<polygon points="197.5,141.3 203.8,120.1 253.6,136 247.3,158.8" fill="url(#g656)" stroke="url(#g656)"/>
<polygon points="191.3,162.4 197.5,141.3 247.3,158.8 241.1,181.6" fill="url(#g657)" stroke="url(#g657)"/>
<polygon points="185.1,183.6 191.3,162.4 241.1,181.6 234.9,204.4" fill="url(#g658)" stroke="url(#g658)"/>
<polygon points="340.7,106.1 365.6,93 390.5,103.8 365.6,116.8" fill="url(#g659)" stroke="url(#g659)"/>
<polygon points="315.8,119.1 340.7,106.1 365.6,116.8 340.7,129.9" fill="url(#g660)" stroke="url(#g660)"/>
<polygon points="290.9,132.2 315.8,119.1 340.7,129.9 315.8,142.9" fill="url(#g661)" stroke="url(#g661)"/>
<polygon points="365.6,116.8 390.5,103.8 415.4,114.6 390.5,127.6" fill="url(#g662)" stroke="url(#g662)"/>
<polygon points="340.7,129.9 365.6,116.8 390.5,127.6 365.6,140.6" fill="url(#g663)" stroke="url(#g663)"/>
<polygon points="315.8,142.9 340.7,129.9 365.6,140.6 340.7,153.7" fill="url(#g664)" stroke="url(#g664)"/>
<polygon points="390.5,127.6 415.4,114.6 440.3,125.4 415.4,138.4" fill="url(#g665)" stroke="url(#g665)"/>
<polygon points="365.6,140.6 390.5,127.6 415.4,138.4 390.5,151.4" fill="url(#g666)" stroke="url(#g666)"/>
<polygon points="340.7,153.7 365.6,140.6 390.5,151.4 365.6,164.4" fill="url(#g667)" stroke="url(#g667)"/>
<polygon points="278.5,133.5 290.9,132.2 315.8,142.9 303.4,147.3" fill="url(#g668)" stroke="url(#g668)"/>
<polygon points="266,134.7 278.5,133.5 303.4,147.3 290.9,151.6" fill="url(#g669)" stroke="url(#g669)"/>
<polygon points="253.6,136 266,134.7 290.9,151.6 278.4,156" fill="url(#g670)" stroke="url(#g670)"/>
<polygon points="303.4,147.3 315.8,142.9 340.7,153.7 328.2,161.1" fill="url(#g671)" stroke="url(#g671)"/>
<polygon points="290.9,151.6 303.4,147.3 328.2,161.1 315.8,168.6" fill="url(#g672)" stroke="url(#g672)"/>
<polygon points="278.4,156 290.9,151.6 315.8,168.6 303.3,176" fill="url(#g673)" stroke="url(#g673)"/>
<polygon points="328.2,161.1 340.7,153.7 365.6,164.4 353.1,174.9" fill="url(#g674)" stroke="url(#g674)"/>
<polygon points="315.8,168.6 328.2,161.1 353.1,174.9 340.7,185.5" fill="url(#g675)" stroke="url(#g675)"/>
<polygon points="303.3,176 315.8,168.6 340.7,185.5 328.2,196" fill="url(#g676)" stroke="url(#g676)"/>
<polygon points="247.3,158.8 253.6,136 278.4,156 272.2,175.8" fill="url(#g677)" stroke="url(#g677)"/>
<polygon points="241.1,181.6 247.3,158.8 272.2,175.8 266,195.5" fill="url(#g678)" stroke="url(#g678)"/>
<polygon points="234.9,204.4 241.1,181.6 266,195.5 259.8,215.3" fill="url(#g679)" stroke="url(#g679)"/>
<polygon points="272.2,175.8 278.4,156 303.3,176 297.1,192.7" fill="url(#g680)" stroke="url(#g680)"/>
<polygon points="266,195.5 272.2,175.8 297.1,192.7 290.9,209.4" fill="url(#g681)" stroke="url(#g681)"/>
<polygon points="259.8,215.3 266,195.5 290.9,209.4 284.7,226.1" fill="url(#g682)" stroke="url(#g682)"/>
<polygon points="297.1,192.7 303.3,176 328.2,196 322,209.7" fill="url(#g683)" stroke="url(#g683)"/>
<polygon points="290.9,209.4 297.1,192.7 322,209.7 315.8,223.3" fill="url(#g684)" stroke="url(#g684)"/>
<polygon points="284.7,226.1 290.9,209.4 315.8,223.3 309.6,237" fill="url(#g685)" stroke="url(#g685)"/>
<polygon points="415.4,138.4 440.3,125.4 452.8,136.1 427.9,147.8" fill="url(#g686)" stroke="url(#g686)"/>
<polygon points="390.5,151.4 415.4,138.4 427.9,147.8 403,159.6" fill="url(#g687)" stroke="url(#g687)"/>
<polygon points="365.6,164.4 390.5,151.4 403,159.6 378,171.3" fill="url(#g688)" stroke="url(#g688)"/>
<polygon points="427.9,147.8 452.8,136.1 465.2,146.9 440.3,157.3" fill="url(#g689)" stroke="url(#g689)"/>
<polygon points="403,159.6 427.9,147.8 440.3,157.3 415.4,167.7" fill="url(#g690)" stroke="url(#g690)"/>
<polygon points="378,171.3 403,159.6 415.4,167.7 390.5,178.1" fill="url(#g691)" stroke="url(#g691)"/>
<polygon points="440.3,157.3 465.2,146.9 477.7,157.6 452.8,166.7" fill="url(#g692)" stroke="url(#g692)"/>
<polygon points="415.4,167.7 440.3,157.3 452.8,166.7 427.8,175.9" fill="url(#g693)" stroke="url(#g693)"/>
<polygon points="390.5,178.1 415.4,167.7 427.8,175.9 402.9,185" fill="url(#g694)" stroke="url(#g694)"/>
<polygon points="353.1,174.9 365.6,164.4 378,171.3 365.6,183.7" fill="url(#g695)" stroke="url(#g695)"/>
<polygon points="340.7,185.5 353.1,174.9 365.6,183.7 353.1,196.1" fill="url(#g696)" stroke="url(#g696)"/>
<polygon points="328.2,196 340.7,185.5 353.1,196.1 340.7,208.5" fill="url(#g697)" stroke="url(#g697)"/>
<polygon points="365.6,183.7 378,171.3 390.5,178.1 378,192.4" fill="url(#g698)" stroke="url(#g698)"/>
<polygon points="353.1,196.1 365.6,183.7 378,192.4 365.6,206.8" fill="url(#g699)" stroke="url(#g699)"/>
<polygon points="340.7,208.5 353.1,196.1 365.6,206.8 353.1,221.1" fill="url(#g700)" stroke="url(#g700)"/>
<polygon points="378,192.4 390.5,178.1 402.9,185 390.5,201.2" fill="url(#g701)" stroke="url(#g701)"/>
<polygon points="365.6,206.8 378,192.4 390.5,201.2 378,217.4" fill="url(#g702)" stroke="url(#g702)"/>
<polygon points="353.1,221.1 365.6,206.8 378,217.4 365.6,233.6" fill="url(#g703)" stroke="url(#g703)"/>
<polygon points="322,209.7 328.2,196 340.7,208.5 334.5,220.9" fill="url(#g704)" stroke="url(#g704)"/>
<polygon points="315.8,223.3 322,209.7 334.5,220.9 328.2,233.3" fill="url(#g705)" stroke="url(#g705)"/>
<polygon points="309.6,237 315.8,223.3 328.2,233.3 322,245.7" fill="url(#g706)" stroke="url(#g706)"/>
<polygon points="334.5,220.9 340.7,208.5 353.1,221.1 346.9,232.2" fill="url(#g707)" stroke="url(#g707)"/>
<polygon points="328.2,233.3 334.5,220.9 346.9,232.2 340.7,243.2" fill="url(#g708)" stroke="url(#g708)"/>
<polygon points="322,245.7 328.2,233.3 340.7,243.2 334.5,254.3" fill="url(#g709)" stroke="url(#g709)"/>
<polygon points="346.9,232.2 353.1,221.1 365.6,233.6 359.4,243.4" fill="url(#g710)" stroke="url(#g710)"/>
<polygon points="340.7,243.2 346.9,232.2 359.4,243.4 353.1,253.2" fill="url(#g711)" stroke="url(#g711)"/>
<polygon points="334.5,254.3 340.7,243.2 353.1,253.2 346.9,263" fill="url(#g712)" stroke="url(#g712)"/>
<polygon points="452.8,166.7 477.7,157.6 483.9,167.4 459,175.1" fill="url(#g713)" stroke="url(#g713)"/>
<polygon points="427.8,175.9 452.8,166.7 459,175.1 434.1,182.8" fill="url(#g714)" stroke="url(#g714)"/>
<polygon points="402.9,185 427.8,175.9 434.1,182.8 409.2,190.5" fill="url(#g715)" stroke="url(#g715)"/>
<polygon points="459,175.1 483.9,167.4 490.1,177.2 465.2,183.4" fill="url(#g716)" stroke="url(#g716)"/>
<polygon points="434.1,182.8 459,175.1 465.2,183.4 440.3,189.7" fill="url(#g717)" stroke="url(#g717)"/>
<polygon points="409.2,190.5 434.1,182.8 440.3,189.7 415.4,195.9" fill="url(#g718)" stroke="url(#g718)"/>
<polygon points="465.2,183.4 490.1,177.2 496.3,187 471.4,191.8" fill="url(#g719)" stroke="url(#g719)"/>
<polygon points="440.3,189.7 465.2,183.4 471.4,191.8 446.5,196.6" fill="url(#g720)" stroke="url(#g720)"/>
<polygon points="415.4,195.9 440.3,189.7 446.5,196.6 421.6,201.4" fill="url(#g721)" stroke="url(#g721)"/>
<polygon points="390.5,201.2 402.9,185 409.2,190.5 396.7,207.6" fill="url(#g722)" stroke="url(#g722)"/>
<polygon points="378,217.4 390.5,201.2 396.7,207.6 384.3,224.7" fill="url(#g723)" stroke="url(#g723)"/>
<polygon points="365.6,233.6 378,217.4 384.3,224.7 371.8,241.9" fill="url(#g724)" stroke="url(#g724)"/>
<polygon points="396.7,207.6 409.2,190.5 415.4,195.9 402.9,214" fill="url(#g725)" stroke="url(#g725)"/>
<polygon points="384.3,224.7 396.7,207.6 402.9,214 390.5,232.1" fill="url(#g726)" stroke="url(#g726)"/>
<polygon points="371.8,241.9 384.3,224.7 390.5,232.1 378,250.1" fill="url(#g727)" stroke="url(#g727)"/>
<polygon points="402.9,214 415.4,195.9 421.6,201.4 409.2,220.4" fill="url(#g728)" stroke="url(#g728)"/>
<polygon points="390.5,232.1 402.9,214 409.2,220.4 396.7,239.4" fill="url(#g729)" stroke="url(#g729)"/>
<polygon points="378,250.1 390.5,232.1 396.7,239.4 384.3,258.4" fill="url(#g730)" stroke="url(#g730)"/>
<polygon points="359.4,243.4 365.6,233.6 371.8,241.9 365.6,250.4" fill="url(#g731)" stroke="url(#g731)"/>
<polygon points="353.1,253.2 359.4,243.4 365.6,250.4 359.4,258.9" fill="url(#g732)" stroke="url(#g732)"/>
<polygon points="346.9,263 353.1,253.2 359.4,258.9 353.1,267.5" fill="url(#g733)" stroke="url(#g733)"/>
<polygon points="365.6,250.4 371.8,241.9 378,250.1 371.8,257.4" fill="url(#g734)" stroke="url(#g734)"/>
<polygon points="359.4,258.9 365.6,250.4 371.8,257.4 365.6,264.7" fill="url(#g735)" stroke="url(#g735)"/>
<polygon points="353.1,267.5 359.4,258.9 365.6,264.7 359.4,271.9" fill="url(#g736)" stroke="url(#g736)"/>
<polygon points="371.8,257.4 378,250.1 384.3,258.4 378,264.4" fill="url(#g737)" stroke="url(#g737)"/>
<polygon points="365.6,264.7 371.8,257.4 378,264.4 371.8,270.4" fill="url(#g738)" stroke="url(#g738)"/>
<polygon points="359.4,271.9 365.6,264.7 371.8,270.4 365.6,276.4" fill="url(#g739)" stroke="url(#g739)"/>
<path d="M85.5 142L104.2 88.4M104.2 88.4L141.5 78.4M141.5 78.4L216.2 58.6M384.3 258.4L365.6 276.4M496.3 187L421.6 201.4" class="m n"/>
<path d="M253.6 136L104.2 88.4M234.9 204.4L253.6 136M234.9 204.4L85.5 142M290.9 132.2L141.5 78.4M253.6 136L290.9 132.2M216.2 58.6L365.6 93M290.9 132.2L365.6 93M328.2 196L253.6 136M309.6 237L328.2 196M309.6 237L234.9 204.4M365.6 164.4L290.9 132.2M328.2 196L365.6 164.4M365.6 93L440.3 125.4M365.6 164.4L440.3 125.4M365.6 233.6L328.2 196M346.9 263L365.6 233.6M346.9 263L309.6 237M402.9 185L365.6 164.4M365.6 233.6L402.9 185M440.3 125.4L477.7 157.6M402.9 185L477.7 157.6M384.3 258.4L365.6 233.6M365.6 276.4L346.9 263M421.6 201.4L402.9 185M477.7 157.6L496.3 187" class="m"/>
</g>
<rect x="528.5" y="89.5" width="12.0" height="180.0" fill="url(#cbar)"/>
<text x="555.8" y="273.9">0</text>
<text x="555.8" y="248.2">50</text>
<text x="555.8" y="222.5">100</text>
<text x="555.8" y="196.8">150</text>
<text x="555.8" y="171">200</text>
<text x="555.8" y="145.3">250</text>
<text x="555.8" y="119.6">300</text>
<text x="555.8" y="93.9">350</text>
<path d="M528.5 243.8h4M540.5 243.8h-4M528.5 218.1h4M540.5 218.1h-4M528.5 192.4h4M540.5 192.4h-4M528.5 166.6h4M540.5 166.6h-4M528.5 140.9h4M540.5 140.9h-4M528.5 115.2h4M540.5 115.2h-4" class="b"/>
<rect x="528.5" y="89.5" width="12.0" height="180.0" class="b"/>
<text x="200.5" y="376" text-anchor="middle">IO Depth</text>
<text x="521.5" y="403" text-anchor="middle">Guests</text>
<text x="521.5" y="421.5" text-anchor="middle">(1 Volume Each)</text>
</svg>
</svg>
</body></html>
